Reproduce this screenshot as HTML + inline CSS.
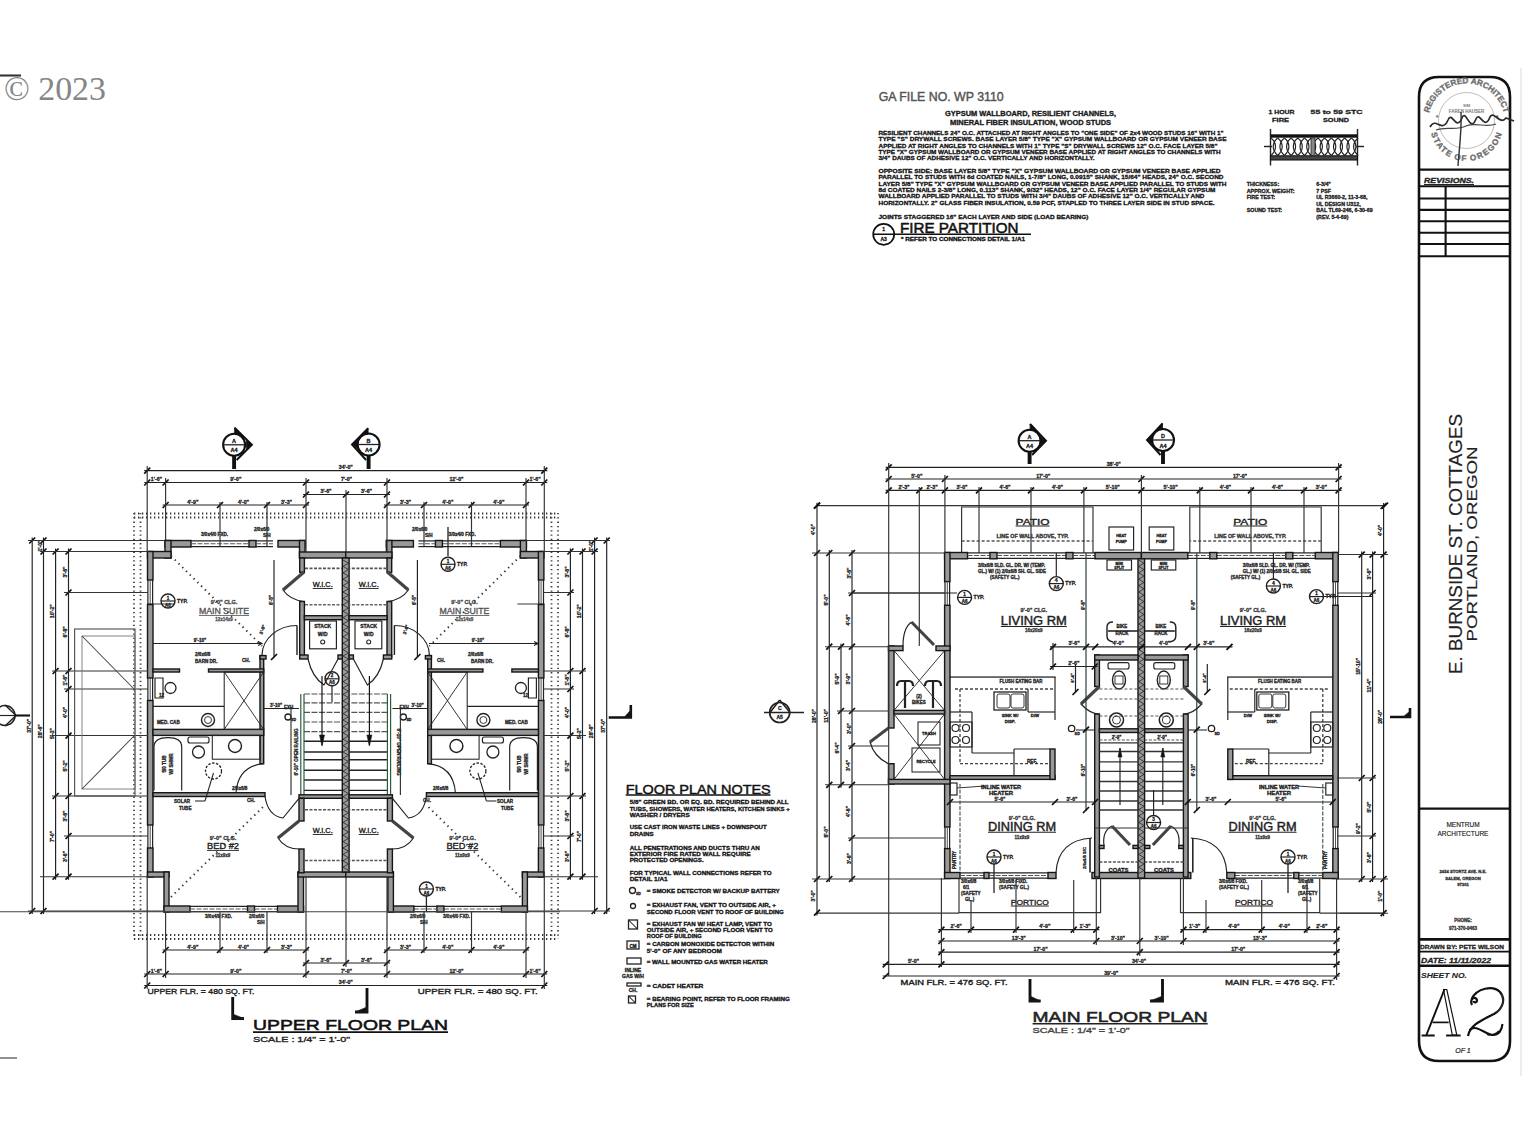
<!DOCTYPE html>
<html><head><meta charset="utf-8"><style>
html,body{margin:0;padding:0;background:#fff;}
body{width:1522px;height:1141px;overflow:hidden;}
svg{display:block;}
</style></head><body>
<svg width="1522" height="1141" viewBox="0 0 1522 1141">
<rect x="0" y="0" width="1522" height="1141" fill="#fff"/>
<line x1="0" y1="75.5" x2="21" y2="75.5" stroke="#333" stroke-width="2.08"/>
<text x="4" y="100" font-family="Liberation Serif" font-size="34" font-weight="normal" fill="#858585" text-anchor="start" textLength="102" lengthAdjust="spacingAndGlyphs">© 2023</text>
<rect x="1520" y="68" width="2" height="1008" fill="#ececec" stroke="none" stroke-width="0.0"/>
<path d="M1419,1041 L1419,97 Q1419,77 1439,77 L1490,77 Q1510,77 1510,97 L1510,1041 Q1510,1061 1490,1061 L1439,1061 Q1419,1061 1419,1041 Z" stroke="#111" stroke-width="2.6" fill="none"/>
<defs><path id="sealtop" d="M1432.5,140 A38.5,38.5 0 1 1 1500.5,140"/><path id="sealbot" d="M1436,130 A31,31 0 0 0 1497,130"/></defs>
<text font-family="Liberation Sans" font-size="8.2" font-weight="bold" fill="#666" stroke="#777" stroke-width="0.35" letter-spacing="0"><textPath href="#sealtop" startOffset="50%" text-anchor="middle">REGISTERED ARCHITECT</textPath></text>
<text font-family="Liberation Sans" font-size="8.2" font-weight="bold" fill="#666" stroke="#777" stroke-width="0.35" letter-spacing="0.3"><textPath href="#sealbot" startOffset="50%" text-anchor="middle" dominant-baseline="hanging">STATE OF OREGON</textPath></text>
<circle cx="1466.5" cy="120.5" r="28" stroke="#999" stroke-width="0.65" fill="none"/>
<text x="1466.5" y="107" font-family="Liberation Sans" font-size="4" font-weight="bold" fill="#777" text-anchor="middle">SIM</text>
<text x="1466.5" y="113" font-family="Liberation Sans" font-size="4.5" font-weight="bold" fill="#777" text-anchor="middle">FAREN HAUSER</text>
<text x="1437" y="120" font-family="Liberation Sans" font-size="7" font-weight="bold" fill="#666" text-anchor="middle">*</text>
<text x="1497" y="120" font-family="Liberation Sans" font-size="7" font-weight="bold" fill="#666" text-anchor="middle">*</text>
<path d="M1430,127 C1436,116 1442,134 1448,120 C1452,110 1456,132 1462,118 C1466,108 1470,134 1476,119 C1480,110 1484,132 1490,117 C1494,110 1500,126 1506,118 L1514,121" stroke="#2a2a2a" stroke-width="1.69" fill="none"/>
<path d="M1436,130 C1446,126 1456,131 1466,126 C1476,122 1486,128 1496,124" stroke="#444" stroke-width="1.17" fill="none"/>
<path d="M1461,112 C1462,130 1459,150 1458,166" stroke="#333" stroke-width="1.43" fill="none"/>
<line x1="1419" y1="169.6" x2="1510" y2="169.6" stroke="#111" stroke-width="2.34"/>
<text x="1424" y="183" font-family="Liberation Sans" font-size="6.5" font-weight="bold" fill="#222" text-anchor="start" textLength="50" lengthAdjust="spacingAndGlyphs" font-style="italic" stroke="#222" stroke-width="0.3">REVISIONS.</text>
<line x1="1424" y1="184.5" x2="1474" y2="184.5" stroke="#222" stroke-width="1.04"/>
<line x1="1419" y1="186.2" x2="1510" y2="186.2" stroke="#111" stroke-width="2.08"/>
<line x1="1419" y1="198.5" x2="1510" y2="198.5" stroke="#111" stroke-width="2.08"/>
<line x1="1419" y1="209.9" x2="1510" y2="209.9" stroke="#111" stroke-width="2.08"/>
<line x1="1419" y1="221.3" x2="1510" y2="221.3" stroke="#111" stroke-width="2.08"/>
<line x1="1419" y1="232.7" x2="1510" y2="232.7" stroke="#111" stroke-width="2.08"/>
<line x1="1419" y1="244" x2="1510" y2="244" stroke="#111" stroke-width="2.08"/>
<line x1="1419" y1="256.3" x2="1510" y2="256.3" stroke="#111" stroke-width="2.08"/>
<line x1="1445.6" y1="186.2" x2="1445.6" y2="256.3" stroke="#111" stroke-width="2.08"/>
<text x="1461.5" y="674" font-family="Liberation Sans" font-size="17.5" font-weight="normal" fill="#222" text-anchor="start" transform="rotate(-90 1461.5 674)" textLength="260" lengthAdjust="spacingAndGlyphs" stroke="#222" stroke-width="0.15">E. BURNSIDE ST. COTTAGES</text>
<text x="1477" y="641.5" font-family="Liberation Sans" font-size="15.5" font-weight="normal" fill="#222" text-anchor="start" transform="rotate(-90 1477 641.5)" textLength="195" lengthAdjust="spacingAndGlyphs" stroke="#222" stroke-width="0.15">PORTLAND, OREGON</text>
<line x1="1419" y1="808.6" x2="1510" y2="808.6" stroke="#111" stroke-width="2.08"/>
<text x="1463" y="827" font-family="Liberation Sans" font-size="6.5" font-weight="normal" fill="#222" text-anchor="middle" stroke="#222" stroke-width="0.15">MENTRUM</text>
<text x="1463" y="836" font-family="Liberation Sans" font-size="6.5" font-weight="normal" fill="#222" text-anchor="middle" stroke="#222" stroke-width="0.15">ARCHITECTURE</text>
<text x="1463" y="873" font-family="Liberation Sans" font-size="4.2" font-weight="bold" fill="#333" text-anchor="middle" stroke="#333" stroke-width="0.3">2454 STORTZ AVE. N.E.</text>
<text x="1463" y="879.5" font-family="Liberation Sans" font-size="4.2" font-weight="bold" fill="#333" text-anchor="middle" stroke="#333" stroke-width="0.3">SALEM, OREGON</text>
<text x="1463" y="886" font-family="Liberation Sans" font-size="4.2" font-weight="bold" fill="#333" text-anchor="middle" stroke="#333" stroke-width="0.3">97301</text>
<text x="1463" y="922" font-family="Liberation Sans" font-size="4.5" font-weight="bold" fill="#333" text-anchor="middle" stroke="#333" stroke-width="0.3">PHONE:</text>
<text x="1463" y="929.5" font-family="Liberation Sans" font-size="4.5" font-weight="bold" fill="#333" text-anchor="middle" stroke="#333" stroke-width="0.3">971-370-9463</text>
<line x1="1419" y1="939.4" x2="1510" y2="939.4" stroke="#111" stroke-width="2.6"/>
<text x="1420" y="948.6" font-family="Liberation Sans" font-size="6" font-weight="bold" fill="#222" text-anchor="start" textLength="84" lengthAdjust="spacingAndGlyphs" stroke="#222" stroke-width="0.3">DRAWN BY: PETE WILSON</text>
<line x1="1419" y1="951.7" x2="1510" y2="951.7" stroke="#111" stroke-width="1.82"/>
<text x="1421" y="962.7" font-family="Liberation Sans" font-size="8" font-weight="bold" fill="#222" text-anchor="start" textLength="70" lengthAdjust="spacingAndGlyphs" font-style="italic" stroke="#222" stroke-width="0.3">DATE: 11/11/2022</text>
<line x1="1419" y1="965.7" x2="1510" y2="965.7" stroke="#111" stroke-width="2.6"/>
<text x="1421" y="978.4" font-family="Liberation Sans" font-size="8" font-weight="bold" fill="#222" text-anchor="start" textLength="46" lengthAdjust="spacingAndGlyphs" font-style="italic" stroke="#222" stroke-width="0.1">SHEET NO.</text>
<path d="M1426.4,1035 L1444.4,989.5" stroke="#111" stroke-width="1.95" fill="none"/>
<path d="M1443.5,989.5 L1446.8,989.5 L1456.8,1035 L1452.3,1035 Z" stroke="#111" stroke-width="1.17" fill="none"/>
<path d="M1432.5,1022.4 L1448.7,1022.4" stroke="#111" stroke-width="1.69" fill="none"/>
<path d="M1421.6,1035.5 L1434.7,1035.5 M1446.1,1035.5 L1460.6,1035.5" stroke="#111" stroke-width="1.95" fill="none"/>
<path d="M1472,1005 C1469,998 1476,996 1477,1000 C1477,1003 1474,1003 1473.5,1001 M1471.5,999 C1477,988 1493,985 1500,992 C1506,999 1503,1009 1494,1014 C1482,1020 1470,1025 1468,1036" stroke="#111" stroke-width="2.21" fill="none"/>
<path d="M1501.5,994 C1505,1001 1502,1009 1496,1013" stroke="#333" stroke-width="1.17" fill="none"/>
<path d="M1469.5,1030 C1477,1023 1486,1036 1494,1035 C1500,1034 1502,1028 1502.5,1024 M1487,1034 C1492,1036 1497,1034 1499,1031" stroke="#111" stroke-width="2.08" fill="none"/>
<text x="1463" y="1053" font-family="Liberation Sans" font-size="7" font-weight="normal" fill="#222" text-anchor="middle" font-style="italic" stroke="#222" stroke-width="0.2">OF 1</text>
<text x="878.7" y="101.2" font-family="Liberation Sans" font-size="12" font-weight="normal" fill="#555" text-anchor="start" textLength="125" lengthAdjust="spacingAndGlyphs" stroke="#555" stroke-width="0.42000000000000004">GA FILE NO. WP 3110</text>
<text x="1030.5" y="116" font-family="Liberation Sans" font-size="6.5" font-weight="bold" fill="#1a1a1a" text-anchor="middle" textLength="171" lengthAdjust="spacingAndGlyphs" stroke="#1a1a1a" stroke-width="0.3">GYPSUM WALLBOARD, RESILIENT CHANNELS,</text>
<text x="1030.5" y="125" font-family="Liberation Sans" font-size="6.5" font-weight="bold" fill="#1a1a1a" text-anchor="middle" textLength="161" lengthAdjust="spacingAndGlyphs" stroke="#1a1a1a" stroke-width="0.3">MINERAL FIBER INSULATION, WOOD STUDS</text>
<text x="878.5" y="134.8" font-family="Liberation Sans" font-size="6.2" font-weight="bold" fill="#111" text-anchor="start" textLength="345" lengthAdjust="spacingAndGlyphs" stroke="#111" stroke-width="0.3">RESILIENT CHANNELS 24" O.C. ATTACHED AT RIGHT ANGLES TO "ONE SIDE" OF 2x4 WOOD STUDS 16" WITH 1"</text>
<text x="878.5" y="141.2" font-family="Liberation Sans" font-size="6.2" font-weight="bold" fill="#111" text-anchor="start" textLength="348" lengthAdjust="spacingAndGlyphs" stroke="#111" stroke-width="0.3">TYPE "S" DRYWALL SCREWS. BASE LAYER 5/8" TYPE "X" GYPSUM WALLBOARD OR GYPSUM VENEER BASE</text>
<text x="878.5" y="147.5" font-family="Liberation Sans" font-size="6.2" font-weight="bold" fill="#111" text-anchor="start" textLength="339" lengthAdjust="spacingAndGlyphs" stroke="#111" stroke-width="0.3">APPLIED AT RIGHT ANGLES TO CHANNELS WITH 1" TYPE "S" DRYWALL SCREWS 12" O.C. FACE LAYER 5/8"</text>
<text x="878.5" y="153.9" font-family="Liberation Sans" font-size="6.2" font-weight="bold" fill="#111" text-anchor="start" textLength="342" lengthAdjust="spacingAndGlyphs" stroke="#111" stroke-width="0.3">TYPE "X" GYPSUM WALLBOARD OR GYPSUM VENEER BASE APPLIED AT RIGHT ANGLES TO CHANNELS WITH</text>
<text x="878.5" y="160.2" font-family="Liberation Sans" font-size="6.2" font-weight="bold" fill="#111" text-anchor="start" textLength="216" lengthAdjust="spacingAndGlyphs" stroke="#111" stroke-width="0.3">3/4" DAUBS OF ADHESIVE 12" O.C. VERTICALLY AND HORIZONTALLY.</text>
<text x="878.5" y="173" font-family="Liberation Sans" font-size="6.2" font-weight="bold" fill="#111" text-anchor="start" textLength="342" lengthAdjust="spacingAndGlyphs" stroke="#111" stroke-width="0.3">OPPOSITE SIDE: BASE LAYER 5/8" TYPE "X" GYPSUM WALLBOARD OR GYPSUM VENEER BASE APPLIED</text>
<text x="878.5" y="179.3" font-family="Liberation Sans" font-size="6.2" font-weight="bold" fill="#111" text-anchor="start" textLength="345" lengthAdjust="spacingAndGlyphs" stroke="#111" stroke-width="0.3">PARALLEL TO STUDS WITH 6d COATED NAILS, 1-7/8" LONG, 0.0915" SHANK, 15/64" HEADS, 24" O.C. SECOND</text>
<text x="878.5" y="185.7" font-family="Liberation Sans" font-size="6.2" font-weight="bold" fill="#111" text-anchor="start" textLength="348" lengthAdjust="spacingAndGlyphs" stroke="#111" stroke-width="0.3">LAYER 5/8" TYPE "X" GYPSUM WALLBOARD OR GYPSUM VENEER BASE APPLIED PARALLEL TO STUDS WITH</text>
<text x="878.5" y="192.1" font-family="Liberation Sans" font-size="6.2" font-weight="bold" fill="#111" text-anchor="start" textLength="337" lengthAdjust="spacingAndGlyphs" stroke="#111" stroke-width="0.3">8d COATED NAILS 2-3/8" LONG, 0.113" SHANK, 9/32" HEADS, 12" O.C. FACE LAYER 1/4" REGULAR GYPSUM</text>
<text x="878.5" y="198.4" font-family="Liberation Sans" font-size="6.2" font-weight="bold" fill="#111" text-anchor="start" textLength="326" lengthAdjust="spacingAndGlyphs" stroke="#111" stroke-width="0.3">WALLBOARD APPLIED PARALLEL TO STUDS WITH 3/4" DAUBS OF ADHESIVE 12" O.C. VERTICALLY AND</text>
<text x="878.5" y="204.8" font-family="Liberation Sans" font-size="6.2" font-weight="bold" fill="#111" text-anchor="start" textLength="336" lengthAdjust="spacingAndGlyphs" stroke="#111" stroke-width="0.3">HORIZONTALLY. 2" GLASS FIBER INSULATION, 0.59 PCF, STAPLED TO THREE LAYER SIDE IN STUD SPACE.</text>
<text x="878.5" y="219" font-family="Liberation Sans" font-size="6" font-weight="bold" fill="#111" text-anchor="start" textLength="210" lengthAdjust="spacingAndGlyphs" stroke="#111" stroke-width="0.3">JOINTS STAGGERED 16" EACH LAYER AND SIDE (LOAD BEARING)</text>
<circle cx="883.7" cy="234.3" r="10.5" stroke="#111" stroke-width="1.69" fill="none"/>
<line x1="873.5" y1="234.3" x2="1031" y2="234.3" stroke="#111" stroke-width="1.56"/>
<text x="883.7" y="231" font-family="Liberation Sans" font-size="5" font-weight="bold" fill="#1a1a1a" text-anchor="middle" stroke="#1a1a1a" stroke-width="0.3">1</text>
<text x="883.7" y="241" font-family="Liberation Sans" font-size="5" font-weight="bold" fill="#1a1a1a" text-anchor="middle" stroke="#1a1a1a" stroke-width="0.3">A3</text>
<text x="900" y="232.8" font-family="Liberation Sans" font-size="14.5" font-weight="normal" fill="#111" text-anchor="start" textLength="118.5" lengthAdjust="spacingAndGlyphs" stroke="#111" stroke-width="0.5075000000000001">FIRE PARTITION</text>
<text x="901" y="241.3" font-family="Liberation Sans" font-size="5.6" font-weight="bold" fill="#111" text-anchor="start" textLength="124" lengthAdjust="spacingAndGlyphs" stroke="#111" stroke-width="0.3">* REFER TO CONNECTIONS DETAIL 1/A1</text>
<text x="1268.5" y="113.5" font-family="Liberation Sans" font-size="6" font-weight="bold" fill="#1a1a1a" text-anchor="start" textLength="26" lengthAdjust="spacingAndGlyphs" stroke="#1a1a1a" stroke-width="0.3">1 HOUR</text>
<text x="1272" y="121.5" font-family="Liberation Sans" font-size="6" font-weight="bold" fill="#1a1a1a" text-anchor="start" textLength="17" lengthAdjust="spacingAndGlyphs" stroke="#1a1a1a" stroke-width="0.3">FIRE</text>
<text x="1310.6" y="113.5" font-family="Liberation Sans" font-size="6" font-weight="bold" fill="#1a1a1a" text-anchor="start" textLength="52" lengthAdjust="spacingAndGlyphs" stroke="#1a1a1a" stroke-width="0.3">55 to 59 STC</text>
<text x="1323" y="121.5" font-family="Liberation Sans" font-size="6" font-weight="bold" fill="#1a1a1a" text-anchor="start" textLength="26" lengthAdjust="spacingAndGlyphs" stroke="#1a1a1a" stroke-width="0.3">SOUND</text>
<line x1="1270.5" y1="129" x2="1270.5" y2="165.5" stroke="#222" stroke-width="1.43"/>
<line x1="1357.5" y1="129" x2="1357.5" y2="165.5" stroke="#222" stroke-width="1.43"/>
<rect x="1270.5" y="134.3" width="87" height="3.4" fill="#111" stroke="none" stroke-width="0.0"/>
<rect x="1270.5" y="155.8" width="87" height="4.2" fill="#444" stroke="#111" stroke-width="1.04"/>
<path d="M1271.0,138 C1277.0,143 1277.0,150 1271.0,155.5 M1277.7,138 C1271.7,143 1271.7,150 1277.7,155.5" stroke="#222" stroke-width="1.17" fill="none"/>
<path d="M1277.7,138 C1283.7,143 1283.7,150 1277.7,155.5 M1284.4,138 C1278.4,143 1278.4,150 1284.4,155.5" stroke="#222" stroke-width="1.17" fill="none"/>
<path d="M1284.4,138 C1290.4,143 1290.4,150 1284.4,155.5 M1291.1000000000001,138 C1285.1000000000001,143 1285.1000000000001,150 1291.1000000000001,155.5" stroke="#222" stroke-width="1.17" fill="none"/>
<path d="M1291.1,138 C1297.1,143 1297.1,150 1291.1,155.5 M1297.8,138 C1291.8,143 1291.8,150 1297.8,155.5" stroke="#222" stroke-width="1.17" fill="none"/>
<path d="M1297.8,138 C1303.8,143 1303.8,150 1297.8,155.5 M1304.5,138 C1298.5,143 1298.5,150 1304.5,155.5" stroke="#222" stroke-width="1.17" fill="none"/>
<path d="M1304.5,138 C1310.5,143 1310.5,150 1304.5,155.5 M1311.2,138 C1305.2,143 1305.2,150 1311.2,155.5" stroke="#222" stroke-width="1.17" fill="none"/>
<path d="M1311.2,138 C1317.2,143 1317.2,150 1311.2,155.5 M1317.9,138 C1311.9,143 1311.9,150 1317.9,155.5" stroke="#222" stroke-width="1.17" fill="none"/>
<path d="M1317.9,138 C1323.9,143 1323.9,150 1317.9,155.5 M1324.6000000000001,138 C1318.6000000000001,143 1318.6000000000001,150 1324.6000000000001,155.5" stroke="#222" stroke-width="1.17" fill="none"/>
<path d="M1324.6,138 C1330.6,143 1330.6,150 1324.6,155.5 M1331.3,138 C1325.3,143 1325.3,150 1331.3,155.5" stroke="#222" stroke-width="1.17" fill="none"/>
<path d="M1331.3,138 C1337.3,143 1337.3,150 1331.3,155.5 M1338.0,138 C1332.0,143 1332.0,150 1338.0,155.5" stroke="#222" stroke-width="1.17" fill="none"/>
<path d="M1338.0,138 C1344.0,143 1344.0,150 1338.0,155.5 M1344.7,138 C1338.7,143 1338.7,150 1344.7,155.5" stroke="#222" stroke-width="1.17" fill="none"/>
<path d="M1344.7,138 C1350.7,143 1350.7,150 1344.7,155.5 M1351.4,138 C1345.4,143 1345.4,150 1351.4,155.5" stroke="#222" stroke-width="1.17" fill="none"/>
<path d="M1351.4,138 C1357.4,143 1357.4,150 1351.4,155.5 M1358.1000000000001,138 C1352.1000000000001,143 1352.1000000000001,150 1358.1000000000001,155.5" stroke="#222" stroke-width="1.17" fill="none"/>
<rect x="1311" y="138" width="4" height="17.5" fill="#888" stroke="#222" stroke-width="0.78"/>
<line x1="1264" y1="146.5" x2="1272" y2="146.5" stroke="#222" stroke-width="1.43"/>
<line x1="1356" y1="146.5" x2="1364" y2="146.5" stroke="#222" stroke-width="1.43"/>
<text x="1246.8" y="186.3" font-family="Liberation Sans" font-size="5.3" font-weight="bold" fill="#1a1a1a" text-anchor="start" stroke="#1a1a1a" stroke-width="0.3">THICKNESS:</text>
<text x="1246.8" y="192.6" font-family="Liberation Sans" font-size="5.3" font-weight="bold" fill="#1a1a1a" text-anchor="start" stroke="#1a1a1a" stroke-width="0.3">APPROX. WEIGHT:</text>
<text x="1246.8" y="199.4" font-family="Liberation Sans" font-size="5.3" font-weight="bold" fill="#1a1a1a" text-anchor="start" stroke="#1a1a1a" stroke-width="0.3">FIRE TEST:</text>
<text x="1246.8" y="211.9" font-family="Liberation Sans" font-size="5.3" font-weight="bold" fill="#1a1a1a" text-anchor="start" stroke="#1a1a1a" stroke-width="0.3">SOUND TEST:</text>
<text x="1316.3" y="186.3" font-family="Liberation Sans" font-size="5.3" font-weight="bold" fill="#1a1a1a" text-anchor="start" stroke="#1a1a1a" stroke-width="0.3">6-3/4"</text>
<text x="1316.3" y="192.6" font-family="Liberation Sans" font-size="5.3" font-weight="bold" fill="#1a1a1a" text-anchor="start" stroke="#1a1a1a" stroke-width="0.3">7 PSF</text>
<text x="1316.3" y="199.4" font-family="Liberation Sans" font-size="5.3" font-weight="bold" fill="#1a1a1a" text-anchor="start" stroke="#1a1a1a" stroke-width="0.3">UL R3660-2, 11-3-68,</text>
<text x="1316.3" y="205.7" font-family="Liberation Sans" font-size="5.3" font-weight="bold" fill="#1a1a1a" text-anchor="start" stroke="#1a1a1a" stroke-width="0.3">UL DESIGN U312,</text>
<text x="1316.3" y="211.9" font-family="Liberation Sans" font-size="5.3" font-weight="bold" fill="#1a1a1a" text-anchor="start" stroke="#1a1a1a" stroke-width="0.3">BAL TL69-246, 6-30-69</text>
<text x="1316.3" y="218.8" font-family="Liberation Sans" font-size="5.3" font-weight="bold" fill="#1a1a1a" text-anchor="start" stroke="#1a1a1a" stroke-width="0.3">(REV. 5-4-69)</text>
<text x="625.7" y="793.5" font-family="Liberation Sans" font-size="13" font-weight="normal" fill="#111" text-anchor="start" textLength="145" lengthAdjust="spacingAndGlyphs" stroke="#111" stroke-width="0.45500000000000007">FLOOR PLAN NOTES</text>
<line x1="625.7" y1="795" x2="770.5" y2="795" stroke="#111" stroke-width="1.56"/>
<text x="629.7" y="804" font-family="Liberation Sans" font-size="5.8" font-weight="bold" fill="#111" text-anchor="start" textLength="159" lengthAdjust="spacingAndGlyphs" stroke="#111" stroke-width="0.3">5/8" GREEN BD. OR EQ. BD. REQUIRED BEHIND ALL</text>
<text x="629.7" y="810.7" font-family="Liberation Sans" font-size="5.8" font-weight="bold" fill="#111" text-anchor="start" textLength="160" lengthAdjust="spacingAndGlyphs" stroke="#111" stroke-width="0.3">TUBS, SHOWERS, WATER HEATERS, KITCHEN SINKS +</text>
<text x="629.7" y="817" font-family="Liberation Sans" font-size="5.8" font-weight="bold" fill="#111" text-anchor="start" textLength="60" lengthAdjust="spacingAndGlyphs" stroke="#111" stroke-width="0.3">WASHER / DRYERS</text>
<text x="629.7" y="829" font-family="Liberation Sans" font-size="5.8" font-weight="bold" fill="#111" text-anchor="start" textLength="137" lengthAdjust="spacingAndGlyphs" stroke="#111" stroke-width="0.3">USE CAST IRON WASTE LINES + DOWNSPOUT</text>
<text x="629.7" y="836" font-family="Liberation Sans" font-size="5.8" font-weight="bold" fill="#111" text-anchor="start" textLength="24" lengthAdjust="spacingAndGlyphs" stroke="#111" stroke-width="0.3">DRAINS</text>
<text x="629.7" y="849.6" font-family="Liberation Sans" font-size="5.8" font-weight="bold" fill="#111" text-anchor="start" textLength="130" lengthAdjust="spacingAndGlyphs" stroke="#111" stroke-width="0.3">ALL PENETRATIONS AND DUCTS THRU AN</text>
<text x="629.7" y="856" font-family="Liberation Sans" font-size="5.8" font-weight="bold" fill="#111" text-anchor="start" textLength="121" lengthAdjust="spacingAndGlyphs" stroke="#111" stroke-width="0.3">EXTERIOR FIRE RATED WALL REQUIRE</text>
<text x="629.7" y="862" font-family="Liberation Sans" font-size="5.8" font-weight="bold" fill="#111" text-anchor="start" textLength="74" lengthAdjust="spacingAndGlyphs" stroke="#111" stroke-width="0.3">PROTECTED OPENINGS.</text>
<text x="629.7" y="875" font-family="Liberation Sans" font-size="5.8" font-weight="bold" fill="#111" text-anchor="start" textLength="142" lengthAdjust="spacingAndGlyphs" stroke="#111" stroke-width="0.3">FOR TYPICAL WALL CONNECTIONS REFER TO</text>
<text x="629.7" y="881" font-family="Liberation Sans" font-size="5.8" font-weight="bold" fill="#111" text-anchor="start" textLength="38" lengthAdjust="spacingAndGlyphs" stroke="#111" stroke-width="0.3">DETAIL 1/A1</text>
<text x="646.8" y="893" font-family="Liberation Sans" font-size="5.8" font-weight="bold" fill="#111" text-anchor="start" textLength="133" lengthAdjust="spacingAndGlyphs" stroke="#111" stroke-width="0.3">= SMOKE DETECTOR W/ BACKUP BATTERY</text>
<text x="646.8" y="907" font-family="Liberation Sans" font-size="5.8" font-weight="bold" fill="#111" text-anchor="start" textLength="129" lengthAdjust="spacingAndGlyphs" stroke="#111" stroke-width="0.3">= EXHAUST FAN, VENT TO OUTSIDE AIR, +</text>
<text x="646.8" y="914" font-family="Liberation Sans" font-size="5.8" font-weight="bold" fill="#111" text-anchor="start" textLength="137" lengthAdjust="spacingAndGlyphs" stroke="#111" stroke-width="0.3">SECOND FLOOR VENT TO ROOF OF BUILDING</text>
<text x="646.8" y="925.6" font-family="Liberation Sans" font-size="5.8" font-weight="bold" fill="#111" text-anchor="start" textLength="125" lengthAdjust="spacingAndGlyphs" stroke="#111" stroke-width="0.3">= EXHAUST FAN W/ HEAT LAMP, VENT TO</text>
<text x="646.8" y="932" font-family="Liberation Sans" font-size="5.8" font-weight="bold" fill="#111" text-anchor="start" textLength="126" lengthAdjust="spacingAndGlyphs" stroke="#111" stroke-width="0.3">OUTSIDE AIR, + SECOND FLOOR VENT TO</text>
<text x="646.8" y="938" font-family="Liberation Sans" font-size="5.8" font-weight="bold" fill="#111" text-anchor="start" textLength="55" lengthAdjust="spacingAndGlyphs" stroke="#111" stroke-width="0.3">ROOF OF BUILDING</text>
<text x="646.8" y="946" font-family="Liberation Sans" font-size="5.8" font-weight="bold" fill="#111" text-anchor="start" textLength="127.5" lengthAdjust="spacingAndGlyphs" stroke="#111" stroke-width="0.3">= CARBON MONOXIDE DETECTOR WITHIN</text>
<text x="646.8" y="952.6" font-family="Liberation Sans" font-size="5.8" font-weight="bold" fill="#111" text-anchor="start" textLength="75" lengthAdjust="spacingAndGlyphs" stroke="#111" stroke-width="0.3">5'-0" OF ANY BEDROOM</text>
<text x="646.8" y="964" font-family="Liberation Sans" font-size="5.8" font-weight="bold" fill="#111" text-anchor="start" textLength="121" lengthAdjust="spacingAndGlyphs" stroke="#111" stroke-width="0.3">= WALL MOUNTED GAS WATER HEATER</text>
<text x="646.8" y="988" font-family="Liberation Sans" font-size="5.8" font-weight="bold" fill="#111" text-anchor="start" textLength="56.5" lengthAdjust="spacingAndGlyphs" stroke="#111" stroke-width="0.3">= CADET HEATER</text>
<text x="646.8" y="1000.5" font-family="Liberation Sans" font-size="5.8" font-weight="bold" fill="#111" text-anchor="start" textLength="143" lengthAdjust="spacingAndGlyphs" stroke="#111" stroke-width="0.3">= BEARING POINT, REFER TO FLOOR FRAMING</text>
<text x="646.8" y="1007" font-family="Liberation Sans" font-size="5.8" font-weight="bold" fill="#111" text-anchor="start" textLength="47" lengthAdjust="spacingAndGlyphs" stroke="#111" stroke-width="0.3">PLANS FOR SIZE</text>
<circle cx="632.5" cy="890.5" r="3" stroke="#222" stroke-width="1.3" fill="none"/>
<text x="636" y="895" font-family="Liberation Sans" font-size="3.5" font-weight="bold" fill="#1a1a1a" text-anchor="start" stroke="#1a1a1a" stroke-width="0.3">SD</text>
<circle cx="633" cy="906" r="2.5" stroke="#222" stroke-width="1.3" fill="none"/>
<rect x="628.5" y="920" width="9" height="9" fill="none" stroke="#222" stroke-width="1.3"/>
<line x1="628.5" y1="920" x2="637.5" y2="929" stroke="#222" stroke-width="1.04"/>
<rect x="627" y="941" width="12" height="8" fill="none" stroke="#222" stroke-width="1.3"/>
<text x="633" y="947.5" font-family="Liberation Sans" font-size="4.5" font-weight="bold" fill="#1a1a1a" text-anchor="middle" stroke="#1a1a1a" stroke-width="0.3">CM</text>
<rect x="627" y="958" width="14" height="6" fill="none" stroke="#222" stroke-width="1.3"/>
<text x="633" y="971.5" font-family="Liberation Sans" font-size="5" font-weight="bold" fill="#1a1a1a" text-anchor="middle" stroke="#1a1a1a" stroke-width="0.3">INLINE</text>
<text x="633" y="977.5" font-family="Liberation Sans" font-size="5" font-weight="bold" fill="#1a1a1a" text-anchor="middle" stroke="#1a1a1a" stroke-width="0.3">GAS W/H</text>
<rect x="627" y="983" width="14" height="3" fill="none" stroke="#222" stroke-width="1.3"/>
<text x="633" y="992" font-family="Liberation Sans" font-size="5" font-weight="bold" fill="#1a1a1a" text-anchor="middle" stroke="#1a1a1a" stroke-width="0.3">CH.</text>
<rect x="628.5" y="996" width="7" height="7" fill="none" stroke="#222" stroke-width="1.3"/>
<line x1="628.5" y1="996" x2="635.5" y2="1003" stroke="#222" stroke-width="1.04"/>
<line x1="0" y1="1058" x2="17" y2="1058" stroke="#555" stroke-width="1.3"/>
<line x1="134" y1="513.5" x2="557" y2="513.5" stroke="#333" stroke-width="1.95" stroke-dasharray="1.3 2.7"/>
<line x1="134" y1="517.5" x2="557" y2="517.5" stroke="#333" stroke-width="1.95" stroke-dasharray="1.3 2.7"/>
<line x1="134" y1="935" x2="557" y2="935" stroke="#333" stroke-width="1.95" stroke-dasharray="1.3 2.7"/>
<line x1="134" y1="939" x2="557" y2="939" stroke="#333" stroke-width="1.95" stroke-dasharray="1.3 2.7"/>
<line x1="134" y1="513" x2="134" y2="939" stroke="#444" stroke-width="1.82" stroke-dasharray="1.3 3"/>
<line x1="140.5" y1="513" x2="140.5" y2="939" stroke="#444" stroke-width="1.82" stroke-dasharray="1.3 3"/>
<line x1="551.5" y1="513" x2="551.5" y2="939" stroke="#444" stroke-width="1.82" stroke-dasharray="1.3 3"/>
<line x1="558" y1="513" x2="558" y2="939" stroke="#444" stroke-width="1.82" stroke-dasharray="1.3 3"/>
<rect x="165" y="540.5" width="26" height="6.5" fill="#999" stroke="#151515" stroke-width="1.4"/>
<rect x="500.4" y="540.5" width="26" height="6.5" fill="#999" stroke="#151515" stroke-width="1.4"/>
<line x1="191" y1="540.9" x2="249" y2="540.9" stroke="#222" stroke-width="1.23"/>
<line x1="191" y1="546.6" x2="249" y2="546.6" stroke="#222" stroke-width="1.23"/>
<line x1="191" y1="543.8" x2="249" y2="543.8" stroke="#555" stroke-width="1.04" stroke-dasharray="5 1.5"/>
<line x1="442.4" y1="540.9" x2="500.4" y2="540.9" stroke="#222" stroke-width="1.23"/>
<line x1="442.4" y1="546.6" x2="500.4" y2="546.6" stroke="#222" stroke-width="1.23"/>
<line x1="442.4" y1="543.8" x2="500.4" y2="543.8" stroke="#555" stroke-width="1.04" stroke-dasharray="5 1.5"/>
<rect x="249" y="540.5" width="7" height="6.5" fill="#999" stroke="#151515" stroke-width="1.4"/>
<rect x="435.4" y="540.5" width="7" height="6.5" fill="#999" stroke="#151515" stroke-width="1.4"/>
<line x1="256" y1="540.9" x2="273" y2="540.9" stroke="#222" stroke-width="1.23"/>
<line x1="256" y1="546.6" x2="273" y2="546.6" stroke="#222" stroke-width="1.23"/>
<line x1="256" y1="543.8" x2="273" y2="543.8" stroke="#555" stroke-width="1.04" stroke-dasharray="5 1.5"/>
<line x1="418.4" y1="540.9" x2="435.4" y2="540.9" stroke="#222" stroke-width="1.23"/>
<line x1="418.4" y1="546.6" x2="435.4" y2="546.6" stroke="#222" stroke-width="1.23"/>
<line x1="418.4" y1="543.8" x2="435.4" y2="543.8" stroke="#555" stroke-width="1.04" stroke-dasharray="5 1.5"/>
<rect x="278" y="540.5" width="27" height="6.5" fill="#999" stroke="#151515" stroke-width="1.4"/>
<rect x="386.4" y="540.5" width="27" height="6.5" fill="#999" stroke="#151515" stroke-width="1.4"/>
<rect x="299.5" y="540.5" width="5.5" height="17.5" fill="#999" stroke="#151515" stroke-width="1.4"/>
<rect x="386.4" y="540.5" width="5.5" height="17.5" fill="#999" stroke="#151515" stroke-width="1.4"/>
<rect x="165" y="540.5" width="6" height="17.5" fill="#999" stroke="#151515" stroke-width="1.4"/>
<rect x="520.4" y="540.5" width="6" height="17.5" fill="#999" stroke="#151515" stroke-width="1.4"/>
<rect x="147.5" y="551.5" width="23.5" height="6.5" fill="#999" stroke="#151515" stroke-width="1.4"/>
<rect x="520.4" y="551.5" width="23.5" height="6.5" fill="#999" stroke="#151515" stroke-width="1.4"/>
<rect x="299.5" y="552" width="46.2" height="6" fill="#999" stroke="#151515" stroke-width="1.4"/>
<rect x="345.7" y="552" width="46.2" height="6" fill="#999" stroke="#151515" stroke-width="1.4"/>
<rect x="147.5" y="551.5" width="5.5" height="28.5" fill="#999" stroke="#151515" stroke-width="1.4"/>
<rect x="538.4" y="551.5" width="5.5" height="28.5" fill="#999" stroke="#151515" stroke-width="1.4"/>
<line x1="147.9" y1="580" x2="147.9" y2="604.5" stroke="#222" stroke-width="1.23"/>
<line x1="152.6" y1="580" x2="152.6" y2="604.5" stroke="#222" stroke-width="1.23"/>
<line x1="150.2" y1="580" x2="150.2" y2="604.5" stroke="#555" stroke-width="1.04"/>
<line x1="538.8" y1="580" x2="538.8" y2="604.5" stroke="#222" stroke-width="1.23"/>
<line x1="543.5" y1="580" x2="543.5" y2="604.5" stroke="#222" stroke-width="1.23"/>
<line x1="541.1" y1="580" x2="541.1" y2="604.5" stroke="#555" stroke-width="1.04"/>
<rect x="147.5" y="604.5" width="5.5" height="73.5" fill="#999" stroke="#151515" stroke-width="1.4"/>
<rect x="538.4" y="604.5" width="5.5" height="73.5" fill="#999" stroke="#151515" stroke-width="1.4"/>
<line x1="147.9" y1="678" x2="147.9" y2="700.5" stroke="#222" stroke-width="1.23"/>
<line x1="152.6" y1="678" x2="152.6" y2="700.5" stroke="#222" stroke-width="1.23"/>
<line x1="150.2" y1="678" x2="150.2" y2="700.5" stroke="#555" stroke-width="1.04"/>
<line x1="538.8" y1="678" x2="538.8" y2="700.5" stroke="#222" stroke-width="1.23"/>
<line x1="543.5" y1="678" x2="543.5" y2="700.5" stroke="#222" stroke-width="1.23"/>
<line x1="541.1" y1="678" x2="541.1" y2="700.5" stroke="#555" stroke-width="1.04"/>
<rect x="147.5" y="700.5" width="5.5" height="124.5" fill="#999" stroke="#151515" stroke-width="1.4"/>
<rect x="538.4" y="700.5" width="5.5" height="124.5" fill="#999" stroke="#151515" stroke-width="1.4"/>
<line x1="147.9" y1="825" x2="147.9" y2="848" stroke="#222" stroke-width="1.23"/>
<line x1="152.6" y1="825" x2="152.6" y2="848" stroke="#222" stroke-width="1.23"/>
<line x1="150.2" y1="825" x2="150.2" y2="848" stroke="#555" stroke-width="1.04"/>
<line x1="538.8" y1="825" x2="538.8" y2="848" stroke="#222" stroke-width="1.23"/>
<line x1="543.5" y1="825" x2="543.5" y2="848" stroke="#222" stroke-width="1.23"/>
<line x1="541.1" y1="825" x2="541.1" y2="848" stroke="#555" stroke-width="1.04"/>
<rect x="147.5" y="848" width="5.5" height="29" fill="#999" stroke="#151515" stroke-width="1.4"/>
<rect x="538.4" y="848" width="5.5" height="29" fill="#999" stroke="#151515" stroke-width="1.4"/>
<rect x="147.5" y="872" width="21.5" height="5" fill="#999" stroke="#151515" stroke-width="1.4"/>
<rect x="522.4" y="872" width="21.5" height="5" fill="#999" stroke="#151515" stroke-width="1.4"/>
<rect x="164" y="872" width="5" height="40" fill="#999" stroke="#151515" stroke-width="1.4"/>
<rect x="522.4" y="872" width="5" height="40" fill="#999" stroke="#151515" stroke-width="1.4"/>
<rect x="164" y="906" width="26" height="6" fill="#999" stroke="#151515" stroke-width="1.4"/>
<rect x="501.4" y="906" width="26" height="6" fill="#999" stroke="#151515" stroke-width="1.4"/>
<line x1="190" y1="906.4" x2="247.5" y2="906.4" stroke="#222" stroke-width="1.23"/>
<line x1="190" y1="911.6" x2="247.5" y2="911.6" stroke="#222" stroke-width="1.23"/>
<line x1="190" y1="909" x2="247.5" y2="909" stroke="#555" stroke-width="1.04" stroke-dasharray="5 1.5"/>
<line x1="443.9" y1="906.4" x2="501.4" y2="906.4" stroke="#222" stroke-width="1.23"/>
<line x1="443.9" y1="911.6" x2="501.4" y2="911.6" stroke="#222" stroke-width="1.23"/>
<line x1="443.9" y1="909" x2="501.4" y2="909" stroke="#555" stroke-width="1.04" stroke-dasharray="5 1.5"/>
<rect x="247.5" y="906" width="7" height="6" fill="#999" stroke="#151515" stroke-width="1.4"/>
<rect x="436.9" y="906" width="7" height="6" fill="#999" stroke="#151515" stroke-width="1.4"/>
<line x1="254.5" y1="906.4" x2="277.5" y2="906.4" stroke="#222" stroke-width="1.23"/>
<line x1="254.5" y1="911.6" x2="277.5" y2="911.6" stroke="#222" stroke-width="1.23"/>
<line x1="254.5" y1="909" x2="277.5" y2="909" stroke="#555" stroke-width="1.04" stroke-dasharray="5 1.5"/>
<line x1="413.9" y1="906.4" x2="436.9" y2="906.4" stroke="#222" stroke-width="1.23"/>
<line x1="413.9" y1="911.6" x2="436.9" y2="911.6" stroke="#222" stroke-width="1.23"/>
<line x1="413.9" y1="909" x2="436.9" y2="909" stroke="#555" stroke-width="1.04" stroke-dasharray="5 1.5"/>
<rect x="277.5" y="906" width="26" height="6" fill="#999" stroke="#151515" stroke-width="1.4"/>
<rect x="387.9" y="906" width="26" height="6" fill="#999" stroke="#151515" stroke-width="1.4"/>
<rect x="298" y="872" width="5.5" height="40" fill="#999" stroke="#151515" stroke-width="1.4"/>
<rect x="387.9" y="872" width="5.5" height="40" fill="#999" stroke="#151515" stroke-width="1.4"/>
<rect x="298" y="872" width="47.7" height="5" fill="#999" stroke="#151515" stroke-width="1.4"/>
<rect x="345.7" y="872" width="47.7" height="5" fill="#999" stroke="#151515" stroke-width="1.4"/>
<rect x="342.3" y="558" width="6.8" height="314" fill="#9a9a9a" stroke="#151515" stroke-width="1.4"/>
<path d="M343,560 L348.5,563.2 L343,566.4 L348.5,569.6 L343,572.8 L348.5,576.0 L343,579.2 L348.5,582.4 L343,585.6 L348.5,588.8 L343,592.0 L348.5,595.2 L343,598.4 L348.5,601.6 L343,604.8 L348.5,608.0 L343,611.2 L348.5,614.4 L343,617.6 L348.5,620.8 L343,624.0 L348.5,627.2 L343,630.4 L348.5,633.6 L343,636.8 L348.5,640.0 L343,643.2 L348.5,646.4 L343,649.6 L348.5,652.8 L343,656.0 L348.5,659.2 L343,662.4 L348.5,665.6 L343,668.8 L348.5,672.0 L343,675.2 L348.5,678.4 L343,681.6 L348.5,684.8 L343,688.0 L348.5,691.2 L343,694.4 L348.5,697.6 L343,700.8 L348.5,704.0 L343,707.2 L348.5,710.4 L343,713.6 L348.5,716.8 L343,720.0 L348.5,723.2 L343,726.4 L348.5,729.6 L343,732.8 L348.5,736.0 L343,739.2 L348.5,742.4 L343,745.6 L348.5,748.8 L343,752.0 L348.5,755.2 L343,758.4 L348.5,761.6 L343,764.8 L348.5,768.0 L343,771.2 L348.5,774.4 L343,777.6 L348.5,780.8 L343,784.0 L348.5,787.2 L343,790.4 L348.5,793.6 L343,796.8 L348.5,800.0 L343,803.2 L348.5,806.4 L343,809.6 L348.5,812.8 L343,816.0 L348.5,819.2 L343,822.4000000000001 L348.5,825.6 L343,828.8 L348.5,832.0 L343,835.2 L348.5,838.4000000000001 L343,841.6 L348.5,844.8 L343,848.0 L348.5,851.2 L343,854.4000000000001 L348.5,857.6 L343,860.8 L348.5,864.0 L343,867.2 L348.5,870.4000000000001" stroke="#222" stroke-width="0.78" fill="none"/>
<rect x="299.7" y="558" width="4.7" height="14.3" fill="#999" stroke="#151515" stroke-width="1.4"/>
<rect x="387" y="558" width="4.7" height="14.3" fill="#999" stroke="#151515" stroke-width="1.4"/>
<rect x="299.7" y="601.5" width="4.7" height="55.5" fill="#999" stroke="#151515" stroke-width="1.4"/>
<rect x="387" y="601.5" width="4.7" height="55.5" fill="#999" stroke="#151515" stroke-width="1.4"/>
<rect x="299.7" y="655" width="8.3" height="4" fill="#999" stroke="#151515" stroke-width="1.4"/>
<rect x="383.4" y="655" width="8.3" height="4" fill="#999" stroke="#151515" stroke-width="1.4"/>
<rect x="304.4" y="615.7" width="37.9" height="4" fill="#999" stroke="#151515" stroke-width="1.4"/>
<rect x="349.1" y="615.7" width="37.9" height="4" fill="#999" stroke="#151515" stroke-width="1.4"/>
<rect x="338" y="655" width="4.3" height="4" fill="#999" stroke="#151515" stroke-width="1.4"/>
<rect x="349.1" y="655" width="4.3" height="4" fill="#999" stroke="#151515" stroke-width="1.4"/>
<rect x="309.6" y="621" width="26.8" height="27.8" fill="none" stroke="#222" stroke-width="1.17"/>
<rect x="355" y="621" width="26.8" height="27.8" fill="none" stroke="#222" stroke-width="1.17"/>
<line x1="305" y1="568.4" x2="342" y2="568.4" stroke="#555" stroke-width="1.56" stroke-dasharray="3 1.5"/>
<line x1="386.4" y1="568.4" x2="349.4" y2="568.4" stroke="#555" stroke-width="1.56" stroke-dasharray="3 1.5"/>
<line x1="305" y1="604.7" x2="342" y2="604.7" stroke="#666" stroke-width="1.56" stroke-dasharray="3 1.5"/>
<line x1="386.4" y1="604.7" x2="349.4" y2="604.7" stroke="#666" stroke-width="1.56" stroke-dasharray="3 1.5"/>
<path d="M304,572 L283,590 Q290,600 304,601.5" stroke="#222" stroke-width="1.17" fill="none"/>
<path d="M387.4,572 L408.4,590 Q401.4,600 387.4,601.5" stroke="#222" stroke-width="1.17" fill="none"/>
<path d="M283,590 L304,572" stroke="#444" stroke-width="3.25" fill="none"/>
<path d="M408.4,590 L387.4,572" stroke="#444" stroke-width="3.25" fill="none"/>
<path d="M308,659 Q312,677 324,685 L338,659" stroke="#222" stroke-width="1.17" fill="none"/>
<path d="M383.4,659 Q379.4,677 367.4,685 L353.4,659" stroke="#222" stroke-width="1.17" fill="none"/>
<rect x="260" y="655.6" width="3.7" height="108.1" fill="#999" stroke="#151515" stroke-width="1.4"/>
<rect x="427.7" y="655.6" width="3.7" height="108.1" fill="#999" stroke="#151515" stroke-width="1.4"/>
<rect x="260" y="655.6" width="6" height="3.4" fill="#999" stroke="#151515" stroke-width="1.4"/>
<rect x="425.4" y="655.6" width="6" height="3.4" fill="#999" stroke="#151515" stroke-width="1.4"/>
<rect x="153" y="669" width="26.5" height="3" fill="#999" stroke="#151515" stroke-width="1.4"/>
<rect x="511.9" y="669" width="26.5" height="3" fill="#999" stroke="#151515" stroke-width="1.4"/>
<rect x="208.5" y="669" width="55.2" height="3" fill="#999" stroke="#151515" stroke-width="1.4"/>
<rect x="427.7" y="669" width="55.2" height="3" fill="#999" stroke="#151515" stroke-width="1.4"/>
<rect x="153" y="729.4" width="110.7" height="6" fill="#999" stroke="#151515" stroke-width="1.4"/>
<rect x="427.7" y="729.4" width="110.7" height="6" fill="#999" stroke="#151515" stroke-width="1.4"/>
<rect x="153" y="792.7" width="112" height="3.8" fill="#999" stroke="#151515" stroke-width="1.4"/>
<rect x="426.4" y="792.7" width="112" height="3.8" fill="#999" stroke="#151515" stroke-width="1.4"/>
<rect x="224.2" y="672" width="39.5" height="57.4" fill="none" stroke="#222" stroke-width="1.04"/>
<rect x="427.7" y="672" width="39.5" height="57.4" fill="none" stroke="#222" stroke-width="1.04"/>
<line x1="224.2" y1="672" x2="263.7" y2="729.4" stroke="#222" stroke-width="0.91"/>
<line x1="467.2" y1="672" x2="427.7" y2="729.4" stroke="#222" stroke-width="0.91"/>
<line x1="263.7" y1="672" x2="224.2" y2="729.4" stroke="#222" stroke-width="0.91"/>
<line x1="427.7" y1="672" x2="467.2" y2="729.4" stroke="#222" stroke-width="0.91"/>
<line x1="153" y1="706.3" x2="224.2" y2="706.3" stroke="#222" stroke-width="1.17"/>
<line x1="538.4" y1="706.3" x2="467.2" y2="706.3" stroke="#222" stroke-width="1.17"/>
<path d="M155,678 L163,678 L163,698 L155,698 Z" stroke="#222" stroke-width="1.17" fill="none"/>
<path d="M536.4,678 L528.4,678 L528.4,698 L536.4,698 Z" stroke="#222" stroke-width="1.17" fill="none"/>
<circle cx="170.5" cy="688" r="5.5" stroke="#222" stroke-width="1.3" fill="none"/>
<circle cx="520.9" cy="688" r="5.5" stroke="#222" stroke-width="1.3" fill="none"/>
<circle cx="208" cy="720" r="6.5" stroke="#222" stroke-width="1.43" fill="none"/>
<circle cx="483.4" cy="720" r="6.5" stroke="#222" stroke-width="1.43" fill="none"/>
<circle cx="208" cy="720" r="3.5" stroke="#222" stroke-width="0.91" fill="none"/>
<circle cx="483.4" cy="720" r="3.5" stroke="#222" stroke-width="0.91" fill="none"/>
<path d="M154,790.5 L154,747 Q154,737.6 168,737.6 Q181.7,737.6 181.7,747 L181.7,790.5" stroke="#222" stroke-width="1.17" fill="none"/>
<path d="M537.4,790.5 L537.4,747 Q537.4,737.6 523.4,737.6 Q509.7,737.6 509.7,747 L509.7,790.5" stroke="#222" stroke-width="1.17" fill="none"/>
<text x="166" y="764" font-family="Liberation Sans" font-size="4.6" font-weight="bold" fill="#1a1a1a" text-anchor="middle" transform="rotate(-90 166 764)" stroke="#1a1a1a" stroke-width="0.3">5/0 TUB</text>
<text x="173" y="764" font-family="Liberation Sans" font-size="4.6" font-weight="bold" fill="#1a1a1a" text-anchor="middle" transform="rotate(-90 173 764)" stroke="#1a1a1a" stroke-width="0.3">W/ SHWR</text>
<text x="521.4" y="764" font-family="Liberation Sans" font-size="4.6" font-weight="bold" fill="#1a1a1a" text-anchor="middle" transform="rotate(-90 521.4 764)" stroke="#1a1a1a" stroke-width="0.3">5/0 TUB</text>
<text x="528.4" y="764" font-family="Liberation Sans" font-size="4.6" font-weight="bold" fill="#1a1a1a" text-anchor="middle" transform="rotate(-90 528.4 764)" stroke="#1a1a1a" stroke-width="0.3">W/ SHWR</text>
<rect x="188" y="737" width="21" height="6" fill="none" stroke="#222" stroke-width="1.17" rx="2"/>
<rect x="482.4" y="737" width="21" height="6" fill="none" stroke="#222" stroke-width="1.17" rx="2"/>
<circle cx="198.5" cy="752" r="6" stroke="#222" stroke-width="1.3" fill="none"/>
<circle cx="492.9" cy="752" r="6" stroke="#222" stroke-width="1.3" fill="none"/>
<rect x="212.3" y="735.4" width="47.7" height="23.8" fill="none" stroke="#222" stroke-width="1.04"/>
<rect x="431.4" y="735.4" width="47.7" height="23.8" fill="none" stroke="#222" stroke-width="1.04"/>
<circle cx="235" cy="746" r="6.5" stroke="#222" stroke-width="1.43" fill="none"/>
<circle cx="456.4" cy="746" r="6.5" stroke="#222" stroke-width="1.43" fill="none"/>
<circle cx="213.5" cy="771" r="8" stroke="#222" stroke-width="1.3" fill="none" stroke-dasharray="2.5 1.5"/>
<circle cx="477.9" cy="771" r="8" stroke="#222" stroke-width="1.3" fill="none" stroke-dasharray="2.5 1.5"/>
<line x1="213.5" y1="773" x2="205" y2="801" stroke="#222" stroke-width="1.04"/>
<line x1="477.9" y1="773" x2="486.4" y2="801" stroke="#222" stroke-width="1.04"/>
<line x1="205" y1="801" x2="195" y2="801" stroke="#222" stroke-width="1.04"/>
<line x1="486.4" y1="801" x2="496.4" y2="801" stroke="#222" stroke-width="1.04"/>
<path d="M263.7,763.7 Q238,766 236,792.7" stroke="#222" stroke-width="1.17" fill="none"/>
<path d="M427.7,763.7 Q453.4,766 455.4,792.7" stroke="#222" stroke-width="1.17" fill="none"/>
<path d="M262,655 A35,30 0 0 1 297,625.5" stroke="#222" stroke-width="1.17" fill="none"/>
<path d="M429.4,655 A35,30 0 0 0 394.4,625.5" stroke="#222" stroke-width="1.17" fill="none"/>
<line x1="297" y1="625.5" x2="297" y2="655" stroke="#222" stroke-width="1.43"/>
<line x1="394.4" y1="625.5" x2="394.4" y2="655" stroke="#222" stroke-width="1.43"/>
<line x1="304" y1="694" x2="342.3" y2="694" stroke="#555" stroke-width="1.17" stroke-dasharray="6 1.5"/>
<line x1="387.4" y1="694" x2="349.1" y2="694" stroke="#555" stroke-width="1.17" stroke-dasharray="6 1.5"/>
<line x1="304" y1="702.8" x2="342.3" y2="702.8" stroke="#555" stroke-width="1.17" stroke-dasharray="6 1.5"/>
<line x1="387.4" y1="702.8" x2="349.1" y2="702.8" stroke="#555" stroke-width="1.17" stroke-dasharray="6 1.5"/>
<line x1="304" y1="712.4" x2="342.3" y2="712.4" stroke="#555" stroke-width="1.17" stroke-dasharray="6 1.5"/>
<line x1="387.4" y1="712.4" x2="349.1" y2="712.4" stroke="#555" stroke-width="1.17" stroke-dasharray="6 1.5"/>
<line x1="304" y1="722" x2="342.3" y2="722" stroke="#555" stroke-width="1.17" stroke-dasharray="6 1.5"/>
<line x1="387.4" y1="722" x2="349.1" y2="722" stroke="#555" stroke-width="1.17" stroke-dasharray="6 1.5"/>
<line x1="304" y1="731.7" x2="342.3" y2="731.7" stroke="#555" stroke-width="1.17" stroke-dasharray="6 1.5"/>
<line x1="387.4" y1="731.7" x2="349.1" y2="731.7" stroke="#555" stroke-width="1.17" stroke-dasharray="6 1.5"/>
<line x1="304" y1="741.3" x2="342.3" y2="741.3" stroke="#222" stroke-width="1.43"/>
<line x1="387.4" y1="741.3" x2="349.1" y2="741.3" stroke="#222" stroke-width="1.43"/>
<line x1="304" y1="752" x2="342.3" y2="752" stroke="#222" stroke-width="1.43"/>
<line x1="387.4" y1="752" x2="349.1" y2="752" stroke="#222" stroke-width="1.43"/>
<line x1="304" y1="759.8" x2="342.3" y2="759.8" stroke="#222" stroke-width="1.43"/>
<line x1="387.4" y1="759.8" x2="349.1" y2="759.8" stroke="#222" stroke-width="1.43"/>
<line x1="304" y1="770.3" x2="342.3" y2="770.3" stroke="#222" stroke-width="1.43"/>
<line x1="387.4" y1="770.3" x2="349.1" y2="770.3" stroke="#222" stroke-width="1.43"/>
<line x1="304" y1="780" x2="342.3" y2="780" stroke="#222" stroke-width="1.43"/>
<line x1="387.4" y1="780" x2="349.1" y2="780" stroke="#222" stroke-width="1.43"/>
<line x1="304" y1="790.4" x2="342.3" y2="790.4" stroke="#222" stroke-width="1.43"/>
<line x1="387.4" y1="790.4" x2="349.1" y2="790.4" stroke="#222" stroke-width="1.43"/>
<text x="297.5" y="752" font-family="Liberation Sans" font-size="4.6" font-weight="bold" fill="#222" text-anchor="middle" transform="rotate(-90 297.5 752)" stroke="#222" stroke-width="0.3">6'-10" OPEN RAILING</text>
<text x="396.9" y="752" font-family="Liberation Sans" font-size="4.6" font-weight="bold" fill="#222" text-anchor="middle" transform="rotate(90 396.9 752)" stroke="#222" stroke-width="0.3">6'-10" OPEN RAILING</text>
<text x="284" y="709" font-family="Liberation Sans" font-size="4.5" font-weight="bold" fill="#222" text-anchor="start" stroke="#222" stroke-width="0.3">EXH</text>
<circle cx="288" cy="717" r="3" stroke="#222" stroke-width="1.3" fill="none"/>
<text x="291" y="721" font-family="Liberation Sans" font-size="3.6" font-weight="bold" fill="#1a1a1a" text-anchor="start" stroke="#1a1a1a" stroke-width="0.3">SD</text>
<text x="399.4" y="709" font-family="Liberation Sans" font-size="4.5" font-weight="bold" fill="#222" text-anchor="start" stroke="#222" stroke-width="0.3">EXH</text>
<circle cx="403.4" cy="717" r="3" stroke="#222" stroke-width="1.3" fill="none"/>
<text x="406.4" y="721" font-family="Liberation Sans" font-size="3.6" font-weight="bold" fill="#1a1a1a" text-anchor="start" stroke="#1a1a1a" stroke-width="0.3">SD</text>
<text x="270" y="707" font-family="Liberation Sans" font-size="4.5" font-weight="bold" fill="#222" text-anchor="start" stroke="#222" stroke-width="0.3">3'-10"</text>
<text x="411.4" y="707" font-family="Liberation Sans" font-size="4.5" font-weight="bold" fill="#222" text-anchor="start" stroke="#222" stroke-width="0.3">3'-10"</text>
<line x1="263.7" y1="708.5" x2="299" y2="708.5" stroke="#222" stroke-width="1.04"/>
<line x1="427.7" y1="708.5" x2="392.4" y2="708.5" stroke="#222" stroke-width="1.04"/>
<line x1="300.8" y1="694" x2="300.8" y2="794.8" stroke="#2a5a3a" stroke-width="1.17"/>
<line x1="390.6" y1="694" x2="390.6" y2="794.8" stroke="#2a5a3a" stroke-width="1.17"/>
<line x1="304" y1="694" x2="304" y2="794.8" stroke="#2a5a3a" stroke-width="1.17"/>
<line x1="387.4" y1="694" x2="387.4" y2="794.8" stroke="#2a5a3a" stroke-width="1.17"/>
<line x1="291" y1="707" x2="291" y2="795" stroke="#333" stroke-width="1.17"/>
<line x1="400.4" y1="707" x2="400.4" y2="795" stroke="#333" stroke-width="1.17"/>
<line x1="322" y1="676" x2="322" y2="745" stroke="#111" stroke-width="1.17"/>
<line x1="369.4" y1="676" x2="369.4" y2="745" stroke="#111" stroke-width="1.17"/>
<path d="M319.5,735 L322,746 L324.5,735 Z" stroke="#222" stroke-width="0.65" fill="#111"/>
<path d="M371.9,735 L369.4,746 L366.9,735 Z" stroke="#222" stroke-width="0.65" fill="#111"/>
<rect x="299" y="794.8" width="43.3" height="3.5" fill="#999" stroke="#151515" stroke-width="1.4"/>
<rect x="349.1" y="794.8" width="43.3" height="3.5" fill="#999" stroke="#151515" stroke-width="1.4"/>
<rect x="299" y="798.3" width="5" height="22.7" fill="#999" stroke="#151515" stroke-width="1.4"/>
<rect x="387.4" y="798.3" width="5" height="22.7" fill="#999" stroke="#151515" stroke-width="1.4"/>
<rect x="299" y="849" width="5" height="23.8" fill="#999" stroke="#151515" stroke-width="1.4"/>
<rect x="387.4" y="849" width="5" height="23.8" fill="#999" stroke="#151515" stroke-width="1.4"/>
<line x1="305" y1="809.7" x2="342" y2="809.7" stroke="#555" stroke-width="1.56" stroke-dasharray="3 1.5"/>
<line x1="386.4" y1="809.7" x2="349.4" y2="809.7" stroke="#555" stroke-width="1.56" stroke-dasharray="3 1.5"/>
<line x1="305" y1="860.5" x2="342" y2="860.5" stroke="#555" stroke-width="1.56" stroke-dasharray="3 1.5"/>
<line x1="386.4" y1="860.5" x2="349.4" y2="860.5" stroke="#555" stroke-width="1.56" stroke-dasharray="3 1.5"/>
<path d="M299,821 L278,838 Q285,849 299,849" stroke="#222" stroke-width="1.17" fill="none"/>
<path d="M392.4,821 L413.4,838 Q406.4,849 392.4,849" stroke="#222" stroke-width="1.17" fill="none"/>
<path d="M278,838 L299,821" stroke="#444" stroke-width="3.25" fill="none"/>
<path d="M413.4,838 L392.4,821" stroke="#444" stroke-width="3.25" fill="none"/>
<path d="M265,796.5 Q268,816 283,818 L299,798.3" stroke="#222" stroke-width="1.17" fill="none"/>
<path d="M426.4,796.5 Q423.4,816 408.4,818 L392.4,798.3" stroke="#222" stroke-width="1.17" fill="none"/>
<line x1="171" y1="556" x2="262" y2="646" stroke="#333" stroke-width="1.95" stroke-dasharray="1.3 4"/>
<line x1="520.4" y1="556" x2="429.4" y2="646" stroke="#333" stroke-width="1.95" stroke-dasharray="1.3 4"/>
<line x1="171" y1="897" x2="264" y2="806" stroke="#333" stroke-width="1.95" stroke-dasharray="1.3 4"/>
<line x1="520.4" y1="897" x2="427.4" y2="806" stroke="#333" stroke-width="1.95" stroke-dasharray="1.3 4"/>
<text x="224" y="604" font-family="Liberation Sans" font-size="5.5" font-weight="bold" fill="#444" text-anchor="middle" stroke="#444" stroke-width="0.3">9'-0" CLG.</text>
<text x="224" y="614" font-family="Liberation Sans" font-size="9" font-weight="normal" fill="#555" text-anchor="middle" textLength="50" lengthAdjust="spacingAndGlyphs" stroke="#555" stroke-width="0.35">MAIN SUITE</text>
<line x1="199" y1="615.5" x2="249" y2="615.5" stroke="#666" stroke-width="0.91"/>
<text x="224" y="621" font-family="Liberation Sans" font-size="4.5" font-weight="bold" fill="#555" text-anchor="middle" stroke="#555" stroke-width="0.3">12x14x9</text>
<text x="464.4" y="604" font-family="Liberation Sans" font-size="5.5" font-weight="bold" fill="#444" text-anchor="middle" stroke="#444" stroke-width="0.3">9'-0" CLG.</text>
<text x="464.4" y="614" font-family="Liberation Sans" font-size="9" font-weight="normal" fill="#555" text-anchor="middle" textLength="50" lengthAdjust="spacingAndGlyphs" stroke="#555" stroke-width="0.35">MAIN SUITE</text>
<line x1="439.4" y1="615.5" x2="489.4" y2="615.5" stroke="#666" stroke-width="0.91"/>
<text x="464.4" y="621" font-family="Liberation Sans" font-size="4.5" font-weight="bold" fill="#555" text-anchor="middle" stroke="#555" stroke-width="0.3">12x14x9</text>
<text x="223" y="840" font-family="Liberation Sans" font-size="5.5" font-weight="bold" fill="#333" text-anchor="middle" stroke="#333" stroke-width="0.3">9'-0" CLG.</text>
<text x="223" y="849" font-family="Liberation Sans" font-size="9" font-weight="normal" fill="#222" text-anchor="middle" textLength="32" lengthAdjust="spacingAndGlyphs" stroke="#222" stroke-width="0.35">BED #2</text>
<line x1="207" y1="850.5" x2="239" y2="850.5" stroke="#333" stroke-width="0.91"/>
<text x="223" y="857" font-family="Liberation Sans" font-size="4.5" font-weight="bold" fill="#333" text-anchor="middle" stroke="#333" stroke-width="0.3">11x9x9</text>
<text x="462.4" y="840" font-family="Liberation Sans" font-size="5.5" font-weight="bold" fill="#333" text-anchor="middle" stroke="#333" stroke-width="0.3">9'-0" CLG.</text>
<text x="462.4" y="849" font-family="Liberation Sans" font-size="9" font-weight="normal" fill="#222" text-anchor="middle" textLength="32" lengthAdjust="spacingAndGlyphs" stroke="#222" stroke-width="0.35">BED #2</text>
<line x1="446.4" y1="850.5" x2="478.4" y2="850.5" stroke="#333" stroke-width="0.91"/>
<text x="462.4" y="857" font-family="Liberation Sans" font-size="4.5" font-weight="bold" fill="#333" text-anchor="middle" stroke="#333" stroke-width="0.3">11x9x9</text>
<text x="322.7" y="587" font-family="Liberation Sans" font-size="7.5" font-weight="normal" fill="#1a1a1a" text-anchor="middle" textLength="20" lengthAdjust="spacingAndGlyphs" stroke="#1a1a1a" stroke-width="0.35">W.I.C.</text>
<line x1="312.7" y1="588.5" x2="332.7" y2="588.5" stroke="#222" stroke-width="0.91"/>
<text x="322.7" y="833" font-family="Liberation Sans" font-size="7.5" font-weight="normal" fill="#1a1a1a" text-anchor="middle" textLength="20" lengthAdjust="spacingAndGlyphs" stroke="#1a1a1a" stroke-width="0.35">W.I.C.</text>
<line x1="312.7" y1="834.5" x2="332.7" y2="834.5" stroke="#222" stroke-width="0.91"/>
<text x="322.7" y="628" font-family="Liberation Sans" font-size="5" font-weight="bold" fill="#1a1a1a" text-anchor="middle" textLength="17" lengthAdjust="spacingAndGlyphs" stroke="#1a1a1a" stroke-width="0.3">STACK</text>
<text x="322.7" y="636" font-family="Liberation Sans" font-size="5" font-weight="bold" fill="#1a1a1a" text-anchor="middle" stroke="#1a1a1a" stroke-width="0.3">W/D</text>
<circle cx="322.7" cy="642" r="2" stroke="#222" stroke-width="1.04" fill="none"/>
<text x="368.7" y="587" font-family="Liberation Sans" font-size="7.5" font-weight="normal" fill="#1a1a1a" text-anchor="middle" textLength="20" lengthAdjust="spacingAndGlyphs" stroke="#1a1a1a" stroke-width="0.35">W.I.C.</text>
<line x1="358.7" y1="588.5" x2="378.7" y2="588.5" stroke="#222" stroke-width="0.91"/>
<text x="368.7" y="833" font-family="Liberation Sans" font-size="7.5" font-weight="normal" fill="#1a1a1a" text-anchor="middle" textLength="20" lengthAdjust="spacingAndGlyphs" stroke="#1a1a1a" stroke-width="0.35">W.I.C.</text>
<line x1="358.7" y1="834.5" x2="378.7" y2="834.5" stroke="#222" stroke-width="0.91"/>
<text x="368.7" y="628" font-family="Liberation Sans" font-size="5" font-weight="bold" fill="#1a1a1a" text-anchor="middle" textLength="17" lengthAdjust="spacingAndGlyphs" stroke="#1a1a1a" stroke-width="0.3">STACK</text>
<text x="368.7" y="636" font-family="Liberation Sans" font-size="5" font-weight="bold" fill="#1a1a1a" text-anchor="middle" stroke="#1a1a1a" stroke-width="0.3">W/D</text>
<circle cx="368.7" cy="642" r="2" stroke="#222" stroke-width="1.04" fill="none"/>
<text x="159" y="697" font-family="Liberation Sans" font-size="4.6" font-weight="bold" fill="#222" text-anchor="start" stroke="#222" stroke-width="0.3">12</text>
<text x="157" y="724" font-family="Liberation Sans" font-size="4.6" font-weight="bold" fill="#222" text-anchor="start" stroke="#222" stroke-width="0.3">MED. CAB</text>
<text x="195" y="656" font-family="Liberation Sans" font-size="4.6" font-weight="bold" fill="#222" text-anchor="start" stroke="#222" stroke-width="0.3">2/6x6/8</text>
<text x="195" y="662.5" font-family="Liberation Sans" font-size="4.6" font-weight="bold" fill="#222" text-anchor="start" stroke="#222" stroke-width="0.3">BARN DR.</text>
<text x="242" y="662" font-family="Liberation Sans" font-size="4.6" font-weight="bold" fill="#222" text-anchor="start" stroke="#222" stroke-width="0.3">CH.</text>
<text x="201" y="536" font-family="Liberation Sans" font-size="4.6" font-weight="bold" fill="#222" text-anchor="start" stroke="#222" stroke-width="0.3">3/0x4/0 FXD.</text>
<text x="254" y="531" font-family="Liberation Sans" font-size="4.6" font-weight="bold" fill="#222" text-anchor="start" stroke="#222" stroke-width="0.3">2/0x6/0</text>
<text x="263" y="537" font-family="Liberation Sans" font-size="4.6" font-weight="bold" fill="#222" text-anchor="start" stroke="#222" stroke-width="0.3">S/H</text>
<text x="174" y="803" font-family="Liberation Sans" font-size="4.6" font-weight="bold" fill="#222" text-anchor="start" stroke="#222" stroke-width="0.3">SOLAR</text>
<text x="179" y="810" font-family="Liberation Sans" font-size="4.6" font-weight="bold" fill="#222" text-anchor="start" stroke="#222" stroke-width="0.3">TUBE</text>
<text x="232" y="790" font-family="Liberation Sans" font-size="4.6" font-weight="bold" fill="#222" text-anchor="start" stroke="#222" stroke-width="0.3">2/6x6/8</text>
<text x="205" y="918" font-family="Liberation Sans" font-size="4.6" font-weight="bold" fill="#222" text-anchor="start" stroke="#222" stroke-width="0.3">3/0x4/0 FXD.</text>
<text x="249" y="918" font-family="Liberation Sans" font-size="4.6" font-weight="bold" fill="#222" text-anchor="start" stroke="#222" stroke-width="0.3">2/0x6/0</text>
<text x="257" y="924" font-family="Liberation Sans" font-size="4.6" font-weight="bold" fill="#222" text-anchor="start" stroke="#222" stroke-width="0.3">S/H</text>
<text x="247" y="802" font-family="Liberation Sans" font-size="4.6" font-weight="bold" fill="#222" text-anchor="start" stroke="#222" stroke-width="0.3">CH.</text>
<text x="523" y="697" font-family="Liberation Sans" font-size="4.6" font-weight="bold" fill="#222" text-anchor="start" stroke="#222" stroke-width="0.3">12</text>
<text x="505" y="724" font-family="Liberation Sans" font-size="4.6" font-weight="bold" fill="#222" text-anchor="start" stroke="#222" stroke-width="0.3">MED. CAB</text>
<text x="468" y="656" font-family="Liberation Sans" font-size="4.6" font-weight="bold" fill="#222" text-anchor="start" stroke="#222" stroke-width="0.3">2/6x6/8</text>
<text x="471" y="662.5" font-family="Liberation Sans" font-size="4.6" font-weight="bold" fill="#222" text-anchor="start" stroke="#222" stroke-width="0.3">BARN DR.</text>
<text x="437" y="662" font-family="Liberation Sans" font-size="4.6" font-weight="bold" fill="#222" text-anchor="start" stroke="#222" stroke-width="0.3">CH.</text>
<text x="448.6" y="536" font-family="Liberation Sans" font-size="4.6" font-weight="bold" fill="#222" text-anchor="start" stroke="#222" stroke-width="0.3">3/0x4/0 FXD.</text>
<text x="412" y="531" font-family="Liberation Sans" font-size="4.6" font-weight="bold" fill="#222" text-anchor="start" stroke="#222" stroke-width="0.3">2/0x6/0</text>
<text x="425" y="537" font-family="Liberation Sans" font-size="4.6" font-weight="bold" fill="#222" text-anchor="start" stroke="#222" stroke-width="0.3">S/H</text>
<text x="497" y="803" font-family="Liberation Sans" font-size="4.6" font-weight="bold" fill="#222" text-anchor="start" stroke="#222" stroke-width="0.3">SOLAR</text>
<text x="501" y="810" font-family="Liberation Sans" font-size="4.6" font-weight="bold" fill="#222" text-anchor="start" stroke="#222" stroke-width="0.3">TUBE</text>
<text x="433" y="790" font-family="Liberation Sans" font-size="4.6" font-weight="bold" fill="#222" text-anchor="start" stroke="#222" stroke-width="0.3">2/6x6/8</text>
<text x="443" y="918" font-family="Liberation Sans" font-size="4.6" font-weight="bold" fill="#222" text-anchor="start" stroke="#222" stroke-width="0.3">3/0x4/0 FXD.</text>
<text x="410" y="918" font-family="Liberation Sans" font-size="4.6" font-weight="bold" fill="#222" text-anchor="start" stroke="#222" stroke-width="0.3">2/0x6/0</text>
<text x="420" y="924" font-family="Liberation Sans" font-size="4.6" font-weight="bold" fill="#222" text-anchor="start" stroke="#222" stroke-width="0.3">S/H</text>
<text x="423" y="802" font-family="Liberation Sans" font-size="4.6" font-weight="bold" fill="#222" text-anchor="start" stroke="#222" stroke-width="0.3">CH.</text>
<line x1="153" y1="643.5" x2="262" y2="643.5" stroke="#222" stroke-width="1.17"/>
<path d="M258,641.5 L262,643.5 L258,645.5" stroke="#222" stroke-width="1.17" fill="none"/>
<text x="200" y="641.5" font-family="Liberation Sans" font-size="4.6" font-weight="bold" fill="#222" text-anchor="middle" stroke="#222" stroke-width="0.3">9'-10"</text>
<line x1="429" y1="643.5" x2="538" y2="643.5" stroke="#222" stroke-width="1.17"/>
<path d="M534,641.5 L538,643.5 L534,645.5" stroke="#222" stroke-width="1.17" fill="none"/>
<text x="478" y="641.5" font-family="Liberation Sans" font-size="4.6" font-weight="bold" fill="#222" text-anchor="middle" stroke="#222" stroke-width="0.3">9'-10"</text>
<line x1="274" y1="560" x2="274" y2="657" stroke="#222" stroke-width="1.17"/>
<line x1="271" y1="660" x2="277" y2="654" stroke="#111" stroke-width="1.69"/>
<text x="272.5" y="600" font-family="Liberation Sans" font-size="4.6" font-weight="bold" fill="#222" text-anchor="middle" transform="rotate(-90 272.5 600)" stroke="#222" stroke-width="0.3">6'-5"</text>
<text x="264" y="630" font-family="Liberation Sans" font-size="4.6" font-weight="bold" fill="#222" text-anchor="middle" transform="rotate(-70 264 630)" stroke="#222" stroke-width="0.3">3'-6"</text>
<line x1="417.4" y1="560" x2="417.4" y2="657" stroke="#222" stroke-width="1.17"/>
<line x1="414.4" y1="660" x2="420.4" y2="654" stroke="#111" stroke-width="1.69"/>
<text x="415.9" y="600" font-family="Liberation Sans" font-size="4.6" font-weight="bold" fill="#222" text-anchor="middle" transform="rotate(-90 415.9 600)" stroke="#222" stroke-width="0.3">6'-5"</text>
<text x="407.4" y="630" font-family="Liberation Sans" font-size="4.6" font-weight="bold" fill="#222" text-anchor="middle" transform="rotate(-70 407.4 630)" stroke="#222" stroke-width="0.3">3'-6"</text>
<circle cx="168" cy="601" r="7" stroke="#222" stroke-width="1.43" fill="none"/>
<line x1="161" y1="601" x2="175" y2="601" stroke="#222" stroke-width="1.17"/>
<text x="168" y="599.5" font-family="Liberation Sans" font-size="4.5" font-weight="bold" fill="#1a1a1a" text-anchor="middle" stroke="#1a1a1a" stroke-width="0.3">1</text>
<text x="168" y="606.5" font-family="Liberation Sans" font-size="4.5" font-weight="bold" fill="#1a1a1a" text-anchor="middle" stroke="#1a1a1a" stroke-width="0.3">A6</text>
<text x="177" y="602.5" font-family="Liberation Sans" font-size="5" font-weight="bold" fill="#1a1a1a" text-anchor="start" stroke="#1a1a1a" stroke-width="0.3">TYP.</text>
<circle cx="448" cy="564.3" r="7" stroke="#222" stroke-width="1.43" fill="none"/>
<line x1="441" y1="564.3" x2="455" y2="564.3" stroke="#222" stroke-width="1.17"/>
<text x="448" y="562.8" font-family="Liberation Sans" font-size="4.5" font-weight="bold" fill="#1a1a1a" text-anchor="middle" stroke="#1a1a1a" stroke-width="0.3">1</text>
<text x="448" y="569.8" font-family="Liberation Sans" font-size="4.5" font-weight="bold" fill="#1a1a1a" text-anchor="middle" stroke="#1a1a1a" stroke-width="0.3">A6</text>
<text x="457" y="565.8" font-family="Liberation Sans" font-size="5" font-weight="bold" fill="#1a1a1a" text-anchor="start" stroke="#1a1a1a" stroke-width="0.3">TYP.</text>
<circle cx="426.4" cy="889" r="7" stroke="#222" stroke-width="1.43" fill="none"/>
<line x1="419.4" y1="889" x2="433.4" y2="889" stroke="#222" stroke-width="1.17"/>
<text x="426.4" y="887.5" font-family="Liberation Sans" font-size="4.5" font-weight="bold" fill="#1a1a1a" text-anchor="middle" stroke="#1a1a1a" stroke-width="0.3">1</text>
<text x="426.4" y="894.5" font-family="Liberation Sans" font-size="4.5" font-weight="bold" fill="#1a1a1a" text-anchor="middle" stroke="#1a1a1a" stroke-width="0.3">A6</text>
<text x="435.4" y="890.5" font-family="Liberation Sans" font-size="5" font-weight="bold" fill="#1a1a1a" text-anchor="start" stroke="#1a1a1a" stroke-width="0.3">TYP.</text>
<circle cx="332" cy="678.8" r="7" stroke="#222" stroke-width="1.43" fill="none"/>
<line x1="325" y1="678.8" x2="339" y2="678.8" stroke="#222" stroke-width="1.17"/>
<text x="332" y="677.3" font-family="Liberation Sans" font-size="4.5" font-weight="bold" fill="#1a1a1a" text-anchor="middle" stroke="#1a1a1a" stroke-width="0.3">2</text>
<text x="332" y="684.3" font-family="Liberation Sans" font-size="4.5" font-weight="bold" fill="#1a1a1a" text-anchor="middle" stroke="#1a1a1a" stroke-width="0.3">A6</text>
<line x1="332" y1="686" x2="332" y2="702" stroke="#222" stroke-width="1.17"/>
<line x1="174" y1="604" x2="147" y2="604" stroke="#222" stroke-width="0.91"/>
<line x1="517.4" y1="604" x2="544.4" y2="604" stroke="#222" stroke-width="0.91"/>
<line x1="426.4" y1="896" x2="426.4" y2="912" stroke="#222" stroke-width="1.3"/>
<line x1="448" y1="527" x2="448" y2="556.3" stroke="#222" stroke-width="1.3"/>
<line x1="144.2" y1="470.6" x2="547.3" y2="470.6" stroke="#222" stroke-width="1.17"/>
<line x1="144.2" y1="473.6" x2="150.2" y2="467.6" stroke="#111" stroke-width="1.69"/>
<line x1="541.3" y1="473.6" x2="547.3" y2="467.6" stroke="#111" stroke-width="1.69"/>
<text x="345.8" y="469.1" font-family="Liberation Sans" font-size="5.2" font-weight="bold" fill="#222" text-anchor="middle" stroke="#222" stroke-width="0.3">34'-0"</text>
<line x1="144.2" y1="482.5" x2="547.3" y2="482.5" stroke="#222" stroke-width="1.17"/>
<line x1="144.2" y1="485.5" x2="150.2" y2="479.5" stroke="#111" stroke-width="1.69"/>
<line x1="162.6" y1="485.5" x2="168.6" y2="479.5" stroke="#111" stroke-width="1.69"/>
<line x1="303" y1="485.5" x2="309" y2="479.5" stroke="#111" stroke-width="1.69"/>
<line x1="384" y1="485.5" x2="390" y2="479.5" stroke="#111" stroke-width="1.69"/>
<line x1="523" y1="485.5" x2="529" y2="479.5" stroke="#111" stroke-width="1.69"/>
<line x1="541.3" y1="485.5" x2="547.3" y2="479.5" stroke="#111" stroke-width="1.69"/>
<text x="156.4" y="481" font-family="Liberation Sans" font-size="5.2" font-weight="bold" fill="#222" text-anchor="middle" stroke="#222" stroke-width="0.3">1'-6"</text>
<text x="235.8" y="481" font-family="Liberation Sans" font-size="5.2" font-weight="bold" fill="#222" text-anchor="middle" stroke="#222" stroke-width="0.3">9'-0"</text>
<text x="346.5" y="481" font-family="Liberation Sans" font-size="5.2" font-weight="bold" fill="#222" text-anchor="middle" stroke="#222" stroke-width="0.3">7'-0"</text>
<text x="456.5" y="481" font-family="Liberation Sans" font-size="5.2" font-weight="bold" fill="#222" text-anchor="middle" stroke="#222" stroke-width="0.3">12'-0"</text>
<text x="535.1" y="481" font-family="Liberation Sans" font-size="5.2" font-weight="bold" fill="#222" text-anchor="middle" stroke="#222" stroke-width="0.3">1'-6"</text>
<line x1="303" y1="494.5" x2="390" y2="494.5" stroke="#222" stroke-width="1.17"/>
<line x1="303" y1="497.5" x2="309" y2="491.5" stroke="#111" stroke-width="1.69"/>
<line x1="343" y1="497.5" x2="349" y2="491.5" stroke="#111" stroke-width="1.69"/>
<line x1="384" y1="497.5" x2="390" y2="491.5" stroke="#111" stroke-width="1.69"/>
<text x="326" y="493" font-family="Liberation Sans" font-size="5.2" font-weight="bold" fill="#222" text-anchor="middle" stroke="#222" stroke-width="0.3">3'-6"</text>
<text x="366.5" y="493" font-family="Liberation Sans" font-size="5.2" font-weight="bold" fill="#222" text-anchor="middle" stroke="#222" stroke-width="0.3">3'-6"</text>
<line x1="162.6" y1="505" x2="309" y2="505" stroke="#222" stroke-width="1.17"/>
<line x1="162.6" y1="508" x2="168.6" y2="502" stroke="#111" stroke-width="1.69"/>
<line x1="217" y1="508" x2="223" y2="502" stroke="#111" stroke-width="1.69"/>
<line x1="264" y1="508" x2="270" y2="502" stroke="#111" stroke-width="1.69"/>
<line x1="303" y1="508" x2="309" y2="502" stroke="#111" stroke-width="1.69"/>
<text x="192.8" y="503.5" font-family="Liberation Sans" font-size="5.2" font-weight="bold" fill="#222" text-anchor="middle" stroke="#222" stroke-width="0.3">4'-9"</text>
<text x="243.5" y="503.5" font-family="Liberation Sans" font-size="5.2" font-weight="bold" fill="#222" text-anchor="middle" stroke="#222" stroke-width="0.3">4'-0"</text>
<text x="286.5" y="503.5" font-family="Liberation Sans" font-size="5.2" font-weight="bold" fill="#222" text-anchor="middle" stroke="#222" stroke-width="0.3">3'-3"</text>
<line x1="384" y1="505" x2="529" y2="505" stroke="#222" stroke-width="1.17"/>
<line x1="384" y1="508" x2="390" y2="502" stroke="#111" stroke-width="1.69"/>
<line x1="421" y1="508" x2="427" y2="502" stroke="#111" stroke-width="1.69"/>
<line x1="468.5" y1="508" x2="474.5" y2="502" stroke="#111" stroke-width="1.69"/>
<line x1="523" y1="508" x2="529" y2="502" stroke="#111" stroke-width="1.69"/>
<text x="405.5" y="503.5" font-family="Liberation Sans" font-size="5.2" font-weight="bold" fill="#222" text-anchor="middle" stroke="#222" stroke-width="0.3">3'-3"</text>
<text x="447.8" y="503.5" font-family="Liberation Sans" font-size="5.2" font-weight="bold" fill="#222" text-anchor="middle" stroke="#222" stroke-width="0.3">4'-0"</text>
<text x="498.8" y="503.5" font-family="Liberation Sans" font-size="5.2" font-weight="bold" fill="#222" text-anchor="middle" stroke="#222" stroke-width="0.3">4'-9"</text>
<line x1="147.2" y1="466" x2="147.2" y2="551" stroke="#333" stroke-width="1.17"/>
<line x1="165.6" y1="478" x2="165.6" y2="540" stroke="#333" stroke-width="1.17"/>
<line x1="220" y1="502" x2="220" y2="546" stroke="#333" stroke-width="1.17"/>
<line x1="267" y1="502" x2="267" y2="546" stroke="#333" stroke-width="1.17"/>
<line x1="306" y1="478" x2="306" y2="552" stroke="#333" stroke-width="1.17"/>
<line x1="346" y1="490" x2="346" y2="552" stroke="#333" stroke-width="1.17"/>
<line x1="387" y1="478" x2="387" y2="552" stroke="#333" stroke-width="1.17"/>
<line x1="424" y1="502" x2="424" y2="546" stroke="#333" stroke-width="1.17"/>
<line x1="471.5" y1="502" x2="471.5" y2="546" stroke="#333" stroke-width="1.17"/>
<line x1="526" y1="478" x2="526" y2="540" stroke="#333" stroke-width="1.17"/>
<line x1="544.3" y1="466" x2="544.3" y2="551" stroke="#333" stroke-width="1.17"/>
<line x1="162.6" y1="950" x2="309" y2="950" stroke="#222" stroke-width="1.17"/>
<line x1="162.6" y1="953" x2="168.6" y2="947" stroke="#111" stroke-width="1.69"/>
<line x1="217" y1="953" x2="223" y2="947" stroke="#111" stroke-width="1.69"/>
<line x1="264" y1="953" x2="270" y2="947" stroke="#111" stroke-width="1.69"/>
<line x1="303" y1="953" x2="309" y2="947" stroke="#111" stroke-width="1.69"/>
<text x="192.8" y="948.5" font-family="Liberation Sans" font-size="5.2" font-weight="bold" fill="#222" text-anchor="middle" stroke="#222" stroke-width="0.3">4'-9"</text>
<text x="243.5" y="948.5" font-family="Liberation Sans" font-size="5.2" font-weight="bold" fill="#222" text-anchor="middle" stroke="#222" stroke-width="0.3">4'-0"</text>
<text x="286.5" y="948.5" font-family="Liberation Sans" font-size="5.2" font-weight="bold" fill="#222" text-anchor="middle" stroke="#222" stroke-width="0.3">3'-3"</text>
<line x1="384" y1="950" x2="529" y2="950" stroke="#222" stroke-width="1.17"/>
<line x1="384" y1="953" x2="390" y2="947" stroke="#111" stroke-width="1.69"/>
<line x1="421" y1="953" x2="427" y2="947" stroke="#111" stroke-width="1.69"/>
<line x1="468.5" y1="953" x2="474.5" y2="947" stroke="#111" stroke-width="1.69"/>
<line x1="523" y1="953" x2="529" y2="947" stroke="#111" stroke-width="1.69"/>
<text x="405.5" y="948.5" font-family="Liberation Sans" font-size="5.2" font-weight="bold" fill="#222" text-anchor="middle" stroke="#222" stroke-width="0.3">3'-3"</text>
<text x="447.8" y="948.5" font-family="Liberation Sans" font-size="5.2" font-weight="bold" fill="#222" text-anchor="middle" stroke="#222" stroke-width="0.3">4'-0"</text>
<text x="498.8" y="948.5" font-family="Liberation Sans" font-size="5.2" font-weight="bold" fill="#222" text-anchor="middle" stroke="#222" stroke-width="0.3">4'-9"</text>
<line x1="303" y1="963" x2="390" y2="963" stroke="#222" stroke-width="1.17"/>
<line x1="303" y1="966" x2="309" y2="960" stroke="#111" stroke-width="1.69"/>
<line x1="343" y1="966" x2="349" y2="960" stroke="#111" stroke-width="1.69"/>
<line x1="384" y1="966" x2="390" y2="960" stroke="#111" stroke-width="1.69"/>
<text x="326" y="961.5" font-family="Liberation Sans" font-size="5.2" font-weight="bold" fill="#222" text-anchor="middle" stroke="#222" stroke-width="0.3">3'-6"</text>
<text x="366.5" y="961.5" font-family="Liberation Sans" font-size="5.2" font-weight="bold" fill="#222" text-anchor="middle" stroke="#222" stroke-width="0.3">3'-6"</text>
<line x1="144.2" y1="974" x2="547.3" y2="974" stroke="#222" stroke-width="1.17"/>
<line x1="144.2" y1="977" x2="150.2" y2="971" stroke="#111" stroke-width="1.69"/>
<line x1="162.6" y1="977" x2="168.6" y2="971" stroke="#111" stroke-width="1.69"/>
<line x1="303" y1="977" x2="309" y2="971" stroke="#111" stroke-width="1.69"/>
<line x1="384" y1="977" x2="390" y2="971" stroke="#111" stroke-width="1.69"/>
<line x1="523" y1="977" x2="529" y2="971" stroke="#111" stroke-width="1.69"/>
<line x1="541.3" y1="977" x2="547.3" y2="971" stroke="#111" stroke-width="1.69"/>
<text x="156.4" y="972.5" font-family="Liberation Sans" font-size="5.2" font-weight="bold" fill="#222" text-anchor="middle" stroke="#222" stroke-width="0.3">1'-6"</text>
<text x="235.8" y="972.5" font-family="Liberation Sans" font-size="5.2" font-weight="bold" fill="#222" text-anchor="middle" stroke="#222" stroke-width="0.3">9'-0"</text>
<text x="346.5" y="972.5" font-family="Liberation Sans" font-size="5.2" font-weight="bold" fill="#222" text-anchor="middle" stroke="#222" stroke-width="0.3">7'-0"</text>
<text x="456.5" y="972.5" font-family="Liberation Sans" font-size="5.2" font-weight="bold" fill="#222" text-anchor="middle" stroke="#222" stroke-width="0.3">12'-0"</text>
<text x="535.1" y="972.5" font-family="Liberation Sans" font-size="5.2" font-weight="bold" fill="#222" text-anchor="middle" stroke="#222" stroke-width="0.3">1'-6"</text>
<line x1="144.2" y1="985.5" x2="547.3" y2="985.5" stroke="#222" stroke-width="1.17"/>
<line x1="144.2" y1="988.5" x2="150.2" y2="982.5" stroke="#111" stroke-width="1.69"/>
<line x1="541.3" y1="988.5" x2="547.3" y2="982.5" stroke="#111" stroke-width="1.69"/>
<text x="345.8" y="984" font-family="Liberation Sans" font-size="5.2" font-weight="bold" fill="#222" text-anchor="middle" stroke="#222" stroke-width="0.3">34'-0"</text>
<line x1="147.2" y1="877" x2="147.2" y2="989" stroke="#333" stroke-width="1.17"/>
<line x1="165.6" y1="912" x2="165.6" y2="978" stroke="#333" stroke-width="1.17"/>
<line x1="220" y1="912" x2="220" y2="953" stroke="#333" stroke-width="1.17"/>
<line x1="267" y1="912" x2="267" y2="953" stroke="#333" stroke-width="1.17"/>
<line x1="306" y1="877" x2="306" y2="978" stroke="#333" stroke-width="1.17"/>
<line x1="346" y1="877" x2="346" y2="967" stroke="#333" stroke-width="1.17"/>
<line x1="387" y1="877" x2="387" y2="978" stroke="#333" stroke-width="1.17"/>
<line x1="424" y1="912" x2="424" y2="953" stroke="#333" stroke-width="1.17"/>
<line x1="471.5" y1="912" x2="471.5" y2="953" stroke="#333" stroke-width="1.17"/>
<line x1="526" y1="912" x2="526" y2="978" stroke="#333" stroke-width="1.17"/>
<line x1="544.3" y1="877" x2="544.3" y2="989" stroke="#333" stroke-width="1.17"/>
<line x1="0" y1="911.8" x2="560" y2="911.8" stroke="#444" stroke-width="1.04"/>
<text x="147.5" y="993.5" font-family="Liberation Sans" font-size="7.5" font-weight="normal" fill="#222" text-anchor="start" textLength="107" lengthAdjust="spacingAndGlyphs" stroke="#222" stroke-width="0.35">UPPER FLR. = 480 SQ. FT.</text>
<text x="417.8" y="993.5" font-family="Liberation Sans" font-size="7.5" font-weight="normal" fill="#222" text-anchor="start" textLength="120" lengthAdjust="spacingAndGlyphs" stroke="#222" stroke-width="0.35">UPPER FLR. = 480 SQ. FT.</text>
<path d="M232.7,997 L232.7,1018.5 L244,1018.5" stroke="#111" stroke-width="2.86" fill="none"/>
<path d="M232.7,1014 L244,1018.5 L232.7,1018.5 Z" stroke="#222" stroke-width="0.65" fill="#111"/>
<path d="M367,988 L367,1012 L355,1012" stroke="#111" stroke-width="2.86" fill="none"/>
<path d="M367,1007 L355,1012 L367,1012 Z" stroke="#222" stroke-width="0.65" fill="#111"/>
<text x="253" y="1030" font-family="Liberation Sans" font-size="15.5" font-weight="normal" fill="#111" text-anchor="start" textLength="195" lengthAdjust="spacingAndGlyphs" stroke="#111" stroke-width="0.5425000000000001">UPPER FLOOR PLAN</text>
<line x1="253" y1="1032.2" x2="448" y2="1032.2" stroke="#111" stroke-width="1.69"/>
<text x="253" y="1042" font-family="Liberation Sans" font-size="8" font-weight="normal" fill="#222" text-anchor="start" textLength="97" lengthAdjust="spacingAndGlyphs" stroke="#222" stroke-width="0.35">SCALE : 1/4" = 1'-0"</text>
<line x1="32.2" y1="537.5" x2="32.2" y2="914" stroke="#222" stroke-width="1.17"/>
<line x1="29.2" y1="543.5" x2="35.2" y2="537.5" stroke="#111" stroke-width="1.69"/>
<line x1="29.2" y1="914" x2="35.2" y2="908" stroke="#111" stroke-width="1.69"/>
<text x="30.7" y="725.8" font-family="Liberation Sans" font-size="5.2" font-weight="bold" fill="#222" text-anchor="middle" transform="rotate(-90 30.7 725.8)" stroke="#222" stroke-width="0.3">37'-0"</text>
<line x1="43.5" y1="537.5" x2="43.5" y2="914" stroke="#222" stroke-width="1.17"/>
<line x1="40.5" y1="543.5" x2="46.5" y2="537.5" stroke="#111" stroke-width="1.69"/>
<line x1="40.5" y1="554.5" x2="46.5" y2="548.5" stroke="#111" stroke-width="1.69"/>
<line x1="40.5" y1="914" x2="46.5" y2="908" stroke="#111" stroke-width="1.69"/>
<text x="42" y="546" font-family="Liberation Sans" font-size="5.2" font-weight="bold" fill="#222" text-anchor="middle" transform="rotate(-90 42 546)" stroke="#222" stroke-width="0.3">1'-0"</text>
<text x="42" y="731.2" font-family="Liberation Sans" font-size="5.2" font-weight="bold" fill="#222" text-anchor="middle" transform="rotate(-90 42 731.2)" stroke="#222" stroke-width="0.3">28'-6"</text>
<line x1="55.6" y1="548.5" x2="55.6" y2="879.7" stroke="#222" stroke-width="1.17"/>
<line x1="52.6" y1="554.5" x2="58.6" y2="548.5" stroke="#111" stroke-width="1.69"/>
<line x1="52.6" y1="674" x2="58.6" y2="668" stroke="#111" stroke-width="1.69"/>
<line x1="52.6" y1="799" x2="58.6" y2="793" stroke="#111" stroke-width="1.69"/>
<line x1="52.6" y1="879.7" x2="58.6" y2="873.7" stroke="#111" stroke-width="1.69"/>
<text x="54.1" y="611.2" font-family="Liberation Sans" font-size="5.2" font-weight="bold" fill="#222" text-anchor="middle" transform="rotate(-90 54.1 611.2)" stroke="#222" stroke-width="0.3">10'-2"</text>
<text x="54.1" y="733.5" font-family="Liberation Sans" font-size="5.2" font-weight="bold" fill="#222" text-anchor="middle" transform="rotate(-90 54.1 733.5)" stroke="#222" stroke-width="0.3">5'-2"</text>
<text x="54.1" y="836.4" font-family="Liberation Sans" font-size="5.2" font-weight="bold" fill="#222" text-anchor="middle" transform="rotate(-90 54.1 836.4)" stroke="#222" stroke-width="0.3">7'-0"</text>
<line x1="68.5" y1="548.5" x2="68.5" y2="879.7" stroke="#222" stroke-width="1.17"/>
<line x1="65.5" y1="554.5" x2="71.5" y2="548.5" stroke="#111" stroke-width="1.69"/>
<line x1="65.5" y1="595.5" x2="71.5" y2="589.5" stroke="#111" stroke-width="1.69"/>
<line x1="65.5" y1="674" x2="71.5" y2="668" stroke="#111" stroke-width="1.69"/>
<line x1="65.5" y1="692" x2="71.5" y2="686" stroke="#111" stroke-width="1.69"/>
<line x1="65.5" y1="738.6" x2="71.5" y2="732.6" stroke="#111" stroke-width="1.69"/>
<line x1="65.5" y1="799" x2="71.5" y2="793" stroke="#111" stroke-width="1.69"/>
<line x1="65.5" y1="839" x2="71.5" y2="833" stroke="#111" stroke-width="1.69"/>
<line x1="65.5" y1="879.7" x2="71.5" y2="873.7" stroke="#111" stroke-width="1.69"/>
<text x="67" y="572" font-family="Liberation Sans" font-size="5.2" font-weight="bold" fill="#222" text-anchor="middle" transform="rotate(-90 67 572)" stroke="#222" stroke-width="0.3">3'-6"</text>
<text x="67" y="631.8" font-family="Liberation Sans" font-size="5.2" font-weight="bold" fill="#222" text-anchor="middle" transform="rotate(-90 67 631.8)" stroke="#222" stroke-width="0.3">6'-8"</text>
<text x="67" y="680" font-family="Liberation Sans" font-size="5.2" font-weight="bold" fill="#222" text-anchor="middle" transform="rotate(-90 67 680)" stroke="#222" stroke-width="0.3">1'-6"</text>
<text x="67" y="712.3" font-family="Liberation Sans" font-size="5.2" font-weight="bold" fill="#222" text-anchor="middle" transform="rotate(-90 67 712.3)" stroke="#222" stroke-width="0.3">4'-0"</text>
<text x="67" y="765.8" font-family="Liberation Sans" font-size="5.2" font-weight="bold" fill="#222" text-anchor="middle" transform="rotate(-90 67 765.8)" stroke="#222" stroke-width="0.3">5'-2"</text>
<text x="67" y="816" font-family="Liberation Sans" font-size="5.2" font-weight="bold" fill="#222" text-anchor="middle" transform="rotate(-90 67 816)" stroke="#222" stroke-width="0.3">3'-6"</text>
<text x="67" y="856.4" font-family="Liberation Sans" font-size="5.2" font-weight="bold" fill="#222" text-anchor="middle" transform="rotate(-90 67 856.4)" stroke="#222" stroke-width="0.3">3'-6"</text>
<line x1="28" y1="540.5" x2="165" y2="540.5" stroke="#333" stroke-width="1.04"/>
<line x1="40" y1="551.5" x2="148" y2="551.5" stroke="#333" stroke-width="1.04"/>
<line x1="64" y1="592.5" x2="148" y2="592.5" stroke="#333" stroke-width="1.04"/>
<line x1="52" y1="671" x2="148" y2="671" stroke="#333" stroke-width="1.04"/>
<line x1="64" y1="689" x2="148" y2="689" stroke="#333" stroke-width="1.04"/>
<line x1="52" y1="735.6" x2="148" y2="735.6" stroke="#333" stroke-width="1.04"/>
<line x1="52" y1="796" x2="148" y2="796" stroke="#333" stroke-width="1.04"/>
<line x1="64" y1="836" x2="148" y2="836" stroke="#333" stroke-width="1.04"/>
<line x1="40" y1="876.7" x2="148" y2="876.7" stroke="#333" stroke-width="1.04"/>
<line x1="28" y1="911" x2="165" y2="911" stroke="#333" stroke-width="1.04"/>
<line x1="570.4" y1="548.5" x2="570.4" y2="879.7" stroke="#222" stroke-width="1.17"/>
<line x1="567.4" y1="554.5" x2="573.4" y2="548.5" stroke="#111" stroke-width="1.69"/>
<line x1="567.4" y1="595.5" x2="573.4" y2="589.5" stroke="#111" stroke-width="1.69"/>
<line x1="567.4" y1="674" x2="573.4" y2="668" stroke="#111" stroke-width="1.69"/>
<line x1="567.4" y1="692" x2="573.4" y2="686" stroke="#111" stroke-width="1.69"/>
<line x1="567.4" y1="738.6" x2="573.4" y2="732.6" stroke="#111" stroke-width="1.69"/>
<line x1="567.4" y1="799" x2="573.4" y2="793" stroke="#111" stroke-width="1.69"/>
<line x1="567.4" y1="839" x2="573.4" y2="833" stroke="#111" stroke-width="1.69"/>
<line x1="567.4" y1="879.7" x2="573.4" y2="873.7" stroke="#111" stroke-width="1.69"/>
<text x="568.9" y="572" font-family="Liberation Sans" font-size="5.2" font-weight="bold" fill="#222" text-anchor="middle" transform="rotate(-90 568.9 572)" stroke="#222" stroke-width="0.3">3'-6"</text>
<text x="568.9" y="631.8" font-family="Liberation Sans" font-size="5.2" font-weight="bold" fill="#222" text-anchor="middle" transform="rotate(-90 568.9 631.8)" stroke="#222" stroke-width="0.3">6'-8"</text>
<text x="568.9" y="680" font-family="Liberation Sans" font-size="5.2" font-weight="bold" fill="#222" text-anchor="middle" transform="rotate(-90 568.9 680)" stroke="#222" stroke-width="0.3">1'-6"</text>
<text x="568.9" y="712.3" font-family="Liberation Sans" font-size="5.2" font-weight="bold" fill="#222" text-anchor="middle" transform="rotate(-90 568.9 712.3)" stroke="#222" stroke-width="0.3">4'-0"</text>
<text x="568.9" y="765.8" font-family="Liberation Sans" font-size="5.2" font-weight="bold" fill="#222" text-anchor="middle" transform="rotate(-90 568.9 765.8)" stroke="#222" stroke-width="0.3">5'-2"</text>
<text x="568.9" y="816" font-family="Liberation Sans" font-size="5.2" font-weight="bold" fill="#222" text-anchor="middle" transform="rotate(-90 568.9 816)" stroke="#222" stroke-width="0.3">3'-6"</text>
<text x="568.9" y="856.4" font-family="Liberation Sans" font-size="5.2" font-weight="bold" fill="#222" text-anchor="middle" transform="rotate(-90 568.9 856.4)" stroke="#222" stroke-width="0.3">3'-6"</text>
<line x1="582.5" y1="548.5" x2="582.5" y2="879.7" stroke="#222" stroke-width="1.17"/>
<line x1="579.5" y1="554.5" x2="585.5" y2="548.5" stroke="#111" stroke-width="1.69"/>
<line x1="579.5" y1="674" x2="585.5" y2="668" stroke="#111" stroke-width="1.69"/>
<line x1="579.5" y1="799" x2="585.5" y2="793" stroke="#111" stroke-width="1.69"/>
<line x1="579.5" y1="879.7" x2="585.5" y2="873.7" stroke="#111" stroke-width="1.69"/>
<text x="581" y="611.2" font-family="Liberation Sans" font-size="5.2" font-weight="bold" fill="#222" text-anchor="middle" transform="rotate(-90 581 611.2)" stroke="#222" stroke-width="0.3">10'-2"</text>
<text x="581" y="733.5" font-family="Liberation Sans" font-size="5.2" font-weight="bold" fill="#222" text-anchor="middle" transform="rotate(-90 581 733.5)" stroke="#222" stroke-width="0.3">5'-2"</text>
<text x="581" y="836.4" font-family="Liberation Sans" font-size="5.2" font-weight="bold" fill="#222" text-anchor="middle" transform="rotate(-90 581 836.4)" stroke="#222" stroke-width="0.3">7'-0"</text>
<line x1="594.6" y1="537.5" x2="594.6" y2="914" stroke="#222" stroke-width="1.17"/>
<line x1="591.6" y1="543.5" x2="597.6" y2="537.5" stroke="#111" stroke-width="1.69"/>
<line x1="591.6" y1="554.5" x2="597.6" y2="548.5" stroke="#111" stroke-width="1.69"/>
<line x1="591.6" y1="914" x2="597.6" y2="908" stroke="#111" stroke-width="1.69"/>
<text x="593.1" y="546" font-family="Liberation Sans" font-size="5.2" font-weight="bold" fill="#222" text-anchor="middle" transform="rotate(-90 593.1 546)" stroke="#222" stroke-width="0.3">1'-0"</text>
<text x="593.1" y="731.2" font-family="Liberation Sans" font-size="5.2" font-weight="bold" fill="#222" text-anchor="middle" transform="rotate(-90 593.1 731.2)" stroke="#222" stroke-width="0.3">28'-6"</text>
<line x1="606.7" y1="537.5" x2="606.7" y2="914" stroke="#222" stroke-width="1.17"/>
<line x1="603.7" y1="543.5" x2="609.7" y2="537.5" stroke="#111" stroke-width="1.69"/>
<line x1="603.7" y1="914" x2="609.7" y2="908" stroke="#111" stroke-width="1.69"/>
<text x="605.2" y="725.8" font-family="Liberation Sans" font-size="5.2" font-weight="bold" fill="#222" text-anchor="middle" transform="rotate(-90 605.2 725.8)" stroke="#222" stroke-width="0.3">37'-0"</text>
<line x1="526" y1="540.5" x2="610" y2="540.5" stroke="#333" stroke-width="1.04"/>
<line x1="543" y1="551.5" x2="598" y2="551.5" stroke="#333" stroke-width="1.04"/>
<line x1="543" y1="592.5" x2="574" y2="592.5" stroke="#333" stroke-width="1.04"/>
<line x1="543" y1="671" x2="586" y2="671" stroke="#333" stroke-width="1.04"/>
<line x1="543" y1="689" x2="574" y2="689" stroke="#333" stroke-width="1.04"/>
<line x1="543" y1="735.6" x2="586" y2="735.6" stroke="#333" stroke-width="1.04"/>
<line x1="543" y1="796" x2="586" y2="796" stroke="#333" stroke-width="1.04"/>
<line x1="543" y1="836" x2="574" y2="836" stroke="#333" stroke-width="1.04"/>
<line x1="543" y1="876.7" x2="598" y2="876.7" stroke="#333" stroke-width="1.04"/>
<line x1="527" y1="911" x2="610" y2="911" stroke="#333" stroke-width="1.04"/>
<rect x="74.6" y="629" width="60.4" height="167" fill="none" stroke="#555" stroke-width="1.17"/>
<rect x="82" y="636" width="53" height="153" fill="none" stroke="#777" stroke-width="0.91"/>
<line x1="82" y1="636" x2="135" y2="690" stroke="#444" stroke-width="1.04"/>
<line x1="82" y1="789" x2="135" y2="735" stroke="#444" stroke-width="1.04"/>
<circle cx="5" cy="715.5" r="10" stroke="#222" stroke-width="1.56" fill="none"/>
<line x1="-5" y1="715.5" x2="15" y2="715.5" stroke="#222" stroke-width="1.17"/>
<path d="M5,705 L16,715.5 L5,726" stroke="#222" stroke-width="1.43" fill="none"/>
<line x1="15" y1="715.5" x2="30" y2="715.5" stroke="#111" stroke-width="2.08"/>
<path d="M630.8,705 L630.8,717.5 L608.7,717.5" stroke="#111" stroke-width="2.6" fill="none"/>
<path d="M630.8,710 L624,717.5 L630.8,717.5 Z" stroke="#222" stroke-width="0.65" fill="#111"/>
<circle cx="234.1" cy="444.8" r="11" stroke="#111" stroke-width="2.08" fill="none"/>
<line x1="223.1" y1="444.8" x2="245.1" y2="444.8" stroke="#222" stroke-width="1.3"/>
<text x="234.1" y="442.8" font-family="Liberation Sans" font-size="5.5" font-weight="bold" fill="#1a1a1a" text-anchor="middle" stroke="#1a1a1a" stroke-width="0.3">A</text>
<text x="234.1" y="452.3" font-family="Liberation Sans" font-size="5.5" font-weight="bold" fill="#1a1a1a" text-anchor="middle" stroke="#1a1a1a" stroke-width="0.3">A4</text>
<line x1="234.1" y1="455.8" x2="234.1" y2="469" stroke="#111" stroke-width="3.9"/>
<path d="M234.6,427.7 L251.9,444.8 L236.6,460" stroke="#111" stroke-width="1.95" fill="none"/>
<path d="M234.6,427.7 L241.6,434.7 L234.6,433.7 Z" stroke="#111" stroke-width="0.78" fill="#111"/>
<path d="M246.3,440.8 L251.9,444.8 L246.3,448.8 Z" stroke="#111" stroke-width="0.78" fill="#111"/>
<circle cx="368.6" cy="444.5" r="11" stroke="#111" stroke-width="2.08" fill="none"/>
<line x1="357.6" y1="444.5" x2="379.6" y2="444.5" stroke="#222" stroke-width="1.3"/>
<text x="368.6" y="442.5" font-family="Liberation Sans" font-size="5.5" font-weight="bold" fill="#1a1a1a" text-anchor="middle" stroke="#1a1a1a" stroke-width="0.3">B</text>
<text x="368.6" y="452" font-family="Liberation Sans" font-size="5.5" font-weight="bold" fill="#1a1a1a" text-anchor="middle" stroke="#1a1a1a" stroke-width="0.3">A4</text>
<line x1="368.6" y1="455.5" x2="368.6" y2="469" stroke="#111" stroke-width="3.9"/>
<path d="M368.1,428.3 L352,444.5 L366.1,460" stroke="#111" stroke-width="1.95" fill="none"/>
<path d="M368.1,428.3 L361.1,435.3 L368.1,434.3 Z" stroke="#111" stroke-width="0.78" fill="#111"/>
<path d="M357.6,440.5 L352,444.5 L357.6,448.5 Z" stroke="#111" stroke-width="0.78" fill="#111"/>
<line x1="816.8" y1="505.7" x2="1385" y2="505.7" stroke="#333" stroke-width="1.17"/>
<line x1="814" y1="508.7" x2="820" y2="502.7" stroke="#111" stroke-width="1.69"/>
<line x1="1382" y1="508.7" x2="1388" y2="502.7" stroke="#111" stroke-width="1.69"/>
<path d="M961.6,553 L961.6,507 L1093,507 L1093,553" stroke="#333" stroke-width="1.17" fill="none"/>
<path d="M1321.2000000000003,553 L1321.2000000000003,507 L1189.8000000000002,507 L1189.8000000000002,553" stroke="#333" stroke-width="1.17" fill="none"/>
<line x1="961.6" y1="541" x2="1093" y2="541" stroke="#555" stroke-width="1.3" stroke-dasharray="3 2"/>
<line x1="1321.2" y1="541" x2="1189.8" y2="541" stroke="#555" stroke-width="1.3" stroke-dasharray="3 2"/>
<text x="1032.6" y="524.5" font-family="Liberation Sans" font-size="8.5" font-weight="normal" fill="#222" text-anchor="middle" textLength="34" lengthAdjust="spacingAndGlyphs" stroke="#222" stroke-width="0.35">PATIO</text>
<line x1="1015.6" y1="526" x2="1049.6" y2="526" stroke="#222" stroke-width="1.04"/>
<text x="1032.6" y="538" font-family="Liberation Sans" font-size="4.8" font-weight="bold" fill="#333" text-anchor="middle" textLength="72" lengthAdjust="spacingAndGlyphs" stroke="#333" stroke-width="0.3">LINE OF WALL ABOVE, TYP.</text>
<text x="1250.3" y="524.5" font-family="Liberation Sans" font-size="8.5" font-weight="normal" fill="#222" text-anchor="middle" textLength="34" lengthAdjust="spacingAndGlyphs" stroke="#222" stroke-width="0.35">PATIO</text>
<line x1="1233.3" y1="526" x2="1267.3" y2="526" stroke="#222" stroke-width="1.04"/>
<text x="1250.3" y="538" font-family="Liberation Sans" font-size="4.8" font-weight="bold" fill="#333" text-anchor="middle" textLength="72" lengthAdjust="spacingAndGlyphs" stroke="#333" stroke-width="0.3">LINE OF WALL ABOVE, TYP.</text>
<rect x="1109" y="527" width="24.6" height="23" fill="none" stroke="#222" stroke-width="1.17"/>
<rect x="1149.2" y="527" width="24.6" height="23" fill="none" stroke="#222" stroke-width="1.17"/>
<rect x="1107" y="560" width="24.5" height="10" fill="none" stroke="#222" stroke-width="1.17"/>
<rect x="1151.3" y="560" width="24.5" height="10" fill="none" stroke="#222" stroke-width="1.17"/>
<text x="1121.3" y="537" font-family="Liberation Sans" font-size="3.8" font-weight="bold" fill="#1a1a1a" text-anchor="middle" stroke="#1a1a1a" stroke-width="0.3">HEAT</text>
<text x="1121.3" y="543" font-family="Liberation Sans" font-size="3.8" font-weight="bold" fill="#1a1a1a" text-anchor="middle" stroke="#1a1a1a" stroke-width="0.3">PUMP</text>
<text x="1161.5" y="537" font-family="Liberation Sans" font-size="3.8" font-weight="bold" fill="#1a1a1a" text-anchor="middle" stroke="#1a1a1a" stroke-width="0.3">HEAT</text>
<text x="1161.5" y="543" font-family="Liberation Sans" font-size="3.8" font-weight="bold" fill="#1a1a1a" text-anchor="middle" stroke="#1a1a1a" stroke-width="0.3">PUMP</text>
<text x="1119.3" y="564.5" font-family="Liberation Sans" font-size="3.5" font-weight="bold" fill="#1a1a1a" text-anchor="middle" stroke="#1a1a1a" stroke-width="0.3">MINI</text>
<text x="1119.3" y="569" font-family="Liberation Sans" font-size="3.5" font-weight="bold" fill="#1a1a1a" text-anchor="middle" stroke="#1a1a1a" stroke-width="0.3">SPLIT</text>
<text x="1163.5" y="564.5" font-family="Liberation Sans" font-size="3.5" font-weight="bold" fill="#1a1a1a" text-anchor="middle" stroke="#1a1a1a" stroke-width="0.3">MINI</text>
<text x="1163.5" y="569" font-family="Liberation Sans" font-size="3.5" font-weight="bold" fill="#1a1a1a" text-anchor="middle" stroke="#1a1a1a" stroke-width="0.3">SPLIT</text>
<rect x="944.6" y="552.5" width="22.9" height="6.3" fill="#999" stroke="#151515" stroke-width="1.4"/>
<rect x="1315.3" y="552.5" width="22.9" height="6.3" fill="#999" stroke="#151515" stroke-width="1.4"/>
<line x1="967.5" y1="552.9" x2="990" y2="552.9" stroke="#222" stroke-width="1.23"/>
<line x1="967.5" y1="558.4" x2="990" y2="558.4" stroke="#222" stroke-width="1.23"/>
<line x1="967.5" y1="555.6" x2="990" y2="555.6" stroke="#555" stroke-width="1.04" stroke-dasharray="5 1.5"/>
<line x1="1292.8" y1="552.9" x2="1315.3" y2="552.9" stroke="#222" stroke-width="1.23"/>
<line x1="1292.8" y1="558.4" x2="1315.3" y2="558.4" stroke="#222" stroke-width="1.23"/>
<line x1="1292.8" y1="555.6" x2="1315.3" y2="555.6" stroke="#555" stroke-width="1.04" stroke-dasharray="5 1.5"/>
<rect x="990" y="552.5" width="7" height="6.3" fill="#999" stroke="#151515" stroke-width="1.4"/>
<rect x="1285.8" y="552.5" width="7" height="6.3" fill="#999" stroke="#151515" stroke-width="1.4"/>
<line x1="997" y1="552.9" x2="1066" y2="552.9" stroke="#222" stroke-width="1.23"/>
<line x1="997" y1="558.4" x2="1066" y2="558.4" stroke="#222" stroke-width="1.23"/>
<line x1="997" y1="555.6" x2="1066" y2="555.6" stroke="#555" stroke-width="1.04" stroke-dasharray="5 1.5"/>
<line x1="1216.8" y1="552.9" x2="1285.8" y2="552.9" stroke="#222" stroke-width="1.23"/>
<line x1="1216.8" y1="558.4" x2="1285.8" y2="558.4" stroke="#222" stroke-width="1.23"/>
<line x1="1216.8" y1="555.6" x2="1285.8" y2="555.6" stroke="#555" stroke-width="1.04" stroke-dasharray="5 1.5"/>
<rect x="1066" y="552.5" width="7" height="6.3" fill="#999" stroke="#151515" stroke-width="1.4"/>
<rect x="1209.8" y="552.5" width="7" height="6.3" fill="#999" stroke="#151515" stroke-width="1.4"/>
<line x1="1073" y1="552.9" x2="1095" y2="552.9" stroke="#222" stroke-width="1.23"/>
<line x1="1073" y1="558.4" x2="1095" y2="558.4" stroke="#222" stroke-width="1.23"/>
<line x1="1073" y1="555.6" x2="1095" y2="555.6" stroke="#555" stroke-width="1.04" stroke-dasharray="5 1.5"/>
<line x1="1187.8" y1="552.9" x2="1209.8" y2="552.9" stroke="#222" stroke-width="1.23"/>
<line x1="1187.8" y1="558.4" x2="1209.8" y2="558.4" stroke="#222" stroke-width="1.23"/>
<line x1="1187.8" y1="555.6" x2="1209.8" y2="555.6" stroke="#555" stroke-width="1.04" stroke-dasharray="5 1.5"/>
<rect x="1095" y="552.5" width="46.4" height="6.3" fill="#999" stroke="#151515" stroke-width="1.4"/>
<rect x="1141.4" y="552.5" width="46.4" height="6.3" fill="#999" stroke="#151515" stroke-width="1.4"/>
<rect x="944.6" y="552.5" width="5.4" height="29.1" fill="#999" stroke="#151515" stroke-width="1.4"/>
<rect x="1332.8" y="552.5" width="5.4" height="29.1" fill="#999" stroke="#151515" stroke-width="1.4"/>
<line x1="945" y1="581.6" x2="945" y2="605.3" stroke="#222" stroke-width="1.23"/>
<line x1="949.6" y1="581.6" x2="949.6" y2="605.3" stroke="#222" stroke-width="1.23"/>
<line x1="947.3" y1="581.6" x2="947.3" y2="605.3" stroke="#555" stroke-width="1.04"/>
<line x1="1333.2" y1="581.6" x2="1333.2" y2="605.3" stroke="#222" stroke-width="1.23"/>
<line x1="1337.8" y1="581.6" x2="1337.8" y2="605.3" stroke="#222" stroke-width="1.23"/>
<line x1="1335.5" y1="581.6" x2="1335.5" y2="605.3" stroke="#555" stroke-width="1.04"/>
<rect x="944.6" y="605.3" width="5.4" height="221.7" fill="#999" stroke="#151515" stroke-width="1.4"/>
<rect x="1332.8" y="605.3" width="5.4" height="221.7" fill="#999" stroke="#151515" stroke-width="1.4"/>
<line x1="945" y1="827" x2="945" y2="848.6" stroke="#222" stroke-width="1.23"/>
<line x1="949.6" y1="827" x2="949.6" y2="848.6" stroke="#222" stroke-width="1.23"/>
<line x1="947.3" y1="827" x2="947.3" y2="848.6" stroke="#555" stroke-width="1.04"/>
<line x1="1333.2" y1="827" x2="1333.2" y2="848.6" stroke="#222" stroke-width="1.23"/>
<line x1="1337.8" y1="827" x2="1337.8" y2="848.6" stroke="#222" stroke-width="1.23"/>
<line x1="1335.5" y1="827" x2="1335.5" y2="848.6" stroke="#555" stroke-width="1.04"/>
<rect x="944.6" y="848.6" width="5.4" height="29.9" fill="#999" stroke="#151515" stroke-width="1.4"/>
<rect x="1332.8" y="848.6" width="5.4" height="29.9" fill="#999" stroke="#151515" stroke-width="1.4"/>
<rect x="944.6" y="872.5" width="15.4" height="6" fill="#999" stroke="#151515" stroke-width="1.4"/>
<rect x="1322.8" y="872.5" width="15.4" height="6" fill="#999" stroke="#151515" stroke-width="1.4"/>
<line x1="960" y1="872.9" x2="984" y2="872.9" stroke="#222" stroke-width="1.23"/>
<line x1="960" y1="878.1" x2="984" y2="878.1" stroke="#222" stroke-width="1.23"/>
<line x1="960" y1="875.5" x2="984" y2="875.5" stroke="#555" stroke-width="1.04" stroke-dasharray="5 1.5"/>
<line x1="1298.8" y1="872.9" x2="1322.8" y2="872.9" stroke="#222" stroke-width="1.23"/>
<line x1="1298.8" y1="878.1" x2="1322.8" y2="878.1" stroke="#222" stroke-width="1.23"/>
<line x1="1298.8" y1="875.5" x2="1322.8" y2="875.5" stroke="#555" stroke-width="1.04" stroke-dasharray="5 1.5"/>
<rect x="984" y="872.5" width="5" height="6" fill="#999" stroke="#151515" stroke-width="1.4"/>
<rect x="1293.8" y="872.5" width="5" height="6" fill="#999" stroke="#151515" stroke-width="1.4"/>
<line x1="989" y1="872.9" x2="1048" y2="872.9" stroke="#222" stroke-width="1.23"/>
<line x1="989" y1="878.1" x2="1048" y2="878.1" stroke="#222" stroke-width="1.23"/>
<line x1="989" y1="875.5" x2="1048" y2="875.5" stroke="#555" stroke-width="1.04" stroke-dasharray="5 1.5"/>
<line x1="1234.8" y1="872.9" x2="1293.8" y2="872.9" stroke="#222" stroke-width="1.23"/>
<line x1="1234.8" y1="878.1" x2="1293.8" y2="878.1" stroke="#222" stroke-width="1.23"/>
<line x1="1234.8" y1="875.5" x2="1293.8" y2="875.5" stroke="#555" stroke-width="1.04" stroke-dasharray="5 1.5"/>
<rect x="1048" y="872.5" width="8" height="6" fill="#999" stroke="#151515" stroke-width="1.4"/>
<rect x="1226.8" y="872.5" width="8" height="6" fill="#999" stroke="#151515" stroke-width="1.4"/>
<rect x="1092" y="872.5" width="49.4" height="6" fill="#999" stroke="#151515" stroke-width="1.4"/>
<rect x="1141.4" y="872.5" width="49.4" height="6" fill="#999" stroke="#151515" stroke-width="1.4"/>
<rect x="1138" y="558.8" width="6.6" height="319.2" fill="#9a9a9a" stroke="#151515" stroke-width="1.4"/>
<path d="M1138.7,560 L1144,563.2 L1138.7,566.4 L1144,569.6 L1138.7,572.8 L1144,576.0 L1138.7,579.2 L1144,582.4 L1138.7,585.6 L1144,588.8 L1138.7,592.0 L1144,595.2 L1138.7,598.4 L1144,601.6 L1138.7,604.8 L1144,608.0 L1138.7,611.2 L1144,614.4 L1138.7,617.6 L1144,620.8 L1138.7,624.0 L1144,627.2 L1138.7,630.4 L1144,633.6 L1138.7,636.8 L1144,640.0 L1138.7,643.2 L1144,646.4 L1138.7,649.6 L1144,652.8 L1138.7,656.0 L1144,659.2 L1138.7,662.4 L1144,665.6 L1138.7,668.8 L1144,672.0 L1138.7,675.2 L1144,678.4 L1138.7,681.6 L1144,684.8 L1138.7,688.0 L1144,691.2 L1138.7,694.4 L1144,697.6 L1138.7,700.8 L1144,704.0 L1138.7,707.2 L1144,710.4 L1138.7,713.6 L1144,716.8 L1138.7,720.0 L1144,723.2 L1138.7,726.4 L1144,729.6 L1138.7,732.8 L1144,736.0 L1138.7,739.2 L1144,742.4 L1138.7,745.6 L1144,748.8 L1138.7,752.0 L1144,755.2 L1138.7,758.4 L1144,761.6 L1138.7,764.8 L1144,768.0 L1138.7,771.2 L1144,774.4 L1138.7,777.6 L1144,780.8 L1138.7,784.0 L1144,787.2 L1138.7,790.4 L1144,793.6 L1138.7,796.8 L1144,800.0 L1138.7,803.2 L1144,806.4 L1138.7,809.6 L1144,812.8 L1138.7,816.0 L1144,819.2 L1138.7,822.4000000000001 L1144,825.6 L1138.7,828.8 L1144,832.0 L1138.7,835.2 L1144,838.4000000000001 L1138.7,841.6 L1144,844.8 L1138.7,848.0 L1144,851.2 L1138.7,854.4000000000001 L1144,857.6 L1138.7,860.8 L1144,864.0 L1138.7,867.2 L1144,870.4000000000001 L1138.7,873.6" stroke="#222" stroke-width="0.78" fill="none"/>
<rect x="950" y="775.7" width="105" height="3.7" fill="#999" stroke="#151515" stroke-width="1.4"/>
<rect x="1227.8" y="775.7" width="105" height="3.7" fill="#999" stroke="#151515" stroke-width="1.4"/>
<rect x="1050" y="749" width="5" height="30.4" fill="#999" stroke="#151515" stroke-width="1.4"/>
<rect x="1227.8" y="749" width="5" height="30.4" fill="#999" stroke="#151515" stroke-width="1.4"/>
<rect x="1094.7" y="655" width="4.7" height="31.5" fill="#999" stroke="#151515" stroke-width="1.4"/>
<rect x="1183.4" y="655" width="4.7" height="31.5" fill="#999" stroke="#151515" stroke-width="1.4"/>
<rect x="1094.7" y="714" width="4.7" height="163" fill="#999" stroke="#151515" stroke-width="1.4"/>
<rect x="1183.4" y="714" width="4.7" height="163" fill="#999" stroke="#151515" stroke-width="1.4"/>
<rect x="1094.7" y="655" width="43.3" height="5" fill="#999" stroke="#151515" stroke-width="1.4"/>
<rect x="1144.8" y="655" width="43.3" height="5" fill="#999" stroke="#151515" stroke-width="1.4"/>
<rect x="1099.4" y="728.8" width="38.6" height="3.7" fill="#999" stroke="#151515" stroke-width="1.4"/>
<rect x="1144.8" y="728.8" width="38.6" height="3.7" fill="#999" stroke="#151515" stroke-width="1.4"/>
<rect x="1099.4" y="845.4" width="4.6" height="3.1" fill="#999" stroke="#151515" stroke-width="1.4"/>
<rect x="1178.8" y="845.4" width="4.6" height="3.1" fill="#999" stroke="#151515" stroke-width="1.4"/>
<rect x="1133" y="845.4" width="5" height="3.1" fill="#999" stroke="#151515" stroke-width="1.4"/>
<rect x="1144.8" y="845.4" width="5" height="3.1" fill="#999" stroke="#151515" stroke-width="1.4"/>
<line x1="1099.4" y1="742.9" x2="1138" y2="742.9" stroke="#333" stroke-width="1.3"/>
<line x1="1183.4" y1="742.9" x2="1144.8" y2="742.9" stroke="#333" stroke-width="1.3"/>
<line x1="1099.4" y1="751.5" x2="1138" y2="751.5" stroke="#333" stroke-width="1.3"/>
<line x1="1183.4" y1="751.5" x2="1144.8" y2="751.5" stroke="#333" stroke-width="1.3"/>
<line x1="1099.4" y1="761.8" x2="1138" y2="761.8" stroke="#333" stroke-width="1.3"/>
<line x1="1183.4" y1="761.8" x2="1144.8" y2="761.8" stroke="#333" stroke-width="1.3"/>
<line x1="1099.4" y1="771.3" x2="1138" y2="771.3" stroke="#333" stroke-width="1.3"/>
<line x1="1183.4" y1="771.3" x2="1144.8" y2="771.3" stroke="#333" stroke-width="1.3"/>
<line x1="1099.4" y1="781.5" x2="1138" y2="781.5" stroke="#333" stroke-width="1.3"/>
<line x1="1183.4" y1="781.5" x2="1144.8" y2="781.5" stroke="#333" stroke-width="1.3"/>
<line x1="1099.4" y1="791" x2="1138" y2="791" stroke="#333" stroke-width="1.3"/>
<line x1="1183.4" y1="791" x2="1144.8" y2="791" stroke="#333" stroke-width="1.3"/>
<line x1="1099.4" y1="801" x2="1138" y2="801" stroke="#333" stroke-width="1.3"/>
<line x1="1183.4" y1="801" x2="1144.8" y2="801" stroke="#333" stroke-width="1.3"/>
<line x1="1099.4" y1="810" x2="1138" y2="810" stroke="#333" stroke-width="1.3"/>
<line x1="1183.4" y1="810" x2="1144.8" y2="810" stroke="#333" stroke-width="1.3"/>
<line x1="1099.4" y1="740" x2="1138" y2="740" stroke="#555" stroke-width="1.04" stroke-dasharray="3 1.5"/>
<line x1="1183.4" y1="740" x2="1144.8" y2="740" stroke="#555" stroke-width="1.04" stroke-dasharray="3 1.5"/>
<line x1="1099.4" y1="862" x2="1138" y2="862" stroke="#555" stroke-width="1.43" stroke-dasharray="3 1.5"/>
<line x1="1183.4" y1="862" x2="1144.8" y2="862" stroke="#555" stroke-width="1.43" stroke-dasharray="3 1.5"/>
<line x1="1094.7" y1="828" x2="1138" y2="828" stroke="#333" stroke-width="1.17"/>
<line x1="1188.1" y1="828" x2="1144.8" y2="828" stroke="#333" stroke-width="1.17"/>
<line x1="1120" y1="748" x2="1120" y2="805" stroke="#222" stroke-width="1.17"/>
<line x1="1162.8" y1="748" x2="1162.8" y2="805" stroke="#222" stroke-width="1.17"/>
<path d="M1118,757 L1120,748 L1122,757 Z" stroke="#222" stroke-width="0.65" fill="#111"/>
<path d="M1164.8000000000002,757 L1162.8000000000002,748 L1160.8000000000002,757 Z" stroke="#222" stroke-width="0.65" fill="#111"/>
<text x="1118.5" y="872" font-family="Liberation Sans" font-size="5" font-weight="bold" fill="#1a1a1a" text-anchor="middle" textLength="20" lengthAdjust="spacingAndGlyphs" stroke="#1a1a1a" stroke-width="0.3">COATS</text>
<text x="1116.5" y="738.5" font-family="Liberation Sans" font-size="4.5" font-weight="bold" fill="#1a1a1a" text-anchor="middle" stroke="#1a1a1a" stroke-width="0.3">2'-9"</text>
<text x="1164" y="872" font-family="Liberation Sans" font-size="5" font-weight="bold" fill="#1a1a1a" text-anchor="middle" textLength="20" lengthAdjust="spacingAndGlyphs" stroke="#1a1a1a" stroke-width="0.3">COATS</text>
<text x="1162" y="738.5" font-family="Liberation Sans" font-size="4.5" font-weight="bold" fill="#1a1a1a" text-anchor="middle" stroke="#1a1a1a" stroke-width="0.3">2'-9"</text>
<path d="M1104,846 Q1102,831 1112,826" stroke="#222" stroke-width="1.17" fill="none"/>
<path d="M1178.8000000000002,846 Q1180.8000000000002,831 1170.8000000000002,826" stroke="#222" stroke-width="1.17" fill="none"/>
<path d="M1112,826 L1130,845" stroke="#444" stroke-width="3.12" fill="none"/>
<path d="M1170.8000000000002,826 L1152.8000000000002,845" stroke="#444" stroke-width="3.12" fill="none"/>
<rect x="1108" y="662.6" width="21" height="6.4" fill="none" stroke="#222" stroke-width="1.17" rx="2"/>
<rect x="1153.8" y="662.6" width="21" height="6.4" fill="none" stroke="#222" stroke-width="1.17" rx="2"/>
<ellipse cx="1119" cy="680" rx="6.5" ry="9" fill="none" stroke="#222" stroke-width="1.4"/>
<ellipse cx="1163.8" cy="680" rx="6.5" ry="9" fill="none" stroke="#222" stroke-width="1.4"/>
<rect x="1115" y="676" width="8" height="8" fill="none" stroke="#222" stroke-width="0.91"/>
<rect x="1159.8" y="676" width="8" height="8" fill="none" stroke="#222" stroke-width="0.91"/>
<line x1="1099.4" y1="689" x2="1138" y2="689" stroke="#555" stroke-width="1.17" stroke-dasharray="3 2"/>
<line x1="1183.4" y1="689" x2="1144.8" y2="689" stroke="#555" stroke-width="1.17" stroke-dasharray="3 2"/>
<line x1="1099.4" y1="699" x2="1138" y2="699" stroke="#555" stroke-width="1.04" stroke-dasharray="3 2"/>
<line x1="1183.4" y1="699" x2="1144.8" y2="699" stroke="#555" stroke-width="1.04" stroke-dasharray="3 2"/>
<line x1="1099.4" y1="716" x2="1138" y2="716" stroke="#555" stroke-width="1.04" stroke-dasharray="3 2"/>
<line x1="1183.4" y1="716" x2="1144.8" y2="716" stroke="#555" stroke-width="1.04" stroke-dasharray="3 2"/>
<circle cx="1116.5" cy="720" r="7" stroke="#222" stroke-width="1.56" fill="none"/>
<circle cx="1166.3" cy="720" r="7" stroke="#222" stroke-width="1.56" fill="none"/>
<circle cx="1116.5" cy="720" r="4" stroke="#222" stroke-width="0.91" fill="none"/>
<circle cx="1166.3" cy="720" r="4" stroke="#222" stroke-width="0.91" fill="none"/>
<path d="M1099.4,686.5 L1081,704 Q1090,714 1099.4,714" stroke="#222" stroke-width="1.17" fill="none"/>
<path d="M1183.4,686.5 L1201.8000000000002,704 Q1192.8000000000002,714 1183.4,714" stroke="#222" stroke-width="1.17" fill="none"/>
<path d="M1081,704 L1099.4,686.5" stroke="#444" stroke-width="3.12" fill="none"/>
<path d="M1201.8000000000002,704 L1183.4,686.5" stroke="#444" stroke-width="3.12" fill="none"/>
<rect x="950" y="677" width="105" height="0.1" fill="none" stroke="#222" stroke-width="1.17"/>
<rect x="1227.8" y="677" width="105" height="0.1" fill="none" stroke="#222" stroke-width="1.17"/>
<line x1="1055" y1="677" x2="1055" y2="720" stroke="#222" stroke-width="1.17"/>
<line x1="1227.8" y1="677" x2="1227.8" y2="720" stroke="#222" stroke-width="1.17"/>
<line x1="955" y1="689" x2="1055" y2="689" stroke="#444" stroke-width="1.3" stroke-dasharray="3 2"/>
<line x1="1327.8" y1="689" x2="1227.8" y2="689" stroke="#444" stroke-width="1.3" stroke-dasharray="3 2"/>
<line x1="960" y1="689" x2="960" y2="763.7" stroke="#444" stroke-width="1.3" stroke-dasharray="3 2"/>
<line x1="1322.8" y1="689" x2="1322.8" y2="763.7" stroke="#444" stroke-width="1.3" stroke-dasharray="3 2"/>
<line x1="960" y1="763.7" x2="1050" y2="763.7" stroke="#444" stroke-width="1.3" stroke-dasharray="3 2"/>
<line x1="1322.8" y1="763.7" x2="1232.8" y2="763.7" stroke="#444" stroke-width="1.3" stroke-dasharray="3 2"/>
<line x1="950" y1="712" x2="972" y2="712" stroke="#222" stroke-width="1.17"/>
<line x1="1332.8" y1="712" x2="1310.8" y2="712" stroke="#222" stroke-width="1.17"/>
<line x1="972" y1="712" x2="972" y2="753" stroke="#222" stroke-width="1.17"/>
<line x1="1310.8" y1="712" x2="1310.8" y2="753" stroke="#222" stroke-width="1.17"/>
<line x1="972" y1="753" x2="1014" y2="753" stroke="#222" stroke-width="1.17"/>
<line x1="1310.8" y1="753" x2="1268.8" y2="753" stroke="#222" stroke-width="1.17"/>
<line x1="1014" y1="749" x2="1014" y2="775.7" stroke="#222" stroke-width="1.17"/>
<line x1="1268.8" y1="749" x2="1268.8" y2="775.7" stroke="#222" stroke-width="1.17"/>
<line x1="1014" y1="749" x2="1050" y2="749" stroke="#222" stroke-width="1.17"/>
<line x1="1268.8" y1="749" x2="1232.8" y2="749" stroke="#222" stroke-width="1.17"/>
<line x1="1028" y1="689" x2="1028" y2="712" stroke="#222" stroke-width="1.17"/>
<line x1="1254.8" y1="689" x2="1254.8" y2="712" stroke="#222" stroke-width="1.17"/>
<line x1="1028" y1="712" x2="1055" y2="712" stroke="#222" stroke-width="1.17"/>
<line x1="1254.8" y1="712" x2="1227.8" y2="712" stroke="#222" stroke-width="1.17"/>
<rect x="994" y="692" width="32" height="18" fill="none" stroke="#222" stroke-width="1.3"/>
<rect x="1256.8" y="692" width="32" height="18" fill="none" stroke="#222" stroke-width="1.3"/>
<rect x="997" y="694" width="13" height="14" fill="none" stroke="#222" stroke-width="0.91" rx="2"/>
<rect x="1272.8" y="694" width="13" height="14" fill="none" stroke="#222" stroke-width="0.91" rx="2"/>
<rect x="1011" y="694" width="13" height="14" fill="none" stroke="#222" stroke-width="0.91" rx="2"/>
<rect x="1258.8" y="694" width="13" height="14" fill="none" stroke="#222" stroke-width="0.91" rx="2"/>
<rect x="950" y="722" width="22" height="25" fill="none" stroke="#222" stroke-width="1.17"/>
<rect x="1310.8" y="722" width="22" height="25" fill="none" stroke="#222" stroke-width="1.17"/>
<circle cx="955.5" cy="728" r="3.5" stroke="#222" stroke-width="1.17" fill="none"/>
<circle cx="1327.3" cy="728" r="3.5" stroke="#222" stroke-width="1.17" fill="none"/>
<circle cx="966" cy="728" r="3.5" stroke="#222" stroke-width="1.17" fill="none"/>
<circle cx="1316.8" cy="728" r="3.5" stroke="#222" stroke-width="1.17" fill="none"/>
<circle cx="955.5" cy="740" r="3.5" stroke="#222" stroke-width="1.17" fill="none"/>
<circle cx="1327.3" cy="740" r="3.5" stroke="#222" stroke-width="1.17" fill="none"/>
<circle cx="966" cy="740" r="3.5" stroke="#222" stroke-width="1.17" fill="none"/>
<circle cx="1316.8" cy="740" r="3.5" stroke="#222" stroke-width="1.17" fill="none"/>
<text x="1021" y="683" font-family="Liberation Sans" font-size="4.6" font-weight="bold" fill="#1a1a1a" text-anchor="middle" textLength="43" lengthAdjust="spacingAndGlyphs" stroke="#1a1a1a" stroke-width="0.3">FLUSH EATING BAR</text>
<text x="1279.6" y="683" font-family="Liberation Sans" font-size="4.6" font-weight="bold" fill="#1a1a1a" text-anchor="middle" textLength="43" lengthAdjust="spacingAndGlyphs" stroke="#1a1a1a" stroke-width="0.3">FLUSH EATING BAR</text>
<text x="1010" y="717" font-family="Liberation Sans" font-size="4.3" font-weight="bold" fill="#1a1a1a" text-anchor="middle" stroke="#1a1a1a" stroke-width="0.3">SINK W/</text>
<text x="1010" y="723" font-family="Liberation Sans" font-size="4.3" font-weight="bold" fill="#1a1a1a" text-anchor="middle" stroke="#1a1a1a" stroke-width="0.3">DISP.</text>
<text x="1272" y="717" font-family="Liberation Sans" font-size="4.3" font-weight="bold" fill="#1a1a1a" text-anchor="middle" stroke="#1a1a1a" stroke-width="0.3">SINK W/</text>
<text x="1272" y="723" font-family="Liberation Sans" font-size="4.3" font-weight="bold" fill="#1a1a1a" text-anchor="middle" stroke="#1a1a1a" stroke-width="0.3">DISP.</text>
<text x="1035" y="717" font-family="Liberation Sans" font-size="4.3" font-weight="bold" fill="#1a1a1a" text-anchor="middle" stroke="#1a1a1a" stroke-width="0.3">D/W</text>
<text x="1248" y="717" font-family="Liberation Sans" font-size="4.3" font-weight="bold" fill="#1a1a1a" text-anchor="middle" stroke="#1a1a1a" stroke-width="0.3">D/W</text>
<text x="1032" y="763" font-family="Liberation Sans" font-size="4.6" font-weight="bold" fill="#1a1a1a" text-anchor="middle" stroke="#1a1a1a" stroke-width="0.3">REF.</text>
<text x="1251" y="763" font-family="Liberation Sans" font-size="4.6" font-weight="bold" fill="#1a1a1a" text-anchor="middle" stroke="#1a1a1a" stroke-width="0.3">REF.</text>
<rect x="950" y="783" width="7" height="12" fill="none" stroke="#222" stroke-width="1.17"/>
<rect x="1325.8" y="783" width="7" height="12" fill="none" stroke="#222" stroke-width="1.17"/>
<line x1="957" y1="788" x2="985" y2="786" stroke="#222" stroke-width="0.91"/>
<line x1="1325.8" y1="788" x2="1297.8" y2="786" stroke="#222" stroke-width="0.91"/>
<text x="1001" y="789" font-family="Liberation Sans" font-size="4.8" font-weight="bold" fill="#1a1a1a" text-anchor="middle" textLength="40" lengthAdjust="spacingAndGlyphs" stroke="#1a1a1a" stroke-width="0.3">INLINE WATER</text>
<text x="1001" y="795" font-family="Liberation Sans" font-size="4.8" font-weight="bold" fill="#1a1a1a" text-anchor="middle" textLength="24" lengthAdjust="spacingAndGlyphs" stroke="#1a1a1a" stroke-width="0.3">HEATER</text>
<text x="1279" y="789" font-family="Liberation Sans" font-size="4.8" font-weight="bold" fill="#1a1a1a" text-anchor="middle" textLength="40" lengthAdjust="spacingAndGlyphs" stroke="#1a1a1a" stroke-width="0.3">INLINE WATER</text>
<text x="1279" y="795" font-family="Liberation Sans" font-size="4.8" font-weight="bold" fill="#1a1a1a" text-anchor="middle" textLength="24" lengthAdjust="spacingAndGlyphs" stroke="#1a1a1a" stroke-width="0.3">HEATER</text>
<line x1="950" y1="802" x2="1055" y2="802" stroke="#222" stroke-width="1.17"/>
<line x1="1332.8" y1="802" x2="1227.8" y2="802" stroke="#222" stroke-width="1.17"/>
<text x="1000" y="800.5" font-family="Liberation Sans" font-size="5" font-weight="bold" fill="#1a1a1a" text-anchor="middle" stroke="#1a1a1a" stroke-width="0.3">5'-6"</text>
<text x="1281" y="800.5" font-family="Liberation Sans" font-size="5" font-weight="bold" fill="#1a1a1a" text-anchor="middle" stroke="#1a1a1a" stroke-width="0.3">5'-6"</text>
<text x="1072" y="800.5" font-family="Liberation Sans" font-size="5" font-weight="bold" fill="#1a1a1a" text-anchor="middle" stroke="#1a1a1a" stroke-width="0.3">3'-6"</text>
<text x="1211" y="800.5" font-family="Liberation Sans" font-size="5" font-weight="bold" fill="#1a1a1a" text-anchor="middle" stroke="#1a1a1a" stroke-width="0.3">3'-6"</text>
<line x1="1055" y1="802" x2="1095" y2="802" stroke="#222" stroke-width="1.17"/>
<line x1="1227.8" y1="802" x2="1187.8" y2="802" stroke="#222" stroke-width="1.17"/>
<line x1="947" y1="805" x2="953" y2="799" stroke="#111" stroke-width="1.69"/>
<line x1="1329.8" y1="805" x2="1335.8" y2="799" stroke="#111" stroke-width="1.69"/>
<line x1="1052" y1="805" x2="1058" y2="799" stroke="#111" stroke-width="1.69"/>
<line x1="1224.8" y1="805" x2="1230.8" y2="799" stroke="#111" stroke-width="1.69"/>
<line x1="1092" y1="805" x2="1098" y2="799" stroke="#111" stroke-width="1.69"/>
<line x1="1184.8" y1="805" x2="1190.8" y2="799" stroke="#111" stroke-width="1.69"/>
<line x1="960" y1="784" x2="960" y2="872" stroke="#2a4a3a" stroke-width="1.04" stroke-dasharray="4 1.5"/>
<line x1="1322.8" y1="784" x2="1322.8" y2="872" stroke="#2a4a3a" stroke-width="1.04" stroke-dasharray="4 1.5"/>
<text x="956" y="860" font-family="Liberation Sans" font-size="4.5" font-weight="bold" fill="#1a1a1a" text-anchor="middle" transform="rotate(-90 956 860)" stroke="#1a1a1a" stroke-width="0.3">PANTRY</text>
<text x="1326.8" y="860" font-family="Liberation Sans" font-size="4.5" font-weight="bold" fill="#1a1a1a" text-anchor="middle" transform="rotate(-90 1326.8 860)" stroke="#1a1a1a" stroke-width="0.3">PANTRY</text>
<path d="M1056,872.5 Q1058,840 1092,838" stroke="#222" stroke-width="1.17" fill="none"/>
<path d="M1226.8000000000002,872.5 Q1224.8000000000002,840 1190.8000000000002,838" stroke="#222" stroke-width="1.17" fill="none"/>
<line x1="1090" y1="838" x2="1090" y2="872.5" stroke="#222" stroke-width="1.56"/>
<line x1="1192.8" y1="838" x2="1192.8" y2="872.5" stroke="#222" stroke-width="1.56"/>
<text x="1086" y="858" font-family="Liberation Sans" font-size="4.2" font-weight="bold" fill="#1a1a1a" text-anchor="middle" transform="rotate(-90 1086 858)" stroke="#1a1a1a" stroke-width="0.3">2/6x6/8 S/C</text>
<path d="M959,878.5 L959,912.6 L1100.6,912.6 L1100.6,878.5" stroke="#333" stroke-width="1.17" fill="none"/>
<path d="M1180.5,878.5 L1180.5,912.6 L1319.7,912.6 L1319.7,878.5" stroke="#333" stroke-width="1.17" fill="none"/>
<line x1="816" y1="913.2" x2="959" y2="913.2" stroke="#333" stroke-width="1.17"/>
<line x1="1319.7" y1="913.2" x2="1385" y2="913.2" stroke="#333" stroke-width="1.17"/>
<text x="1029.8" y="904.5" font-family="Liberation Sans" font-size="8" font-weight="normal" fill="#222" text-anchor="middle" textLength="38" lengthAdjust="spacingAndGlyphs" stroke="#222" stroke-width="0.35">PORTICO</text>
<line x1="1010.8" y1="906" x2="1048.8" y2="906" stroke="#222" stroke-width="1.04"/>
<text x="1254" y="904.5" font-family="Liberation Sans" font-size="8" font-weight="normal" fill="#222" text-anchor="middle" textLength="38" lengthAdjust="spacingAndGlyphs" stroke="#222" stroke-width="0.35">PORTICO</text>
<line x1="1235" y1="906" x2="1273" y2="906" stroke="#222" stroke-width="1.04"/>
<text x="961" y="883" font-family="Liberation Sans" font-size="4.6" font-weight="bold" fill="#222" text-anchor="start" stroke="#222" stroke-width="0.3">3/0x6/8</text>
<text x="963" y="889" font-family="Liberation Sans" font-size="4.6" font-weight="bold" fill="#222" text-anchor="start" stroke="#222" stroke-width="0.3">6/1</text>
<text x="961" y="895" font-family="Liberation Sans" font-size="4.6" font-weight="bold" fill="#222" text-anchor="start" stroke="#222" stroke-width="0.3">(SAFETY</text>
<text x="965" y="901" font-family="Liberation Sans" font-size="4.6" font-weight="bold" fill="#222" text-anchor="start" stroke="#222" stroke-width="0.3">GL.)</text>
<text x="999" y="883" font-family="Liberation Sans" font-size="4.6" font-weight="bold" fill="#222" text-anchor="start" stroke="#222" stroke-width="0.3">3/0x6/8 FIXD.</text>
<text x="999" y="889" font-family="Liberation Sans" font-size="4.6" font-weight="bold" fill="#222" text-anchor="start" stroke="#222" stroke-width="0.3">(SAFETY GL.)</text>
<text x="1219" y="883" font-family="Liberation Sans" font-size="4.6" font-weight="bold" fill="#222" text-anchor="start" stroke="#222" stroke-width="0.3">3/0x6/8 FIXD.</text>
<text x="1219" y="889" font-family="Liberation Sans" font-size="4.6" font-weight="bold" fill="#222" text-anchor="start" stroke="#222" stroke-width="0.3">(SAFETY GL.)</text>
<text x="1298" y="883" font-family="Liberation Sans" font-size="4.6" font-weight="bold" fill="#222" text-anchor="start" stroke="#222" stroke-width="0.3">3/0x6/8</text>
<text x="1302" y="889" font-family="Liberation Sans" font-size="4.6" font-weight="bold" fill="#222" text-anchor="start" stroke="#222" stroke-width="0.3">6/1</text>
<text x="1298" y="895" font-family="Liberation Sans" font-size="4.6" font-weight="bold" fill="#222" text-anchor="start" stroke="#222" stroke-width="0.3">(SAFETY</text>
<text x="1302" y="901" font-family="Liberation Sans" font-size="4.6" font-weight="bold" fill="#222" text-anchor="start" stroke="#222" stroke-width="0.3">GL.)</text>
<text x="978" y="567" font-family="Liberation Sans" font-size="4.5" font-weight="bold" fill="#222" text-anchor="start" stroke="#222" stroke-width="0.3">3/0x6/8 SLD. GL. DR. W/ (TEMP.</text>
<text x="1242.8" y="567" font-family="Liberation Sans" font-size="4.5" font-weight="bold" fill="#222" text-anchor="start" stroke="#222" stroke-width="0.3">3/0x6/8 SLD. GL. DR. W/ (TEMP.</text>
<text x="978" y="573" font-family="Liberation Sans" font-size="4.5" font-weight="bold" fill="#222" text-anchor="start" stroke="#222" stroke-width="0.3">GL.) W/ (1) 2/0x6/8 SH. GL. SIDE</text>
<text x="1242.8" y="573" font-family="Liberation Sans" font-size="4.5" font-weight="bold" fill="#222" text-anchor="start" stroke="#222" stroke-width="0.3">GL.) W/ (1) 2/0x6/8 SH. GL. SIDE</text>
<text x="990" y="579" font-family="Liberation Sans" font-size="4.5" font-weight="bold" fill="#222" text-anchor="start" stroke="#222" stroke-width="0.3">(SAFETY GL.)</text>
<text x="1230.8" y="579" font-family="Liberation Sans" font-size="4.5" font-weight="bold" fill="#222" text-anchor="start" stroke="#222" stroke-width="0.3">(SAFETY GL.)</text>
<rect x="888.5" y="646" width="5.5" height="82" fill="#999" stroke="#151515" stroke-width="1.4"/>
<rect x="888.5" y="763.7" width="5.5" height="20.3" fill="#999" stroke="#151515" stroke-width="1.4"/>
<rect x="888.5" y="646" width="14.5" height="4.6" fill="#999" stroke="#151515" stroke-width="1.4"/>
<rect x="936" y="646" width="14" height="4.6" fill="#999" stroke="#151515" stroke-width="1.4"/>
<rect x="888.5" y="779.4" width="61.5" height="4.6" fill="#999" stroke="#151515" stroke-width="1.4"/>
<rect x="894" y="710.4" width="50.6" height="3.6" fill="#999" stroke="#151515" stroke-width="1.4"/>
<line x1="894" y1="650.6" x2="944.6" y2="710.4" stroke="#222" stroke-width="0.91"/>
<line x1="944.6" y1="650.6" x2="894" y2="710.4" stroke="#222" stroke-width="0.91"/>
<line x1="894" y1="714" x2="944.6" y2="779.4" stroke="#222" stroke-width="0.91"/>
<line x1="944.6" y1="714" x2="894" y2="779.4" stroke="#222" stroke-width="0.91"/>
<path d="M903,646 Q903,628 911.5,622" stroke="#222" stroke-width="1.17" fill="none"/>
<path d="M911.5,622 L934,645" stroke="#444" stroke-width="3.12" fill="none"/>
<path d="M888.5,728 L870,742 Q874,757 888.5,763.7" stroke="#222" stroke-width="1.17" fill="none"/>
<path d="M870,742 L888.5,728" stroke="#444" stroke-width="2.86" fill="none"/>
<path d="M897,686 Q897,681 901,681 L909,681 Q913,681 913,686 M905,681 L905,708" stroke="#222" stroke-width="2.21" fill="none"/>
<path d="M925,686 Q925,681 929,681 L937,681 Q941,681 941,686 M933,681 L933,708" stroke="#222" stroke-width="2.21" fill="none"/>
<text x="919" y="698" font-family="Liberation Sans" font-size="4.5" font-weight="bold" fill="#1a1a1a" text-anchor="middle" stroke="#1a1a1a" stroke-width="0.3">(2)</text>
<text x="919" y="704" font-family="Liberation Sans" font-size="4.5" font-weight="bold" fill="#1a1a1a" text-anchor="middle" stroke="#1a1a1a" stroke-width="0.3">BIKES</text>
<rect x="918" y="722" width="22" height="23" fill="none" stroke="#222" stroke-width="1.04"/>
<rect x="912" y="748" width="28" height="24" fill="none" stroke="#222" stroke-width="1.04"/>
<text x="929" y="735" font-family="Liberation Sans" font-size="4" font-weight="bold" fill="#1a1a1a" text-anchor="middle" stroke="#1a1a1a" stroke-width="0.3">TRASH</text>
<text x="926" y="763" font-family="Liberation Sans" font-size="4" font-weight="bold" fill="#1a1a1a" text-anchor="middle" stroke="#1a1a1a" stroke-width="0.3">RECYCLE</text>
<text x="1122" y="628" font-family="Liberation Sans" font-size="4.5" font-weight="bold" fill="#1a1a1a" text-anchor="middle" stroke="#1a1a1a" stroke-width="0.3">BIKE</text>
<text x="1122" y="635" font-family="Liberation Sans" font-size="4.5" font-weight="bold" fill="#1a1a1a" text-anchor="middle" stroke="#1a1a1a" stroke-width="0.3">RACK</text>
<text x="1161" y="628" font-family="Liberation Sans" font-size="4.5" font-weight="bold" fill="#1a1a1a" text-anchor="middle" stroke="#1a1a1a" stroke-width="0.3">BIKE</text>
<text x="1161" y="635" font-family="Liberation Sans" font-size="4.5" font-weight="bold" fill="#1a1a1a" text-anchor="middle" stroke="#1a1a1a" stroke-width="0.3">RACK</text>
<path d="M1113,622 Q1107,622 1107,627 L1107,636 Q1107,641 1113,642" stroke="#222" stroke-width="1.43" fill="none"/>
<path d="M1169.8000000000002,622 Q1175.8000000000002,622 1175.8000000000002,627 L1175.8000000000002,636 Q1175.8000000000002,641 1169.8000000000002,642" stroke="#222" stroke-width="1.43" fill="none"/>
<line x1="1108" y1="631" x2="1138" y2="631" stroke="#222" stroke-width="1.56"/>
<line x1="1174.8" y1="631" x2="1144.8" y2="631" stroke="#222" stroke-width="1.56"/>
<circle cx="964.6" cy="597.4" r="7" stroke="#222" stroke-width="1.43" fill="none"/>
<line x1="957.6" y1="597.4" x2="971.6" y2="597.4" stroke="#222" stroke-width="1.17"/>
<text x="964.6" y="595.9" font-family="Liberation Sans" font-size="4.5" font-weight="bold" fill="#1a1a1a" text-anchor="middle" stroke="#1a1a1a" stroke-width="0.3">1</text>
<text x="964.6" y="602.9" font-family="Liberation Sans" font-size="4.5" font-weight="bold" fill="#1a1a1a" text-anchor="middle" stroke="#1a1a1a" stroke-width="0.3">A6</text>
<text x="973.6" y="598.9" font-family="Liberation Sans" font-size="5" font-weight="bold" fill="#1a1a1a" text-anchor="start" stroke="#1a1a1a" stroke-width="0.3">TYP.</text>
<circle cx="1056.3" cy="583.6" r="7" stroke="#222" stroke-width="1.43" fill="none"/>
<line x1="1049.3" y1="583.6" x2="1063.3" y2="583.6" stroke="#222" stroke-width="1.17"/>
<text x="1056.3" y="582.1" font-family="Liberation Sans" font-size="4.5" font-weight="bold" fill="#1a1a1a" text-anchor="middle" stroke="#1a1a1a" stroke-width="0.3">4</text>
<text x="1056.3" y="589.1" font-family="Liberation Sans" font-size="4.5" font-weight="bold" fill="#1a1a1a" text-anchor="middle" stroke="#1a1a1a" stroke-width="0.3">A6</text>
<text x="1065.3" y="585.1" font-family="Liberation Sans" font-size="5" font-weight="bold" fill="#1a1a1a" text-anchor="start" stroke="#1a1a1a" stroke-width="0.3">TYP.</text>
<circle cx="1273.4" cy="586" r="7" stroke="#222" stroke-width="1.43" fill="none"/>
<line x1="1266.4" y1="586" x2="1280.4" y2="586" stroke="#222" stroke-width="1.17"/>
<text x="1273.4" y="584.5" font-family="Liberation Sans" font-size="4.5" font-weight="bold" fill="#1a1a1a" text-anchor="middle" stroke="#1a1a1a" stroke-width="0.3">4</text>
<text x="1273.4" y="591.5" font-family="Liberation Sans" font-size="4.5" font-weight="bold" fill="#1a1a1a" text-anchor="middle" stroke="#1a1a1a" stroke-width="0.3">A6</text>
<text x="1282.4" y="587.5" font-family="Liberation Sans" font-size="5" font-weight="bold" fill="#1a1a1a" text-anchor="start" stroke="#1a1a1a" stroke-width="0.3">TYP.</text>
<circle cx="1316.5" cy="596.6" r="7" stroke="#222" stroke-width="1.43" fill="none"/>
<line x1="1309.5" y1="596.6" x2="1323.5" y2="596.6" stroke="#222" stroke-width="1.17"/>
<text x="1316.5" y="595.1" font-family="Liberation Sans" font-size="4.5" font-weight="bold" fill="#1a1a1a" text-anchor="middle" stroke="#1a1a1a" stroke-width="0.3">1</text>
<text x="1316.5" y="602.1" font-family="Liberation Sans" font-size="4.5" font-weight="bold" fill="#1a1a1a" text-anchor="middle" stroke="#1a1a1a" stroke-width="0.3">A6</text>
<text x="1325.5" y="598.1" font-family="Liberation Sans" font-size="5" font-weight="bold" fill="#1a1a1a" text-anchor="start" stroke="#1a1a1a" stroke-width="0.3">TYP.</text>
<circle cx="994" cy="857" r="7" stroke="#222" stroke-width="1.43" fill="none"/>
<line x1="987" y1="857" x2="1001" y2="857" stroke="#222" stroke-width="1.17"/>
<text x="994" y="855.5" font-family="Liberation Sans" font-size="4.5" font-weight="bold" fill="#1a1a1a" text-anchor="middle" stroke="#1a1a1a" stroke-width="0.3">1</text>
<text x="994" y="862.5" font-family="Liberation Sans" font-size="4.5" font-weight="bold" fill="#1a1a1a" text-anchor="middle" stroke="#1a1a1a" stroke-width="0.3">A6</text>
<text x="1003" y="858.5" font-family="Liberation Sans" font-size="5" font-weight="bold" fill="#1a1a1a" text-anchor="start" stroke="#1a1a1a" stroke-width="0.3">TYP.</text>
<circle cx="1288" cy="857" r="7" stroke="#222" stroke-width="1.43" fill="none"/>
<line x1="1281" y1="857" x2="1295" y2="857" stroke="#222" stroke-width="1.17"/>
<text x="1288" y="855.5" font-family="Liberation Sans" font-size="4.5" font-weight="bold" fill="#1a1a1a" text-anchor="middle" stroke="#1a1a1a" stroke-width="0.3">1</text>
<text x="1288" y="862.5" font-family="Liberation Sans" font-size="4.5" font-weight="bold" fill="#1a1a1a" text-anchor="middle" stroke="#1a1a1a" stroke-width="0.3">A6</text>
<text x="1297" y="858.5" font-family="Liberation Sans" font-size="5" font-weight="bold" fill="#1a1a1a" text-anchor="start" stroke="#1a1a1a" stroke-width="0.3">TYP.</text>
<line x1="1056.3" y1="553" x2="1056.3" y2="576" stroke="#222" stroke-width="1.17"/>
<line x1="1273.4" y1="553" x2="1273.4" y2="579" stroke="#222" stroke-width="1.17"/>
<line x1="852" y1="593" x2="957" y2="593" stroke="#222" stroke-width="1.04"/>
<line x1="1324" y1="596.6" x2="1372" y2="596.6" stroke="#222" stroke-width="1.04"/>
<line x1="994" y1="864" x2="994" y2="893" stroke="#222" stroke-width="1.3"/>
<line x1="1288" y1="864" x2="1288" y2="893" stroke="#222" stroke-width="1.3"/>
<circle cx="1153.6" cy="822.5" r="7" stroke="#222" stroke-width="1.43" fill="none"/>
<line x1="1146.6" y1="822.5" x2="1160.6" y2="822.5" stroke="#222" stroke-width="1.17"/>
<text x="1153.6" y="821" font-family="Liberation Sans" font-size="4.5" font-weight="bold" fill="#1a1a1a" text-anchor="middle" stroke="#1a1a1a" stroke-width="0.3">3</text>
<text x="1153.6" y="828" font-family="Liberation Sans" font-size="4.5" font-weight="bold" fill="#1a1a1a" text-anchor="middle" stroke="#1a1a1a" stroke-width="0.3">A6</text>
<line x1="1153.6" y1="790" x2="1153.6" y2="815" stroke="#222" stroke-width="1.17"/>
<text x="1033.8" y="612" font-family="Liberation Sans" font-size="5.5" font-weight="bold" fill="#333" text-anchor="middle" stroke="#333" stroke-width="0.3">9'-0" CLG.</text>
<text x="1033.8" y="624.8" font-family="Liberation Sans" font-size="12" font-weight="normal" fill="#222" text-anchor="middle" textLength="66" lengthAdjust="spacingAndGlyphs" stroke="#222" stroke-width="0.42000000000000004">LIVING RM</text>
<line x1="1000.8" y1="626.5" x2="1066.8" y2="626.5" stroke="#222" stroke-width="1.04"/>
<text x="1033.8" y="632" font-family="Liberation Sans" font-size="4.5" font-weight="bold" fill="#333" text-anchor="middle" stroke="#333" stroke-width="0.3">16x20x9</text>
<text x="1253" y="612" font-family="Liberation Sans" font-size="5.5" font-weight="bold" fill="#333" text-anchor="middle" stroke="#333" stroke-width="0.3">9'-0" CLG.</text>
<text x="1253" y="624.8" font-family="Liberation Sans" font-size="12" font-weight="normal" fill="#222" text-anchor="middle" textLength="66" lengthAdjust="spacingAndGlyphs" stroke="#222" stroke-width="0.42000000000000004">LIVING RM</text>
<line x1="1220" y1="626.5" x2="1286" y2="626.5" stroke="#222" stroke-width="1.04"/>
<text x="1253" y="632" font-family="Liberation Sans" font-size="4.5" font-weight="bold" fill="#333" text-anchor="middle" stroke="#333" stroke-width="0.3">16x20x9</text>
<text x="1022" y="820" font-family="Liberation Sans" font-size="5.5" font-weight="bold" fill="#333" text-anchor="middle" stroke="#333" stroke-width="0.3">9'-0" CLG.</text>
<text x="1022" y="830.6" font-family="Liberation Sans" font-size="12" font-weight="normal" fill="#222" text-anchor="middle" textLength="68" lengthAdjust="spacingAndGlyphs" stroke="#222" stroke-width="0.42000000000000004">DINING RM</text>
<line x1="988" y1="832.3" x2="1056" y2="832.3" stroke="#222" stroke-width="1.04"/>
<text x="1022" y="839" font-family="Liberation Sans" font-size="4.5" font-weight="bold" fill="#333" text-anchor="middle" stroke="#333" stroke-width="0.3">11x9x9</text>
<text x="1262.6" y="820" font-family="Liberation Sans" font-size="5.5" font-weight="bold" fill="#333" text-anchor="middle" stroke="#333" stroke-width="0.3">9'-0" CLG.</text>
<text x="1262.6" y="830.6" font-family="Liberation Sans" font-size="12" font-weight="normal" fill="#222" text-anchor="middle" textLength="68" lengthAdjust="spacingAndGlyphs" stroke="#222" stroke-width="0.42000000000000004">DINING RM</text>
<line x1="1228.6" y1="832.3" x2="1296.6" y2="832.3" stroke="#222" stroke-width="1.04"/>
<text x="1262.6" y="839" font-family="Liberation Sans" font-size="4.5" font-weight="bold" fill="#333" text-anchor="middle" stroke="#333" stroke-width="0.3">11x9x9</text>
<circle cx="1071.6" cy="728.5" r="3.2" stroke="#222" stroke-width="1.3" fill="none"/>
<text x="1074.6" y="734.5" font-family="Liberation Sans" font-size="3.8" font-weight="bold" fill="#1a1a1a" text-anchor="start" stroke="#1a1a1a" stroke-width="0.3">SD</text>
<circle cx="1211.5" cy="728.5" r="3.2" stroke="#222" stroke-width="1.3" fill="none"/>
<text x="1214.5" y="734.5" font-family="Liberation Sans" font-size="3.8" font-weight="bold" fill="#1a1a1a" text-anchor="start" stroke="#1a1a1a" stroke-width="0.3">SD</text>
<line x1="1076" y1="730" x2="1094.7" y2="730" stroke="#222" stroke-width="1.04"/>
<line x1="1188.3" y1="730" x2="1207" y2="730" stroke="#222" stroke-width="1.04"/>
<line x1="1086" y1="553" x2="1086" y2="811" stroke="#2a3a3a" stroke-width="1.17"/>
<line x1="1083" y1="649.8" x2="1089" y2="643.8" stroke="#111" stroke-width="1.69"/>
<line x1="1083" y1="732.7" x2="1089" y2="726.7" stroke="#111" stroke-width="1.69"/>
<line x1="1083" y1="813" x2="1089" y2="807" stroke="#111" stroke-width="1.69"/>
<text x="1084.5" y="605" font-family="Liberation Sans" font-size="4.6" font-weight="bold" fill="#222" text-anchor="middle" transform="rotate(-90 1084.5 605)" stroke="#222" stroke-width="0.3">9'-8"</text>
<text x="1084.5" y="770" font-family="Liberation Sans" font-size="4.6" font-weight="bold" fill="#222" text-anchor="middle" transform="rotate(-90 1084.5 770)" stroke="#222" stroke-width="0.3">6'-10"</text>
<line x1="1196.8" y1="553" x2="1196.8" y2="811" stroke="#2a3a3a" stroke-width="1.17"/>
<line x1="1193.8" y1="649.8" x2="1199.8" y2="643.8" stroke="#111" stroke-width="1.69"/>
<line x1="1193.8" y1="732.7" x2="1199.8" y2="726.7" stroke="#111" stroke-width="1.69"/>
<line x1="1193.8" y1="813" x2="1199.8" y2="807" stroke="#111" stroke-width="1.69"/>
<text x="1195.3" y="605" font-family="Liberation Sans" font-size="4.6" font-weight="bold" fill="#222" text-anchor="middle" transform="rotate(-90 1195.3 605)" stroke="#222" stroke-width="0.3">9'-8"</text>
<text x="1195.3" y="770" font-family="Liberation Sans" font-size="4.6" font-weight="bold" fill="#222" text-anchor="middle" transform="rotate(-90 1195.3 770)" stroke="#222" stroke-width="0.3">6'-10"</text>
<line x1="1050" y1="646.8" x2="1232.5" y2="646.8" stroke="#222" stroke-width="1.17"/>
<line x1="1050" y1="649.8" x2="1056" y2="643.8" stroke="#111" stroke-width="1.69"/>
<line x1="1092.2" y1="649.8" x2="1098.2" y2="643.8" stroke="#111" stroke-width="1.69"/>
<line x1="1138.4" y1="649.8" x2="1144.4" y2="643.8" stroke="#111" stroke-width="1.69"/>
<line x1="1185" y1="649.8" x2="1191" y2="643.8" stroke="#111" stroke-width="1.69"/>
<line x1="1226.5" y1="649.8" x2="1232.5" y2="643.8" stroke="#111" stroke-width="1.69"/>
<text x="1074.1" y="645.3" font-family="Liberation Sans" font-size="5.2" font-weight="bold" fill="#222" text-anchor="middle" stroke="#222" stroke-width="0.3">3'-6"</text>
<text x="1118.3" y="645.3" font-family="Liberation Sans" font-size="5.2" font-weight="bold" fill="#222" text-anchor="middle" stroke="#222" stroke-width="0.3">4'-0"</text>
<text x="1164.7" y="645.3" font-family="Liberation Sans" font-size="5.2" font-weight="bold" fill="#222" text-anchor="middle" stroke="#222" stroke-width="0.3">4'-0"</text>
<text x="1208.8" y="645.3" font-family="Liberation Sans" font-size="5.2" font-weight="bold" fill="#222" text-anchor="middle" stroke="#222" stroke-width="0.3">3'-6"</text>
<line x1="1050" y1="666.5" x2="1097.7" y2="666.5" stroke="#222" stroke-width="1.17"/>
<line x1="1050" y1="669.5" x2="1056" y2="663.5" stroke="#111" stroke-width="1.69"/>
<line x1="1091.7" y1="669.5" x2="1097.7" y2="663.5" stroke="#111" stroke-width="1.69"/>
<text x="1073.8" y="665" font-family="Liberation Sans" font-size="5.2" font-weight="bold" fill="#222" text-anchor="middle" stroke="#222" stroke-width="0.3">2'-6"</text>
<line x1="1053" y1="643" x2="1053" y2="670" stroke="#222" stroke-width="1.17"/>
<line x1="1075.5" y1="664" x2="1075.5" y2="692" stroke="#222" stroke-width="1.17"/>
<line x1="1072.5" y1="695" x2="1078.5" y2="689" stroke="#111" stroke-width="1.69"/>
<text x="1074" y="678" font-family="Liberation Sans" font-size="4.4" font-weight="bold" fill="#1a1a1a" text-anchor="middle" transform="rotate(-90 1074 678)" stroke="#1a1a1a" stroke-width="0.3">6'-4"</text>
<line x1="1207.3" y1="664" x2="1207.3" y2="692" stroke="#222" stroke-width="1.17"/>
<line x1="1204.3" y1="695" x2="1210.3" y2="689" stroke="#111" stroke-width="1.69"/>
<text x="1205.8" y="678" font-family="Liberation Sans" font-size="4.4" font-weight="bold" fill="#1a1a1a" text-anchor="middle" transform="rotate(-90 1205.8 678)" stroke="#1a1a1a" stroke-width="0.3">6'-4"</text>
<line x1="885.7" y1="467.3" x2="1341.6" y2="467.3" stroke="#222" stroke-width="1.17"/>
<line x1="885.7" y1="470.3" x2="891.7" y2="464.3" stroke="#111" stroke-width="1.69"/>
<line x1="1335.6" y1="470.3" x2="1341.6" y2="464.3" stroke="#111" stroke-width="1.69"/>
<text x="1113.7" y="465.8" font-family="Liberation Sans" font-size="5.2" font-weight="bold" fill="#222" text-anchor="middle" stroke="#222" stroke-width="0.3">38'-0"</text>
<line x1="885.7" y1="479" x2="1341.6" y2="479" stroke="#222" stroke-width="1.17"/>
<line x1="885.7" y1="482" x2="891.7" y2="476" stroke="#111" stroke-width="1.69"/>
<line x1="941.9" y1="482" x2="947.9" y2="476" stroke="#111" stroke-width="1.69"/>
<line x1="1138.4" y1="482" x2="1144.4" y2="476" stroke="#111" stroke-width="1.69"/>
<line x1="1335.6" y1="482" x2="1341.6" y2="476" stroke="#111" stroke-width="1.69"/>
<text x="916.8" y="477.5" font-family="Liberation Sans" font-size="5.2" font-weight="bold" fill="#222" text-anchor="middle" stroke="#222" stroke-width="0.3">5'-0"</text>
<text x="1043.2" y="477.5" font-family="Liberation Sans" font-size="5.2" font-weight="bold" fill="#222" text-anchor="middle" stroke="#222" stroke-width="0.3">17'-0"</text>
<text x="1240" y="477.5" font-family="Liberation Sans" font-size="5.2" font-weight="bold" fill="#222" text-anchor="middle" stroke="#222" stroke-width="0.3">17'-0"</text>
<line x1="885.7" y1="490.4" x2="1341.6" y2="490.4" stroke="#222" stroke-width="1.17"/>
<line x1="885.7" y1="493.4" x2="891.7" y2="487.4" stroke="#111" stroke-width="1.69"/>
<line x1="916.3" y1="493.4" x2="922.3" y2="487.4" stroke="#111" stroke-width="1.69"/>
<line x1="941.9" y1="493.4" x2="947.9" y2="487.4" stroke="#111" stroke-width="1.69"/>
<line x1="976" y1="493.4" x2="982" y2="487.4" stroke="#111" stroke-width="1.69"/>
<line x1="1028" y1="493.4" x2="1034" y2="487.4" stroke="#111" stroke-width="1.69"/>
<line x1="1080.9" y1="493.4" x2="1086.9" y2="487.4" stroke="#111" stroke-width="1.69"/>
<line x1="1138.4" y1="493.4" x2="1144.4" y2="487.4" stroke="#111" stroke-width="1.69"/>
<line x1="1196.8" y1="493.4" x2="1202.8" y2="487.4" stroke="#111" stroke-width="1.69"/>
<line x1="1248" y1="493.4" x2="1254" y2="487.4" stroke="#111" stroke-width="1.69"/>
<line x1="1301" y1="493.4" x2="1307" y2="487.4" stroke="#111" stroke-width="1.69"/>
<line x1="1335.6" y1="493.4" x2="1341.6" y2="487.4" stroke="#111" stroke-width="1.69"/>
<text x="904" y="488.9" font-family="Liberation Sans" font-size="5.2" font-weight="bold" fill="#222" text-anchor="middle" stroke="#222" stroke-width="0.3">2'-3"</text>
<text x="932.1" y="488.9" font-family="Liberation Sans" font-size="5.2" font-weight="bold" fill="#222" text-anchor="middle" stroke="#222" stroke-width="0.3">2'-3"</text>
<text x="962" y="488.9" font-family="Liberation Sans" font-size="5.2" font-weight="bold" fill="#222" text-anchor="middle" stroke="#222" stroke-width="0.3">3'-0"</text>
<text x="1005" y="488.9" font-family="Liberation Sans" font-size="5.2" font-weight="bold" fill="#222" text-anchor="middle" stroke="#222" stroke-width="0.3">4'-6"</text>
<text x="1057.5" y="488.9" font-family="Liberation Sans" font-size="5.2" font-weight="bold" fill="#222" text-anchor="middle" stroke="#222" stroke-width="0.3">4'-9"</text>
<text x="1112.7" y="488.9" font-family="Liberation Sans" font-size="5.2" font-weight="bold" fill="#222" text-anchor="middle" stroke="#222" stroke-width="0.3">5'-10"</text>
<text x="1170.6" y="488.9" font-family="Liberation Sans" font-size="5.2" font-weight="bold" fill="#222" text-anchor="middle" stroke="#222" stroke-width="0.3">5'-10"</text>
<text x="1225.4" y="488.9" font-family="Liberation Sans" font-size="5.2" font-weight="bold" fill="#222" text-anchor="middle" stroke="#222" stroke-width="0.3">4'-6"</text>
<text x="1277.5" y="488.9" font-family="Liberation Sans" font-size="5.2" font-weight="bold" fill="#222" text-anchor="middle" stroke="#222" stroke-width="0.3">4'-6"</text>
<text x="1321.3" y="488.9" font-family="Liberation Sans" font-size="5.2" font-weight="bold" fill="#222" text-anchor="middle" stroke="#222" stroke-width="0.3">3'-0"</text>
<line x1="919.3" y1="487" x2="919.3" y2="646" stroke="#333" stroke-width="1.17"/>
<line x1="944.9" y1="475" x2="944.9" y2="553" stroke="#333" stroke-width="1.17"/>
<line x1="979" y1="487" x2="979" y2="553" stroke="#333" stroke-width="1.17"/>
<line x1="1031" y1="487" x2="1031" y2="553" stroke="#333" stroke-width="1.17"/>
<line x1="1083.9" y1="487" x2="1083.9" y2="553" stroke="#333" stroke-width="1.17"/>
<line x1="1141.4" y1="475" x2="1141.4" y2="553" stroke="#333" stroke-width="1.17"/>
<line x1="1199.8" y1="487" x2="1199.8" y2="553" stroke="#333" stroke-width="1.17"/>
<line x1="1251" y1="487" x2="1251" y2="553" stroke="#333" stroke-width="1.17"/>
<line x1="1304" y1="487" x2="1304" y2="553" stroke="#333" stroke-width="1.17"/>
<line x1="1338.6" y1="463" x2="1338.6" y2="553" stroke="#333" stroke-width="1.17"/>
<line x1="888.7" y1="463" x2="888.7" y2="976" stroke="#333" stroke-width="1.17"/>
<line x1="817" y1="502.7" x2="817" y2="915.6" stroke="#222" stroke-width="1.17"/>
<line x1="814" y1="508.7" x2="820" y2="502.7" stroke="#111" stroke-width="1.69"/>
<line x1="814" y1="556" x2="820" y2="550" stroke="#111" stroke-width="1.69"/>
<line x1="814" y1="882" x2="820" y2="876" stroke="#111" stroke-width="1.69"/>
<line x1="814" y1="915.6" x2="820" y2="909.6" stroke="#111" stroke-width="1.69"/>
<text x="815.5" y="529.4" font-family="Liberation Sans" font-size="5.2" font-weight="bold" fill="#222" text-anchor="middle" transform="rotate(-90 815.5 529.4)" stroke="#222" stroke-width="0.3">4'-0"</text>
<text x="815.5" y="716" font-family="Liberation Sans" font-size="5.2" font-weight="bold" fill="#222" text-anchor="middle" transform="rotate(-90 815.5 716)" stroke="#222" stroke-width="0.3">28'-0"</text>
<text x="815.5" y="895.8" font-family="Liberation Sans" font-size="5.2" font-weight="bold" fill="#222" text-anchor="middle" transform="rotate(-90 815.5 895.8)" stroke="#222" stroke-width="0.3">3'-0"</text>
<line x1="829.3" y1="550" x2="829.3" y2="882" stroke="#222" stroke-width="1.17"/>
<line x1="826.3" y1="556" x2="832.3" y2="550" stroke="#111" stroke-width="1.69"/>
<line x1="826.3" y1="649.7" x2="832.3" y2="643.7" stroke="#111" stroke-width="1.69"/>
<line x1="826.3" y1="787.8" x2="832.3" y2="781.8" stroke="#111" stroke-width="1.69"/>
<line x1="826.3" y1="882" x2="832.3" y2="876" stroke="#111" stroke-width="1.69"/>
<text x="827.8" y="599.9" font-family="Liberation Sans" font-size="5.2" font-weight="bold" fill="#222" text-anchor="middle" transform="rotate(-90 827.8 599.9)" stroke="#222" stroke-width="0.3">8'-0"</text>
<text x="827.8" y="715.8" font-family="Liberation Sans" font-size="5.2" font-weight="bold" fill="#222" text-anchor="middle" transform="rotate(-90 827.8 715.8)" stroke="#222" stroke-width="0.3">11'-0"</text>
<text x="827.8" y="831.9" font-family="Liberation Sans" font-size="5.2" font-weight="bold" fill="#222" text-anchor="middle" transform="rotate(-90 827.8 831.9)" stroke="#222" stroke-width="0.3">8'-0"</text>
<line x1="841" y1="643.7" x2="841" y2="787.8" stroke="#222" stroke-width="1.17"/>
<line x1="838" y1="649.7" x2="844" y2="643.7" stroke="#111" stroke-width="1.69"/>
<line x1="838" y1="714" x2="844" y2="708" stroke="#111" stroke-width="1.69"/>
<line x1="838" y1="787.8" x2="844" y2="781.8" stroke="#111" stroke-width="1.69"/>
<text x="839.5" y="678.9" font-family="Liberation Sans" font-size="5.2" font-weight="bold" fill="#222" text-anchor="middle" transform="rotate(-90 839.5 678.9)" stroke="#222" stroke-width="0.3">5'-9"</text>
<text x="839.5" y="747.9" font-family="Liberation Sans" font-size="5.2" font-weight="bold" fill="#222" text-anchor="middle" transform="rotate(-90 839.5 747.9)" stroke="#222" stroke-width="0.3">6'-4"</text>
<line x1="852" y1="550" x2="852" y2="882" stroke="#222" stroke-width="1.17"/>
<line x1="849" y1="556" x2="855" y2="550" stroke="#111" stroke-width="1.69"/>
<line x1="849" y1="596" x2="855" y2="590" stroke="#111" stroke-width="1.69"/>
<line x1="849" y1="649.7" x2="855" y2="643.7" stroke="#111" stroke-width="1.69"/>
<line x1="849" y1="714" x2="855" y2="708" stroke="#111" stroke-width="1.69"/>
<line x1="849" y1="749" x2="855" y2="743" stroke="#111" stroke-width="1.69"/>
<line x1="849" y1="787.8" x2="855" y2="781.8" stroke="#111" stroke-width="1.69"/>
<line x1="849" y1="841" x2="855" y2="835" stroke="#111" stroke-width="1.69"/>
<line x1="849" y1="882" x2="855" y2="876" stroke="#111" stroke-width="1.69"/>
<text x="850.5" y="573" font-family="Liberation Sans" font-size="5.2" font-weight="bold" fill="#222" text-anchor="middle" transform="rotate(-90 850.5 573)" stroke="#222" stroke-width="0.3">3'-6"</text>
<text x="850.5" y="619.9" font-family="Liberation Sans" font-size="5.2" font-weight="bold" fill="#222" text-anchor="middle" transform="rotate(-90 850.5 619.9)" stroke="#222" stroke-width="0.3">4'-6"</text>
<text x="850.5" y="678.9" font-family="Liberation Sans" font-size="5.2" font-weight="bold" fill="#222" text-anchor="middle" transform="rotate(-90 850.5 678.9)" stroke="#222" stroke-width="0.3">3'-9"</text>
<text x="850.5" y="728.5" font-family="Liberation Sans" font-size="5.2" font-weight="bold" fill="#222" text-anchor="middle" transform="rotate(-90 850.5 728.5)" stroke="#222" stroke-width="0.3">3'-0"</text>
<text x="850.5" y="765.4" font-family="Liberation Sans" font-size="5.2" font-weight="bold" fill="#222" text-anchor="middle" transform="rotate(-90 850.5 765.4)" stroke="#222" stroke-width="0.3">3'-4"</text>
<text x="850.5" y="811.4" font-family="Liberation Sans" font-size="5.2" font-weight="bold" fill="#222" text-anchor="middle" transform="rotate(-90 850.5 811.4)" stroke="#222" stroke-width="0.3">4'-6"</text>
<text x="850.5" y="858.5" font-family="Liberation Sans" font-size="5.2" font-weight="bold" fill="#222" text-anchor="middle" transform="rotate(-90 850.5 858.5)" stroke="#222" stroke-width="0.3">3'-6"</text>
<line x1="812" y1="553" x2="944.6" y2="553" stroke="#333" stroke-width="1.04"/>
<line x1="825" y1="646.7" x2="888.5" y2="646.7" stroke="#333" stroke-width="1.04"/>
<line x1="825" y1="784.8" x2="888.5" y2="784.8" stroke="#333" stroke-width="1.04"/>
<line x1="812" y1="879" x2="944.6" y2="879" stroke="#333" stroke-width="1.04"/>
<line x1="837" y1="711" x2="888.5" y2="711" stroke="#333" stroke-width="1.04"/>
<line x1="848" y1="746" x2="888.5" y2="746" stroke="#333" stroke-width="1.04"/>
<line x1="848" y1="838" x2="944.6" y2="838" stroke="#333" stroke-width="1.04"/>
<line x1="848" y1="593" x2="944.6" y2="593" stroke="#333" stroke-width="1.04"/>
<line x1="1361.7" y1="551.6" x2="1361.7" y2="882" stroke="#222" stroke-width="1.17"/>
<line x1="1358.7" y1="557.6" x2="1364.7" y2="551.6" stroke="#111" stroke-width="1.69"/>
<line x1="1358.7" y1="781" x2="1364.7" y2="775" stroke="#111" stroke-width="1.69"/>
<line x1="1358.7" y1="882" x2="1364.7" y2="876" stroke="#111" stroke-width="1.69"/>
<text x="1360.2" y="666.3" font-family="Liberation Sans" font-size="5.2" font-weight="bold" fill="#222" text-anchor="middle" transform="rotate(-90 1360.2 666.3)" stroke="#222" stroke-width="0.3">15'-10"</text>
<text x="1360.2" y="828.5" font-family="Liberation Sans" font-size="5.2" font-weight="bold" fill="#222" text-anchor="middle" transform="rotate(-90 1360.2 828.5)" stroke="#222" stroke-width="0.3">9'-2"</text>
<line x1="1372.6" y1="551.6" x2="1372.6" y2="882" stroke="#222" stroke-width="1.17"/>
<line x1="1369.6" y1="557.6" x2="1375.6" y2="551.6" stroke="#111" stroke-width="1.69"/>
<line x1="1369.6" y1="596" x2="1375.6" y2="590" stroke="#111" stroke-width="1.69"/>
<line x1="1369.6" y1="781" x2="1375.6" y2="775" stroke="#111" stroke-width="1.69"/>
<line x1="1369.6" y1="839" x2="1375.6" y2="833" stroke="#111" stroke-width="1.69"/>
<line x1="1369.6" y1="882" x2="1375.6" y2="876" stroke="#111" stroke-width="1.69"/>
<text x="1371.1" y="573.8" font-family="Liberation Sans" font-size="5.2" font-weight="bold" fill="#222" text-anchor="middle" transform="rotate(-90 1371.1 573.8)" stroke="#222" stroke-width="0.3">3'-6"</text>
<text x="1371.1" y="685.5" font-family="Liberation Sans" font-size="5.2" font-weight="bold" fill="#222" text-anchor="middle" transform="rotate(-90 1371.1 685.5)" stroke="#222" stroke-width="0.3">11'-4"</text>
<text x="1371.1" y="807" font-family="Liberation Sans" font-size="5.2" font-weight="bold" fill="#222" text-anchor="middle" transform="rotate(-90 1371.1 807)" stroke="#222" stroke-width="0.3">5'-0"</text>
<text x="1371.1" y="857.5" font-family="Liberation Sans" font-size="5.2" font-weight="bold" fill="#222" text-anchor="middle" transform="rotate(-90 1371.1 857.5)" stroke="#222" stroke-width="0.3">3'-6"</text>
<line x1="1383.6" y1="503" x2="1383.6" y2="916.2" stroke="#222" stroke-width="1.17"/>
<line x1="1380.6" y1="509" x2="1386.6" y2="503" stroke="#111" stroke-width="1.69"/>
<line x1="1380.6" y1="557.6" x2="1386.6" y2="551.6" stroke="#111" stroke-width="1.69"/>
<line x1="1380.6" y1="882" x2="1386.6" y2="876" stroke="#111" stroke-width="1.69"/>
<line x1="1380.6" y1="916.2" x2="1386.6" y2="910.2" stroke="#111" stroke-width="1.69"/>
<text x="1382.1" y="530.3" font-family="Liberation Sans" font-size="5.2" font-weight="bold" fill="#222" text-anchor="middle" transform="rotate(-90 1382.1 530.3)" stroke="#222" stroke-width="0.3">4'-0"</text>
<text x="1382.1" y="716.8" font-family="Liberation Sans" font-size="5.2" font-weight="bold" fill="#222" text-anchor="middle" transform="rotate(-90 1382.1 716.8)" stroke="#222" stroke-width="0.3">28'-0"</text>
<text x="1382.1" y="896.1" font-family="Liberation Sans" font-size="5.2" font-weight="bold" fill="#222" text-anchor="middle" transform="rotate(-90 1382.1 896.1)" stroke="#222" stroke-width="0.3">1'-0"</text>
<line x1="1338" y1="554.6" x2="1388" y2="554.6" stroke="#333" stroke-width="1.04"/>
<line x1="1337" y1="778" x2="1376" y2="778" stroke="#333" stroke-width="1.04"/>
<line x1="1337" y1="879" x2="1388" y2="879" stroke="#333" stroke-width="1.04"/>
<line x1="1337" y1="836" x2="1376" y2="836" stroke="#333" stroke-width="1.04"/>
<line x1="1337" y1="593" x2="1376" y2="593" stroke="#333" stroke-width="1.04"/>
<line x1="1340" y1="913.2" x2="1388" y2="913.2" stroke="#333" stroke-width="1.04"/>
<line x1="938.4" y1="929.6" x2="1099.3" y2="929.6" stroke="#222" stroke-width="1.17"/>
<line x1="938.4" y1="932.6" x2="944.4" y2="926.6" stroke="#111" stroke-width="1.69"/>
<line x1="968" y1="932.6" x2="974" y2="926.6" stroke="#111" stroke-width="1.69"/>
<line x1="1013" y1="932.6" x2="1019" y2="926.6" stroke="#111" stroke-width="1.69"/>
<line x1="1070.7" y1="932.6" x2="1076.7" y2="926.6" stroke="#111" stroke-width="1.69"/>
<line x1="1093.3" y1="932.6" x2="1099.3" y2="926.6" stroke="#111" stroke-width="1.69"/>
<text x="956.2" y="928.1" font-family="Liberation Sans" font-size="5.2" font-weight="bold" fill="#222" text-anchor="middle" stroke="#222" stroke-width="0.3">2'-6"</text>
<text x="1044.8" y="928.1" font-family="Liberation Sans" font-size="5.2" font-weight="bold" fill="#222" text-anchor="middle" stroke="#222" stroke-width="0.3">4'-9"</text>
<text x="1085" y="928.1" font-family="Liberation Sans" font-size="5.2" font-weight="bold" fill="#222" text-anchor="middle" stroke="#222" stroke-width="0.3">1'-3"</text>
<line x1="1180.4" y1="929.6" x2="1339.6" y2="929.6" stroke="#222" stroke-width="1.17"/>
<line x1="1180.4" y1="932.6" x2="1186.4" y2="926.6" stroke="#111" stroke-width="1.69"/>
<line x1="1203" y1="932.6" x2="1209" y2="926.6" stroke="#111" stroke-width="1.69"/>
<line x1="1258.7" y1="932.6" x2="1264.7" y2="926.6" stroke="#111" stroke-width="1.69"/>
<line x1="1304" y1="932.6" x2="1310" y2="926.6" stroke="#111" stroke-width="1.69"/>
<line x1="1333.6" y1="932.6" x2="1339.6" y2="926.6" stroke="#111" stroke-width="1.69"/>
<text x="1194.7" y="928.1" font-family="Liberation Sans" font-size="5.2" font-weight="bold" fill="#222" text-anchor="middle" stroke="#222" stroke-width="0.3">1'-3"</text>
<text x="1233.8" y="928.1" font-family="Liberation Sans" font-size="5.2" font-weight="bold" fill="#222" text-anchor="middle" stroke="#222" stroke-width="0.3">4'-9"</text>
<text x="1284.3" y="928.1" font-family="Liberation Sans" font-size="5.2" font-weight="bold" fill="#222" text-anchor="middle" stroke="#222" stroke-width="0.3">4'-0"</text>
<text x="1321.8" y="928.1" font-family="Liberation Sans" font-size="5.2" font-weight="bold" fill="#222" text-anchor="middle" stroke="#222" stroke-width="0.3">2'-6"</text>
<line x1="938.4" y1="941" x2="1339.6" y2="941" stroke="#222" stroke-width="1.17"/>
<line x1="938.4" y1="944" x2="944.4" y2="938" stroke="#111" stroke-width="1.69"/>
<line x1="1093.3" y1="944" x2="1099.3" y2="938" stroke="#111" stroke-width="1.69"/>
<line x1="1136.8" y1="944" x2="1142.8" y2="938" stroke="#111" stroke-width="1.69"/>
<line x1="1180.4" y1="944" x2="1186.4" y2="938" stroke="#111" stroke-width="1.69"/>
<line x1="1333.6" y1="944" x2="1339.6" y2="938" stroke="#111" stroke-width="1.69"/>
<text x="1018.8" y="939.5" font-family="Liberation Sans" font-size="5.2" font-weight="bold" fill="#222" text-anchor="middle" stroke="#222" stroke-width="0.3">13'-3"</text>
<text x="1118" y="939.5" font-family="Liberation Sans" font-size="5.2" font-weight="bold" fill="#222" text-anchor="middle" stroke="#222" stroke-width="0.3">3'-10"</text>
<text x="1161.6" y="939.5" font-family="Liberation Sans" font-size="5.2" font-weight="bold" fill="#222" text-anchor="middle" stroke="#222" stroke-width="0.3">3'-10"</text>
<text x="1260" y="939.5" font-family="Liberation Sans" font-size="5.2" font-weight="bold" fill="#222" text-anchor="middle" stroke="#222" stroke-width="0.3">13'-3"</text>
<line x1="938.4" y1="952.2" x2="1339.6" y2="952.2" stroke="#222" stroke-width="1.17"/>
<line x1="938.4" y1="955.2" x2="944.4" y2="949.2" stroke="#111" stroke-width="1.69"/>
<line x1="1136.8" y1="955.2" x2="1142.8" y2="949.2" stroke="#111" stroke-width="1.69"/>
<line x1="1333.6" y1="955.2" x2="1339.6" y2="949.2" stroke="#111" stroke-width="1.69"/>
<text x="1040.6" y="950.7" font-family="Liberation Sans" font-size="5.2" font-weight="bold" fill="#222" text-anchor="middle" stroke="#222" stroke-width="0.3">17'-0"</text>
<text x="1238.2" y="950.7" font-family="Liberation Sans" font-size="5.2" font-weight="bold" fill="#222" text-anchor="middle" stroke="#222" stroke-width="0.3">17'-0"</text>
<line x1="882.7" y1="964.4" x2="1339.6" y2="964.4" stroke="#222" stroke-width="1.17"/>
<line x1="882.7" y1="967.4" x2="888.7" y2="961.4" stroke="#111" stroke-width="1.69"/>
<line x1="938.4" y1="967.4" x2="944.4" y2="961.4" stroke="#111" stroke-width="1.69"/>
<line x1="1333.6" y1="967.4" x2="1339.6" y2="961.4" stroke="#111" stroke-width="1.69"/>
<text x="913.5" y="962.9" font-family="Liberation Sans" font-size="5.2" font-weight="bold" fill="#222" text-anchor="middle" stroke="#222" stroke-width="0.3">5'-0"</text>
<text x="1139" y="962.9" font-family="Liberation Sans" font-size="5.2" font-weight="bold" fill="#222" text-anchor="middle" stroke="#222" stroke-width="0.3">34'-0"</text>
<line x1="882.7" y1="976" x2="1339.6" y2="976" stroke="#222" stroke-width="1.17"/>
<line x1="882.7" y1="979" x2="888.7" y2="973" stroke="#111" stroke-width="1.69"/>
<line x1="1333.6" y1="979" x2="1339.6" y2="973" stroke="#111" stroke-width="1.69"/>
<text x="1111.2" y="974.5" font-family="Liberation Sans" font-size="5.2" font-weight="bold" fill="#222" text-anchor="middle" stroke="#222" stroke-width="0.3">39'-0"</text>
<line x1="941.4" y1="878" x2="941.4" y2="967" stroke="#333" stroke-width="1.17"/>
<line x1="971" y1="900" x2="971" y2="933" stroke="#333" stroke-width="1.17"/>
<line x1="1016" y1="880" x2="1016" y2="933" stroke="#333" stroke-width="1.17"/>
<line x1="1073.7" y1="880" x2="1073.7" y2="933" stroke="#333" stroke-width="1.17"/>
<line x1="1096.3" y1="878" x2="1096.3" y2="945" stroke="#333" stroke-width="1.17"/>
<line x1="1139.8" y1="878" x2="1139.8" y2="956" stroke="#333" stroke-width="1.17"/>
<line x1="1183.4" y1="878" x2="1183.4" y2="945" stroke="#333" stroke-width="1.17"/>
<line x1="1206" y1="900" x2="1206" y2="933" stroke="#333" stroke-width="1.17"/>
<line x1="1261.7" y1="880" x2="1261.7" y2="933" stroke="#333" stroke-width="1.17"/>
<line x1="1307" y1="880" x2="1307" y2="933" stroke="#333" stroke-width="1.17"/>
<line x1="1336.6" y1="878" x2="1336.6" y2="980" stroke="#333" stroke-width="1.17"/>
<text x="900.6" y="985.3" font-family="Liberation Sans" font-size="7" font-weight="normal" fill="#222" text-anchor="start" textLength="107" lengthAdjust="spacingAndGlyphs" stroke="#222" stroke-width="0.35">MAIN FLR. = 476 SQ. FT.</text>
<text x="1225" y="985.3" font-family="Liberation Sans" font-size="7" font-weight="normal" fill="#222" text-anchor="start" textLength="110" lengthAdjust="spacingAndGlyphs" stroke="#222" stroke-width="0.35">MAIN FLR. = 476 SQ. FT.</text>
<path d="M1030,979 L1030,1001 L1040.6,1001" stroke="#111" stroke-width="2.86" fill="none"/>
<path d="M1030,996 L1040.6,1001 L1030,1001 Z" stroke="#222" stroke-width="0.65" fill="#111"/>
<path d="M1162.5,979 L1162.5,1001 L1150,1001" stroke="#111" stroke-width="2.86" fill="none"/>
<path d="M1162.5,996 L1150,1001 L1162.5,1001 Z" stroke="#222" stroke-width="0.65" fill="#111"/>
<text x="1032.6" y="1022" font-family="Liberation Sans" font-size="15.5" font-weight="normal" fill="#222" text-anchor="start" textLength="175" lengthAdjust="spacingAndGlyphs" stroke="#222" stroke-width="0.5425000000000001">MAIN FLOOR PLAN</text>
<line x1="1032.6" y1="1023.8" x2="1207.7" y2="1023.8" stroke="#222" stroke-width="1.56"/>
<text x="1032.6" y="1032.5" font-family="Liberation Sans" font-size="7.5" font-weight="normal" fill="#444" text-anchor="start" textLength="97" lengthAdjust="spacingAndGlyphs" stroke="#444" stroke-width="0.35">SCALE : 1/4" = 1'-0"</text>
<circle cx="1029.6" cy="440.7" r="11" stroke="#111" stroke-width="2.08" fill="none"/>
<line x1="1018.6" y1="440.7" x2="1040.6" y2="440.7" stroke="#222" stroke-width="1.3"/>
<text x="1029.6" y="438.7" font-family="Liberation Sans" font-size="5.5" font-weight="bold" fill="#1a1a1a" text-anchor="middle" stroke="#1a1a1a" stroke-width="0.3">A</text>
<text x="1029.6" y="448.2" font-family="Liberation Sans" font-size="5.5" font-weight="bold" fill="#1a1a1a" text-anchor="middle" stroke="#1a1a1a" stroke-width="0.3">A4</text>
<line x1="1029.6" y1="451.7" x2="1029.6" y2="464" stroke="#111" stroke-width="3.9"/>
<path d="M1030.1,424 L1046,440.7 L1032.1,455" stroke="#111" stroke-width="1.95" fill="none"/>
<path d="M1030.1,424 L1037.1,431 L1030.1,430 Z" stroke="#111" stroke-width="0.78" fill="#111"/>
<path d="M1040.4,436.7 L1046,440.7 L1040.4,444.7 Z" stroke="#111" stroke-width="0.78" fill="#111"/>
<circle cx="1163" cy="440" r="11" stroke="#111" stroke-width="2.08" fill="none"/>
<line x1="1152" y1="440" x2="1174" y2="440" stroke="#222" stroke-width="1.3"/>
<text x="1163" y="438" font-family="Liberation Sans" font-size="5.5" font-weight="bold" fill="#1a1a1a" text-anchor="middle" stroke="#1a1a1a" stroke-width="0.3">D</text>
<text x="1163" y="447.5" font-family="Liberation Sans" font-size="5.5" font-weight="bold" fill="#1a1a1a" text-anchor="middle" stroke="#1a1a1a" stroke-width="0.3">A4</text>
<line x1="1163" y1="451" x2="1163" y2="464" stroke="#111" stroke-width="3.9"/>
<path d="M1162.5,423.5 L1147,440 L1160.5,455" stroke="#111" stroke-width="1.95" fill="none"/>
<path d="M1162.5,423.5 L1155.5,430.5 L1162.5,429.5 Z" stroke="#111" stroke-width="0.78" fill="#111"/>
<path d="M1152.6,436 L1147,440 L1152.6,444 Z" stroke="#111" stroke-width="0.78" fill="#111"/>
<circle cx="779.7" cy="712.5" r="10" stroke="#222" stroke-width="1.69" fill="none"/>
<line x1="764" y1="712.5" x2="804" y2="712.5" stroke="#222" stroke-width="1.3"/>
<text x="779.7" y="710" font-family="Liberation Sans" font-size="5" font-weight="bold" fill="#1a1a1a" text-anchor="middle" stroke="#1a1a1a" stroke-width="0.3">C</text>
<text x="779.7" y="719" font-family="Liberation Sans" font-size="5" font-weight="bold" fill="#1a1a1a" text-anchor="middle" stroke="#1a1a1a" stroke-width="0.3">A5</text>
<path d="M779.7,700 L770,712.5 M779.7,700 L790,712.5" stroke="#222" stroke-width="1.56" fill="none"/>
<path d="M1410,708 L1410,717 L1390,717" stroke="#111" stroke-width="2.6" fill="none"/>
<path d="M1410,711 L1403,717 L1410,717 Z" stroke="#222" stroke-width="0.65" fill="#111"/>
</svg>
</body></html>
